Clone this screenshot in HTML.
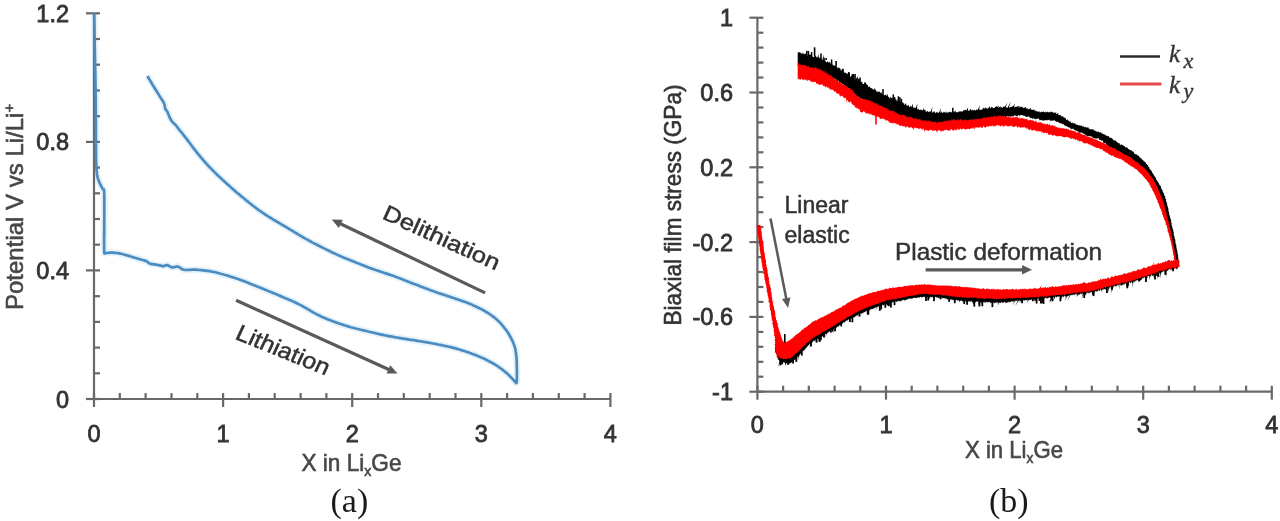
<!DOCTYPE html>
<html><head><meta charset="utf-8"><title>Chart</title>
<style>html,body{margin:0;padding:0;background:#fff;width:1280px;height:521px;overflow:hidden}svg{display:block;filter:blur(0.35px)}</style>
</head><body>
<svg width="1280" height="521" viewBox="0 0 1280 521"><path d="M94.2,13.3 L94.2,14.9 L94.3,16.9 L94.3,19.2 L94.3,21.9 L94.4,24.8 L94.4,27.8 L94.5,30.9 L94.5,34.0 L94.6,37.1 L94.6,40.0 L94.7,42.9 L94.7,45.8 L94.8,48.8 L94.8,51.8 L94.9,54.8 L95.0,57.8 L95.0,60.9 L95.1,63.9 L95.1,67.0 L95.2,70.0 L95.3,72.9 L95.3,75.7 L95.4,78.4 L95.4,81.0 L95.5,83.8 L95.5,86.6 L95.6,89.5 L95.6,92.7 L95.7,96.2 L95.7,100.0 L95.7,104.3 L95.8,109.2 L95.8,114.5 L95.8,120.0 L95.9,125.7 L95.9,131.3 L95.9,136.6 L95.9,141.7 L96.0,146.2 L96.0,150.0 L96.0,153.2 L96.1,155.9 L96.1,158.3 L96.1,160.3 L96.2,162.0 L96.2,163.6 L96.3,165.0 L96.3,166.3 L96.4,167.6 L96.5,169.0 L96.6,170.4 L96.7,171.6 L96.8,172.6 L96.9,173.6 L97.0,174.5 L97.2,175.3 L97.3,176.2 L97.5,177.0 L97.7,177.9 L98.0,178.8 L98.3,179.8 L98.7,180.8 L99.2,181.8 L99.6,182.9 L100.1,183.9 L100.6,184.9 L101.1,185.9 L101.5,186.8 L102.0,187.6 L102.3,188.4 L102.6,188.9 L102.9,189.1 L103.1,189.2 L103.3,189.1 L103.5,189.0 L103.7,189.1 L103.8,189.5 L104.0,190.2 L104.1,191.3 L104.2,193.1 L104.3,195.6 L104.3,198.7 L104.3,202.3 L104.3,206.3 L104.3,210.5 L104.3,214.8 L104.3,219.0 L104.2,223.1 L104.2,226.8 L104.2,230.0 L104.2,232.9 L104.2,235.6 L104.1,238.2 L104.1,240.7 L104.1,243.0 L104.1,245.1 L104.1,247.0 L104.1,248.7 L104.1,250.2 L104.2,251.5 L104.3,252.5 L104.4,253.1 L104.4,253.5 L104.5,253.6 L104.6,253.6 L104.8,253.5 L105.0,253.3 L105.2,253.1 L105.5,253.0 L105.8,253.0 L106.2,253.0 L106.6,253.0 L107.1,253.0 L107.7,252.9 L108.3,252.8 L108.9,252.8 L109.5,252.7 L110.2,252.6 L110.8,252.6 L111.5,252.6 L112.2,252.6 L112.9,252.7 L113.6,252.7 L114.3,252.8 L115.1,252.8 L115.9,252.9 L116.7,253.0 L117.5,253.1 L118.3,253.2 L119.2,253.4 L120.1,253.6 L121.0,253.8 L121.9,254.0 L122.9,254.3 L123.9,254.5 L124.9,254.8 L125.9,255.1 L126.8,255.3 L127.8,255.6 L128.8,255.9 L129.8,256.2 L130.8,256.5 L131.7,256.8 L132.7,257.1 L133.7,257.4 L134.7,257.7 L135.7,258.0 L136.6,258.3 L137.5,258.5 L138.4,258.8 L139.3,259.1 L140.1,259.3 L141.0,259.5 L141.8,259.8 L142.6,260.0 L143.4,260.2 L144.1,260.4 L144.8,260.6 L145.5,260.9 L146.1,261.1 L146.6,261.3 L147.0,261.6 L147.4,261.9 L147.7,262.1 L148.0,262.4 L148.3,262.7 L148.6,262.9 L149.0,263.2 L149.4,263.4 L149.9,263.6 L150.5,263.8 L151.2,263.9 L152.0,264.1 L152.8,264.2 L153.6,264.3 L154.5,264.4 L155.3,264.6 L156.1,264.7 L156.9,264.8 L157.6,264.9 L158.3,265.0 L158.9,265.2 L159.5,265.3 L160.1,265.5 L160.7,265.6 L161.2,265.8 L161.8,265.9 L162.3,266.0 L162.8,266.1 L163.3,266.1 L163.8,266.1 L164.2,266.0 L164.6,265.9 L164.9,265.7 L165.3,265.5 L165.7,265.4 L166.0,265.2 L166.4,265.1 L166.8,265.1 L167.2,265.1 L167.6,265.2 L168.1,265.4 L168.6,265.6 L169.1,265.9 L169.5,266.2 L170.0,266.6 L170.5,266.8 L171.0,267.1 L171.5,267.3 L172.0,267.4 L172.5,267.4 L173.0,267.4 L173.5,267.3 L174.1,267.2 L174.6,267.1 L175.1,266.9 L175.6,266.8 L176.0,266.6 L176.4,266.6 L176.8,266.5 L177.1,266.5 L177.3,266.5 L177.5,266.4 L177.6,266.5 L177.8,266.5 L177.9,266.5 L178.0,266.6 L178.2,266.6 L178.4,266.8 L178.7,266.9 L179.1,267.1 L179.5,267.3 L179.9,267.6 L180.4,268.0 L180.9,268.3 L181.4,268.7 L182.0,269.0 L182.5,269.3 L183.0,269.5 L183.5,269.7 L184.0,269.8 L184.4,269.9 L184.8,270.0 L185.3,270.0 L185.7,270.0 L186.2,270.0 L186.6,270.0 L187.2,269.9 L187.7,269.9 L188.3,269.9 L188.9,269.9 L189.6,269.9 L190.2,269.8 L190.9,269.8 L191.6,269.7 L192.4,269.7 L193.2,269.7 L194.1,269.6 L195.0,269.7 L196.0,269.7 L197.1,269.8 L198.3,269.9 L199.7,270.0 L201.1,270.1 L202.5,270.3 L203.9,270.4 L205.3,270.6 L206.7,270.8 L208.0,270.9 L214.1,272.0 L214.6,272.1 L215.1,272.2 L215.5,272.3 L216.0,272.4 L216.5,272.6 L217.0,272.7 L217.4,272.8 L217.9,272.9 L218.4,273.1 L218.9,273.2 L219.8,273.5 L220.8,273.7 L221.7,274.0 L222.7,274.2 L223.6,274.5 L224.6,274.7 L225.5,275.0 L226.5,275.3 L227.4,275.6 L228.4,275.9 L229.4,276.2 L230.3,276.5 L231.3,276.8 L232.2,277.1 L233.2,277.4 L234.2,277.7 L235.1,278.0 L236.1,278.3 L237.0,278.7 L238.0,279.0 L239.0,279.3 L239.9,279.7 L240.9,280.0 L241.8,280.4 L242.8,280.7 L243.8,281.1 L244.7,281.5 L245.7,281.8 L246.6,282.2 L247.6,282.6 L248.6,283.0 L249.5,283.4 L250.5,283.8 L251.4,284.2 L252.4,284.5 L253.3,284.9 L254.3,285.3 L255.3,285.7 L256.2,286.1 L257.2,286.5 L258.1,286.8 L259.1,287.2 L260.1,287.6 L261.1,288.0 L262.1,288.4 L263.1,288.8 L264.1,289.2 L265.1,289.7 L266.1,290.1 L267.1,290.5 L268.2,290.9 L269.2,291.4 L270.3,291.8 L271.4,292.2 L272.5,292.7 L273.6,293.2 L274.7,293.6 L275.8,294.1 L277.0,294.6 L278.1,295.1 L279.2,295.6 L280.4,296.0 L281.5,296.5 L282.6,297.0 L283.7,297.5 L284.8,297.9 L285.9,298.4 L287.0,298.8 L288.1,299.3 L289.1,299.7 L290.2,300.2 L291.2,300.6 L292.3,301.1 L293.3,301.6 L294.3,302.0 L295.3,302.5 L296.3,303.0 L297.3,303.5 L298.3,303.9 L299.2,304.4 L300.2,304.9 L301.2,305.4 L302.1,305.9 L303.1,306.5 L304.0,307.0 L305.0,307.5 L305.9,308.1 L306.9,308.6 L307.8,309.2 L308.8,309.8 L309.8,310.3 L310.7,310.9 L311.7,311.5 L312.6,312.0 L313.6,312.6 L314.6,313.1 L315.5,313.6 L316.5,314.1 L317.4,314.6 L318.4,315.1 L319.4,315.5 L320.3,316.0 L321.3,316.5 L322.2,316.9 L323.2,317.3 L324.2,317.8 L325.1,318.2 L326.1,318.6 L327.0,319.0 L328.0,319.4 L329.0,319.8 L329.9,320.1 L330.9,320.5 L331.8,320.9 L332.8,321.2 L333.8,321.6 L334.7,321.9 L335.7,322.3 L336.6,322.6 L337.6,323.0 L338.6,323.3 L339.5,323.6 L340.5,324.0 L341.4,324.3 L342.4,324.6 L343.4,324.9 L344.3,325.2 L345.3,325.5 L346.2,325.8 L347.2,326.1 L348.2,326.4 L349.1,326.7 L350.1,327.0 L351.0,327.3 L352.0,327.5 L353.0,327.8 L353.9,328.0 L354.9,328.3 L355.8,328.5 L356.8,328.8 L357.8,329.0 L358.7,329.2 L359.7,329.5 L360.6,329.7 L361.6,329.9 L362.5,330.2 L363.5,330.4 L364.4,330.6 L365.4,330.8 L366.3,331.0 L367.3,331.3 L368.3,331.5 L369.3,331.7 L370.3,332.0 L371.3,332.2 L372.3,332.4 L373.4,332.7 L374.5,333.0 L375.6,333.2 L376.7,333.5 L377.9,333.8 L379.1,334.1 L380.3,334.3 L381.6,334.6 L383.0,334.9 L384.4,335.2 L385.9,335.5 L387.5,335.8 L389.0,336.1 L390.6,336.4 L392.2,336.7 L393.9,337.0 L395.5,337.3 L397.1,337.5 L398.7,337.8 L400.3,338.1 L401.9,338.4 L403.5,338.6 L405.1,338.9 L406.6,339.1 L408.1,339.4 L409.6,339.6 L411.1,339.8 L412.5,340.0 L413.8,340.2 L415.1,340.4 L416.3,340.6 L417.5,340.8 L418.6,341.0 L419.7,341.2 L420.8,341.3 L421.8,341.5 L422.8,341.7 L423.8,341.8 L424.8,342.0 L425.8,342.2 L426.7,342.3 L427.7,342.5 L428.7,342.7 L429.6,342.8 L430.6,343.0 L431.6,343.2 L432.5,343.4 L433.5,343.5 L434.4,343.7 L435.4,343.9 L436.3,344.1 L437.3,344.3 L438.2,344.5 L439.2,344.7 L440.2,344.9 L441.1,345.1 L442.1,345.2 L443.0,345.5 L444.0,345.7 L445.0,345.9 L445.9,346.1 L446.9,346.3 L447.8,346.5 L448.8,346.7 L449.8,346.9 L450.7,347.1 L451.7,347.4 L452.6,347.6 L453.6,347.9 L454.6,348.1 L455.5,348.4 L456.5,348.6 L457.4,348.9 L458.4,349.2 L459.4,349.5 L460.3,349.8 L461.3,350.1 L462.2,350.4 L463.2,350.7 L464.2,351.0 L465.1,351.3 L466.1,351.6 L467.0,352.0 L468.0,352.3 L469.0,352.6 L469.9,353.0 L470.9,353.3 L471.8,353.7 L472.8,354.0 L473.8,354.4 L474.7,354.7 L475.7,355.1 L476.6,355.5 L477.6,355.9 L478.5,356.3 L479.5,356.7 L480.4,357.1 L481.4,357.5 L482.4,357.9 L483.3,358.3 L484.3,358.8 L485.2,359.2 L486.2,359.7 L487.1,360.2 L488.1,360.7 L489.0,361.2 L490.0,361.7 L490.9,362.2 L491.9,362.7 L492.8,363.3 L493.8,363.8 L494.7,364.4 L495.6,364.9 L496.5,365.5 L497.4,366.1 L498.3,366.7 L499.2,367.3 L500.0,367.9 L500.9,368.5 L501.7,369.1 L502.5,369.7 L503.2,370.3 L504.0,370.9 L504.7,371.5 L505.4,372.1 L506.1,372.7 L506.8,373.2 L507.4,373.8 L508.0,374.4 L508.6,374.9 L509.2,375.5 L509.7,376.0 L510.2,376.5 L511.0,377.3 L511.5,377.8 L511.9,378.3 L512.4,378.8 L512.8,379.2 L513.2,379.7 L513.6,380.1 L513.9,380.5 L514.3,380.9 L514.6,381.2 L514.9,381.5 L515.2,381.8 L515.4,382.1 L515.6,382.4 L515.8,382.6 L516.0,382.8 L516.1,383.0 L516.3,383.1 L516.4,383.1 L516.5,382.9 L516.6,382.6 L516.7,382.1 L516.8,381.5 L516.8,380.7 L516.8,379.8 L516.9,378.8 L516.9,377.8 L516.9,376.8 L516.9,375.8 L516.9,374.8 L516.9,374.0 L516.9,373.2 L516.9,372.5 L516.9,371.8 L516.9,371.1 L516.9,370.5 L516.9,369.8 L516.9,369.1 L516.8,368.4 L516.8,367.6 L516.8,366.8 L516.8,365.9 L516.8,365.0 L516.7,364.1 L516.7,363.1 L516.7,362.2 L516.7,361.2 L516.6,360.2 L516.6,359.2 L516.5,358.2 L516.4,357.2 L516.3,356.2 L516.2,355.3 L516.1,354.3 L516.0,353.4 L515.9,352.4 L515.7,351.4 L515.6,350.5 L515.4,349.5 L515.2,348.6 L514.9,347.6 L514.6,346.6 L514.3,345.7 L514.0,344.7 L513.6,343.8 L513.2,342.8 L512.8,341.8 L512.4,340.9 L511.9,339.9 L511.5,339.0 L508.3,333.2 L508.0,332.7 L507.7,332.2 L507.3,331.8 L507.0,331.3 L506.7,330.8 L506.3,330.4 L506.0,329.9 L505.6,329.5 L505.3,329.0 L504.9,328.6 L504.2,327.7 L503.5,326.8 L502.8,325.9 L502.1,325.1 L501.4,324.2 L500.7,323.4 L500.0,322.7 L499.2,321.9 L498.5,321.2 L497.7,320.4 L496.9,319.7 L496.1,319.0 L495.3,318.3 L494.5,317.6 L493.6,316.9 L492.8,316.3 L491.9,315.6 L491.0,315.0 L490.0,314.3 L489.1,313.7 L488.1,313.1 L487.1,312.5 L486.1,311.9 L485.0,311.3 L484.0,310.6 L482.9,310.0 L481.8,309.4 L480.6,308.8 L479.5,308.3 L478.3,307.7 L477.1,307.1 L475.9,306.5 L474.6,305.9 L473.4,305.4 L472.2,304.8 L470.9,304.3 L469.7,303.8 L468.4,303.3 L467.2,302.8 L465.9,302.3 L464.6,301.8 L463.3,301.4 L462.1,300.9 L460.8,300.5 L459.5,300.0 L458.2,299.6 L456.9,299.1 L455.6,298.7 L454.3,298.2 L453.0,297.8 L451.7,297.4 L450.4,296.9 L449.1,296.5 L447.8,296.1 L446.6,295.7 L445.3,295.3 L444.1,294.8 L442.8,294.4 L441.5,294.0 L440.3,293.6 L439.0,293.2 L437.7,292.7 L436.3,292.2 L435.0,291.8 L433.6,291.3 L432.1,290.8 L430.7,290.2 L429.2,289.7 L427.6,289.1 L426.1,288.5 L424.5,287.9 L422.8,287.3 L421.2,286.7 L419.5,286.0 L417.7,285.3 L415.9,284.6 L414.1,283.9 L412.2,283.2 L410.3,282.4 L408.4,281.7 L406.5,280.9 L404.6,280.2 L402.7,279.4 L400.9,278.7 L399.0,278.0 L397.3,277.4 L395.5,276.7 L393.8,276.1 L392.1,275.5 L390.5,274.9 L388.9,274.4 L387.3,273.9 L385.8,273.4 L384.4,272.9 L383.0,272.4 L381.6,271.9 L380.3,271.5 L379.1,271.1 L377.8,270.7 L376.7,270.3 L375.6,270.0 L374.5,269.6 L373.4,269.2 L372.3,268.9 L371.3,268.5 L370.3,268.1 L369.3,267.8 L368.3,267.4 L367.3,267.0 L366.3,266.6 L365.4,266.2 L364.4,265.9 L363.5,265.5 L362.5,265.1 L361.6,264.7 L360.6,264.3 L359.7,263.9 L358.7,263.5 L357.8,263.2 L356.8,262.8 L355.8,262.4 L354.9,262.0 L353.9,261.6 L353.0,261.2 L352.0,260.9 L351.0,260.5 L350.1,260.1 L349.1,259.7 L348.2,259.3 L347.2,258.9 L346.2,258.6 L345.3,258.2 L344.3,257.8 L343.4,257.4 L342.4,257.0 L341.4,256.6 L340.5,256.1 L339.5,255.7 L338.6,255.3 L337.6,254.9 L336.6,254.4 L335.7,254.0 L334.7,253.6 L333.8,253.1 L332.8,252.7 L331.8,252.2 L330.9,251.7 L329.9,251.3 L329.0,250.8 L328.0,250.3 L327.0,249.8 L326.1,249.4 L325.1,248.9 L324.2,248.4 L323.2,247.9 L322.2,247.4 L321.3,247.0 L320.3,246.5 L319.4,246.0 L318.4,245.5 L317.4,245.0 L316.5,244.5 L315.5,244.1 L314.6,243.6 L313.6,243.1 L312.6,242.6 L311.7,242.1 L310.7,241.5 L309.8,241.0 L308.8,240.5 L307.8,240.0 L306.9,239.4 L305.9,238.9 L305.0,238.4 L304.0,237.8 L303.0,237.3 L302.1,236.7 L301.1,236.1 L300.2,235.6 L299.2,235.0 L298.2,234.4 L297.3,233.8 L296.3,233.3 L295.4,232.7 L294.4,232.1 L293.5,231.5 L292.5,231.0 L291.6,230.4 L290.6,229.8 L289.7,229.2 L288.7,228.7 L287.7,228.1 L286.7,227.5 L285.7,226.8 L284.6,226.2 L283.6,225.6 L282.5,225.0 L281.4,224.3 L280.3,223.6 L279.1,223.0 L278.0,222.3 L276.8,221.6 L275.7,221.0 L274.6,220.3 L273.4,219.6 L272.2,218.9 L271.1,218.2 L270.0,217.5 L268.8,216.8 L267.7,216.1 L266.5,215.3 L265.4,214.6 L264.3,213.9 L263.2,213.2 L262.2,212.5 L261.1,211.7 L260.1,211.0 L259.1,210.3 L258.1,209.6 L257.1,208.9 L256.2,208.1 L255.2,207.4 L254.3,206.7 L253.3,206.0 L252.4,205.2 L251.4,204.5 L250.5,203.7 L249.5,203.0 L248.6,202.2 L247.6,201.4 L246.6,200.7 L245.7,199.9 L244.7,199.1 L243.8,198.3 L242.8,197.5 L241.8,196.7 L240.9,195.9 L239.9,195.1 L239.0,194.3 L238.0,193.5 L237.0,192.7 L236.1,191.9 L235.1,191.0 L234.2,190.2 L233.2,189.4 L232.2,188.5 L231.3,187.7 L230.3,186.8 L229.4,186.0 L228.4,185.1 L227.4,184.3 L226.5,183.4 L225.5,182.5 L224.6,181.7 L223.6,180.8 L222.6,179.9 L221.7,179.0 L220.7,178.1 L219.8,177.2 L218.8,176.3 L217.8,175.4 L216.9,174.5 L215.9,173.5 L215.0,172.6 L214.0,171.6 L213.0,170.7 L212.1,169.7 L211.1,168.7 L210.2,167.7 L209.2,166.7 L208.2,165.7 L207.3,164.7 L206.3,163.6 L205.3,162.5 L204.3,161.4 L203.4,160.3 L202.4,159.1 L201.4,158.0 L200.4,156.8 L199.5,155.7 L198.5,154.5 L197.6,153.4 L196.7,152.3 L195.9,151.2 L195.1,150.2 L194.3,149.2 L193.6,148.2 L192.9,147.3 L192.2,146.4 L191.5,145.5 L190.9,144.6 L190.3,143.8 L189.7,143.0 L189.1,142.2 L188.6,141.5 L188.0,140.8 L187.5,140.1 L187.0,139.4 L186.5,138.7 L186.0,138.1 L185.5,137.5 L185.0,136.9 L184.5,136.2 L184.0,135.6 L183.5,135.0 L183.0,134.3 L182.5,133.6 L181.9,132.9 L181.4,132.2 L180.3,131.1 L179.7,130.4 L179.2,129.7 L178.7,129.0 L178.2,128.4 L177.7,127.8 L177.3,127.1 L176.9,126.6 L176.4,126.0 L176.0,125.5 L175.6,125.0 L175.2,124.6 L174.8,124.2 L174.5,123.8 L174.1,123.5 L173.8,123.3 L173.4,123.0 L173.1,122.7 L172.8,122.4 L172.5,122.1 L172.2,121.7 L171.9,121.3 L171.6,120.9 L171.3,120.4 L171.0,119.9 L170.8,119.5 L170.5,119.0 L170.2,118.5 L170.0,118.0 L169.7,117.5 L169.5,117.0 L169.3,116.5 L169.1,116.0 L168.9,115.5 L168.7,114.9 L168.5,114.4 L168.3,113.9 L168.1,113.4 L167.9,112.9 L167.7,112.4 L167.5,112.0 L167.3,111.6 L167.0,111.2 L166.8,110.9 L166.5,110.6 L166.3,110.2 L166.0,109.9 L165.8,109.6 L165.6,109.3 L165.4,108.9 L165.2,108.5 L165.1,108.1 L165.0,107.6 L164.9,107.2 L164.9,106.7 L164.8,106.3 L164.8,105.8 L164.7,105.3 L164.6,104.7 L164.4,104.2 L164.2,103.6 L163.9,103.0 L163.6,102.4 L163.3,101.8 L162.9,101.2 L162.5,100.6 L162.1,99.9 L161.6,99.2 L161.1,98.4 L160.6,97.6 L160.1,96.8 L159.5,95.9 L158.9,94.9 L158.3,93.9 L157.6,92.8 L156.9,91.7 L156.2,90.5 L155.4,89.4 L154.7,88.3 L154.1,87.2 L153.4,86.1 L152.7,85.0 L152.1,83.9 L151.4,82.7 L150.7,81.5 L150.0,80.4 L149.3,79.3 L148.7,78.3 L148.2,77.4 L147.8,76.6 L147.4,76.0" fill="none" stroke="#e6f2fa" stroke-width="6.5" stroke-linejoin="round"/>
<g stroke="#686868" stroke-width="2.2" fill="none"><line x1="94.0" y1="13.3" x2="94.0" y2="399.0" /><line x1="94.0" y1="399.0" x2="610.4" y2="399.0" /><line x1="86.0" y1="399" x2="100.0" y2="399" /><line x1="94.0" y1="373.3" x2="100.0" y2="373.3" /><line x1="94.0" y1="347.6" x2="100.0" y2="347.6" /><line x1="94.0" y1="321.9" x2="100.0" y2="321.9" /><line x1="94.0" y1="296.2" x2="100.0" y2="296.2" /><line x1="86.0" y1="270.4" x2="100.0" y2="270.4" /><line x1="94.0" y1="244.7" x2="100.0" y2="244.7" /><line x1="94.0" y1="219" x2="100.0" y2="219" /><line x1="94.0" y1="193.3" x2="100.0" y2="193.3" /><line x1="94.0" y1="167.6" x2="100.0" y2="167.6" /><line x1="86.0" y1="141.9" x2="100.0" y2="141.9" /><line x1="94.0" y1="116.2" x2="100.0" y2="116.2" /><line x1="94.0" y1="90.5" x2="100.0" y2="90.5" /><line x1="94.0" y1="64.7" x2="100.0" y2="64.7" /><line x1="94.0" y1="39" x2="100.0" y2="39" /><line x1="86.0" y1="13.3" x2="100.0" y2="13.3" /><line x1="94" y1="393.0" x2="94" y2="407.0" /><line x1="119.8" y1="393.0" x2="119.8" y2="399.0" /><line x1="145.6" y1="393.0" x2="145.6" y2="399.0" /><line x1="171.5" y1="393.0" x2="171.5" y2="399.0" /><line x1="197.3" y1="393.0" x2="197.3" y2="399.0" /><line x1="223.1" y1="393.0" x2="223.1" y2="407.0" /><line x1="248.9" y1="393.0" x2="248.9" y2="399.0" /><line x1="274.7" y1="393.0" x2="274.7" y2="399.0" /><line x1="300.6" y1="393.0" x2="300.6" y2="399.0" /><line x1="326.4" y1="393.0" x2="326.4" y2="399.0" /><line x1="352.2" y1="393.0" x2="352.2" y2="407.0" /><line x1="378" y1="393.0" x2="378" y2="399.0" /><line x1="403.8" y1="393.0" x2="403.8" y2="399.0" /><line x1="429.7" y1="393.0" x2="429.7" y2="399.0" /><line x1="455.5" y1="393.0" x2="455.5" y2="399.0" /><line x1="481.3" y1="393.0" x2="481.3" y2="407.0" /><line x1="507.1" y1="393.0" x2="507.1" y2="399.0" /><line x1="532.9" y1="393.0" x2="532.9" y2="399.0" /><line x1="558.8" y1="393.0" x2="558.8" y2="399.0" /><line x1="584.6" y1="393.0" x2="584.6" y2="399.0" /><line x1="610.4" y1="393.0" x2="610.4" y2="407.0" /></g>
<g font-family="Liberation Sans, sans-serif" font-size="23.5" fill="#333" stroke="#333" stroke-width="0.8"><text x="69" y="21.8" text-anchor="end">1.2</text><text x="69" y="150.4" text-anchor="end">0.8</text><text x="69" y="278.9" text-anchor="end">0.4</text><text x="69" y="407.5" text-anchor="end">0</text><text x="94" y="442" text-anchor="middle">0</text><text x="223.1" y="442" text-anchor="middle">1</text><text x="352.2" y="442" text-anchor="middle">2</text><text x="481.3" y="442" text-anchor="middle">3</text><text x="610.4" y="442" text-anchor="middle">4</text></g>
<text font-family="Liberation Sans, sans-serif" font-size="24" fill="#474747" stroke="#474747" stroke-width="0.6" x="301.5" y="471" textLength="100" lengthAdjust="spacingAndGlyphs">X in Li<tspan font-size="15" dy="5">x</tspan><tspan dy="-5">Ge</tspan></text>
<text font-family="Liberation Sans, sans-serif" font-size="24" fill="#474747" stroke="#474747" stroke-width="0.6" transform="translate(22.5,310) rotate(-90)" x="0" y="0">Potential V vs Li/Li<tspan font-size="15" dy="-9">+</tspan></text>
<path d="M94.2,13.3 L94.2,14.9 L94.3,16.9 L94.3,19.2 L94.3,21.9 L94.4,24.8 L94.4,27.8 L94.5,30.9 L94.5,34.0 L94.6,37.1 L94.6,40.0 L94.7,42.9 L94.7,45.8 L94.8,48.8 L94.8,51.8 L94.9,54.8 L95.0,57.8 L95.0,60.9 L95.1,63.9 L95.1,67.0 L95.2,70.0 L95.3,72.9 L95.3,75.7 L95.4,78.4 L95.4,81.0 L95.5,83.8 L95.5,86.6 L95.6,89.5 L95.6,92.7 L95.7,96.2 L95.7,100.0 L95.7,104.3 L95.8,109.2 L95.8,114.5 L95.8,120.0 L95.9,125.7 L95.9,131.3 L95.9,136.6 L95.9,141.7 L96.0,146.2 L96.0,150.0 L96.0,153.2 L96.1,155.9 L96.1,158.3 L96.1,160.3 L96.2,162.0 L96.2,163.6 L96.3,165.0 L96.3,166.3 L96.4,167.6 L96.5,169.0 L96.6,170.4 L96.7,171.6 L96.8,172.6 L96.9,173.6 L97.0,174.5 L97.2,175.3 L97.3,176.2 L97.5,177.0 L97.7,177.9 L98.0,178.8 L98.3,179.8 L98.7,180.8 L99.2,181.8 L99.6,182.9 L100.1,183.9 L100.6,184.9 L101.1,185.9 L101.5,186.8 L102.0,187.6 L102.3,188.4 L102.6,188.9 L102.9,189.1 L103.1,189.2 L103.3,189.1 L103.5,189.0 L103.7,189.1 L103.8,189.5 L104.0,190.2 L104.1,191.3 L104.2,193.1 L104.3,195.6 L104.3,198.7 L104.3,202.3 L104.3,206.3 L104.3,210.5 L104.3,214.8 L104.3,219.0 L104.2,223.1 L104.2,226.8 L104.2,230.0 L104.2,232.9 L104.2,235.6 L104.1,238.2 L104.1,240.7 L104.1,243.0 L104.1,245.1 L104.1,247.0 L104.1,248.7 L104.1,250.2 L104.2,251.5 L104.3,252.5 L104.4,253.1 L104.4,253.5 L104.5,253.6 L104.6,253.6 L104.8,253.5 L105.0,253.3 L105.2,253.1 L105.5,253.0 L105.8,253.0 L106.2,253.0 L106.6,253.0 L107.1,253.0 L107.7,252.9 L108.3,252.8 L108.9,252.8 L109.5,252.7 L110.2,252.6 L110.8,252.6 L111.5,252.6 L112.2,252.6 L112.9,252.7 L113.6,252.7 L114.3,252.8 L115.1,252.8 L115.9,252.9 L116.7,253.0 L117.5,253.1 L118.3,253.2 L119.2,253.4 L120.1,253.6 L121.0,253.8 L121.9,254.0 L122.9,254.3 L123.9,254.5 L124.9,254.8 L125.9,255.1 L126.8,255.3 L127.8,255.6 L128.8,255.9 L129.8,256.2 L130.8,256.5 L131.7,256.8 L132.7,257.1 L133.7,257.4 L134.7,257.7 L135.7,258.0 L136.6,258.3 L137.5,258.5 L138.4,258.8 L139.3,259.1 L140.1,259.3 L141.0,259.5 L141.8,259.8 L142.6,260.0 L143.4,260.2 L144.1,260.4 L144.8,260.6 L145.5,260.9 L146.1,261.1 L146.6,261.3 L147.0,261.6 L147.4,261.9 L147.7,262.1 L148.0,262.4 L148.3,262.7 L148.6,262.9 L149.0,263.2 L149.4,263.4 L149.9,263.6 L150.5,263.8 L151.2,263.9 L152.0,264.1 L152.8,264.2 L153.6,264.3 L154.5,264.4 L155.3,264.6 L156.1,264.7 L156.9,264.8 L157.6,264.9 L158.3,265.0 L158.9,265.2 L159.5,265.3 L160.1,265.5 L160.7,265.6 L161.2,265.8 L161.8,265.9 L162.3,266.0 L162.8,266.1 L163.3,266.1 L163.8,266.1 L164.2,266.0 L164.6,265.9 L164.9,265.7 L165.3,265.5 L165.7,265.4 L166.0,265.2 L166.4,265.1 L166.8,265.1 L167.2,265.1 L167.6,265.2 L168.1,265.4 L168.6,265.6 L169.1,265.9 L169.5,266.2 L170.0,266.6 L170.5,266.8 L171.0,267.1 L171.5,267.3 L172.0,267.4 L172.5,267.4 L173.0,267.4 L173.5,267.3 L174.1,267.2 L174.6,267.1 L175.1,266.9 L175.6,266.8 L176.0,266.6 L176.4,266.6 L176.8,266.5 L177.1,266.5 L177.3,266.5 L177.5,266.4 L177.6,266.5 L177.8,266.5 L177.9,266.5 L178.0,266.6 L178.2,266.6 L178.4,266.8 L178.7,266.9 L179.1,267.1 L179.5,267.3 L179.9,267.6 L180.4,268.0 L180.9,268.3 L181.4,268.7 L182.0,269.0 L182.5,269.3 L183.0,269.5 L183.5,269.7 L184.0,269.8 L184.4,269.9 L184.8,270.0 L185.3,270.0 L185.7,270.0 L186.2,270.0 L186.6,270.0 L187.2,269.9 L187.7,269.9 L188.3,269.9 L188.9,269.9 L189.6,269.9 L190.2,269.8 L190.9,269.8 L191.6,269.7 L192.4,269.7 L193.2,269.7 L194.1,269.6 L195.0,269.7 L196.0,269.7 L197.1,269.8 L198.3,269.9 L199.7,270.0 L201.1,270.1 L202.5,270.3 L203.9,270.4 L205.3,270.6 L206.7,270.8 L208.0,270.9 L214.1,272.0 L214.6,272.1 L215.1,272.2 L215.5,272.3 L216.0,272.4 L216.5,272.6 L217.0,272.7 L217.4,272.8 L217.9,272.9 L218.4,273.1 L218.9,273.2 L219.8,273.5 L220.8,273.7 L221.7,274.0 L222.7,274.2 L223.6,274.5 L224.6,274.7 L225.5,275.0 L226.5,275.3 L227.4,275.6 L228.4,275.9 L229.4,276.2 L230.3,276.5 L231.3,276.8 L232.2,277.1 L233.2,277.4 L234.2,277.7 L235.1,278.0 L236.1,278.3 L237.0,278.7 L238.0,279.0 L239.0,279.3 L239.9,279.7 L240.9,280.0 L241.8,280.4 L242.8,280.7 L243.8,281.1 L244.7,281.5 L245.7,281.8 L246.6,282.2 L247.6,282.6 L248.6,283.0 L249.5,283.4 L250.5,283.8 L251.4,284.2 L252.4,284.5 L253.3,284.9 L254.3,285.3 L255.3,285.7 L256.2,286.1 L257.2,286.5 L258.1,286.8 L259.1,287.2 L260.1,287.6 L261.1,288.0 L262.1,288.4 L263.1,288.8 L264.1,289.2 L265.1,289.7 L266.1,290.1 L267.1,290.5 L268.2,290.9 L269.2,291.4 L270.3,291.8 L271.4,292.2 L272.5,292.7 L273.6,293.2 L274.7,293.6 L275.8,294.1 L277.0,294.6 L278.1,295.1 L279.2,295.6 L280.4,296.0 L281.5,296.5 L282.6,297.0 L283.7,297.5 L284.8,297.9 L285.9,298.4 L287.0,298.8 L288.1,299.3 L289.1,299.7 L290.2,300.2 L291.2,300.6 L292.3,301.1 L293.3,301.6 L294.3,302.0 L295.3,302.5 L296.3,303.0 L297.3,303.5 L298.3,303.9 L299.2,304.4 L300.2,304.9 L301.2,305.4 L302.1,305.9 L303.1,306.5 L304.0,307.0 L305.0,307.5 L305.9,308.1 L306.9,308.6 L307.8,309.2 L308.8,309.8 L309.8,310.3 L310.7,310.9 L311.7,311.5 L312.6,312.0 L313.6,312.6 L314.6,313.1 L315.5,313.6 L316.5,314.1 L317.4,314.6 L318.4,315.1 L319.4,315.5 L320.3,316.0 L321.3,316.5 L322.2,316.9 L323.2,317.3 L324.2,317.8 L325.1,318.2 L326.1,318.6 L327.0,319.0 L328.0,319.4 L329.0,319.8 L329.9,320.1 L330.9,320.5 L331.8,320.9 L332.8,321.2 L333.8,321.6 L334.7,321.9 L335.7,322.3 L336.6,322.6 L337.6,323.0 L338.6,323.3 L339.5,323.6 L340.5,324.0 L341.4,324.3 L342.4,324.6 L343.4,324.9 L344.3,325.2 L345.3,325.5 L346.2,325.8 L347.2,326.1 L348.2,326.4 L349.1,326.7 L350.1,327.0 L351.0,327.3 L352.0,327.5 L353.0,327.8 L353.9,328.0 L354.9,328.3 L355.8,328.5 L356.8,328.8 L357.8,329.0 L358.7,329.2 L359.7,329.5 L360.6,329.7 L361.6,329.9 L362.5,330.2 L363.5,330.4 L364.4,330.6 L365.4,330.8 L366.3,331.0 L367.3,331.3 L368.3,331.5 L369.3,331.7 L370.3,332.0 L371.3,332.2 L372.3,332.4 L373.4,332.7 L374.5,333.0 L375.6,333.2 L376.7,333.5 L377.9,333.8 L379.1,334.1 L380.3,334.3 L381.6,334.6 L383.0,334.9 L384.4,335.2 L385.9,335.5 L387.5,335.8 L389.0,336.1 L390.6,336.4 L392.2,336.7 L393.9,337.0 L395.5,337.3 L397.1,337.5 L398.7,337.8 L400.3,338.1 L401.9,338.4 L403.5,338.6 L405.1,338.9 L406.6,339.1 L408.1,339.4 L409.6,339.6 L411.1,339.8 L412.5,340.0 L413.8,340.2 L415.1,340.4 L416.3,340.6 L417.5,340.8 L418.6,341.0 L419.7,341.2 L420.8,341.3 L421.8,341.5 L422.8,341.7 L423.8,341.8 L424.8,342.0 L425.8,342.2 L426.7,342.3 L427.7,342.5 L428.7,342.7 L429.6,342.8 L430.6,343.0 L431.6,343.2 L432.5,343.4 L433.5,343.5 L434.4,343.7 L435.4,343.9 L436.3,344.1 L437.3,344.3 L438.2,344.5 L439.2,344.7 L440.2,344.9 L441.1,345.1 L442.1,345.2 L443.0,345.5 L444.0,345.7 L445.0,345.9 L445.9,346.1 L446.9,346.3 L447.8,346.5 L448.8,346.7 L449.8,346.9 L450.7,347.1 L451.7,347.4 L452.6,347.6 L453.6,347.9 L454.6,348.1 L455.5,348.4 L456.5,348.6 L457.4,348.9 L458.4,349.2 L459.4,349.5 L460.3,349.8 L461.3,350.1 L462.2,350.4 L463.2,350.7 L464.2,351.0 L465.1,351.3 L466.1,351.6 L467.0,352.0 L468.0,352.3 L469.0,352.6 L469.9,353.0 L470.9,353.3 L471.8,353.7 L472.8,354.0 L473.8,354.4 L474.7,354.7 L475.7,355.1 L476.6,355.5 L477.6,355.9 L478.5,356.3 L479.5,356.7 L480.4,357.1 L481.4,357.5 L482.4,357.9 L483.3,358.3 L484.3,358.8 L485.2,359.2 L486.2,359.7 L487.1,360.2 L488.1,360.7 L489.0,361.2 L490.0,361.7 L490.9,362.2 L491.9,362.7 L492.8,363.3 L493.8,363.8 L494.7,364.4 L495.6,364.9 L496.5,365.5 L497.4,366.1 L498.3,366.7 L499.2,367.3 L500.0,367.9 L500.9,368.5 L501.7,369.1 L502.5,369.7 L503.2,370.3 L504.0,370.9 L504.7,371.5 L505.4,372.1 L506.1,372.7 L506.8,373.2 L507.4,373.8 L508.0,374.4 L508.6,374.9 L509.2,375.5 L509.7,376.0 L510.2,376.5 L511.0,377.3 L511.5,377.8 L511.9,378.3 L512.4,378.8 L512.8,379.2 L513.2,379.7 L513.6,380.1 L513.9,380.5 L514.3,380.9 L514.6,381.2 L514.9,381.5 L515.2,381.8 L515.4,382.1 L515.6,382.4 L515.8,382.6 L516.0,382.8 L516.1,383.0 L516.3,383.1 L516.4,383.1 L516.5,382.9 L516.6,382.6 L516.7,382.1 L516.8,381.5 L516.8,380.7 L516.8,379.8 L516.9,378.8 L516.9,377.8 L516.9,376.8 L516.9,375.8 L516.9,374.8 L516.9,374.0 L516.9,373.2 L516.9,372.5 L516.9,371.8 L516.9,371.1 L516.9,370.5 L516.9,369.8 L516.9,369.1 L516.8,368.4 L516.8,367.6 L516.8,366.8 L516.8,365.9 L516.8,365.0 L516.7,364.1 L516.7,363.1 L516.7,362.2 L516.7,361.2 L516.6,360.2 L516.6,359.2 L516.5,358.2 L516.4,357.2 L516.3,356.2 L516.2,355.3 L516.1,354.3 L516.0,353.4 L515.9,352.4 L515.7,351.4 L515.6,350.5 L515.4,349.5 L515.2,348.6 L514.9,347.6 L514.6,346.6 L514.3,345.7 L514.0,344.7 L513.6,343.8 L513.2,342.8 L512.8,341.8 L512.4,340.9 L511.9,339.9 L511.5,339.0 L508.3,333.2 L508.0,332.7 L507.7,332.2 L507.3,331.8 L507.0,331.3 L506.7,330.8 L506.3,330.4 L506.0,329.9 L505.6,329.5 L505.3,329.0 L504.9,328.6 L504.2,327.7 L503.5,326.8 L502.8,325.9 L502.1,325.1 L501.4,324.2 L500.7,323.4 L500.0,322.7 L499.2,321.9 L498.5,321.2 L497.7,320.4 L496.9,319.7 L496.1,319.0 L495.3,318.3 L494.5,317.6 L493.6,316.9 L492.8,316.3 L491.9,315.6 L491.0,315.0 L490.0,314.3 L489.1,313.7 L488.1,313.1 L487.1,312.5 L486.1,311.9 L485.0,311.3 L484.0,310.6 L482.9,310.0 L481.8,309.4 L480.6,308.8 L479.5,308.3 L478.3,307.7 L477.1,307.1 L475.9,306.5 L474.6,305.9 L473.4,305.4 L472.2,304.8 L470.9,304.3 L469.7,303.8 L468.4,303.3 L467.2,302.8 L465.9,302.3 L464.6,301.8 L463.3,301.4 L462.1,300.9 L460.8,300.5 L459.5,300.0 L458.2,299.6 L456.9,299.1 L455.6,298.7 L454.3,298.2 L453.0,297.8 L451.7,297.4 L450.4,296.9 L449.1,296.5 L447.8,296.1 L446.6,295.7 L445.3,295.3 L444.1,294.8 L442.8,294.4 L441.5,294.0 L440.3,293.6 L439.0,293.2 L437.7,292.7 L436.3,292.2 L435.0,291.8 L433.6,291.3 L432.1,290.8 L430.7,290.2 L429.2,289.7 L427.6,289.1 L426.1,288.5 L424.5,287.9 L422.8,287.3 L421.2,286.7 L419.5,286.0 L417.7,285.3 L415.9,284.6 L414.1,283.9 L412.2,283.2 L410.3,282.4 L408.4,281.7 L406.5,280.9 L404.6,280.2 L402.7,279.4 L400.9,278.7 L399.0,278.0 L397.3,277.4 L395.5,276.7 L393.8,276.1 L392.1,275.5 L390.5,274.9 L388.9,274.4 L387.3,273.9 L385.8,273.4 L384.4,272.9 L383.0,272.4 L381.6,271.9 L380.3,271.5 L379.1,271.1 L377.8,270.7 L376.7,270.3 L375.6,270.0 L374.5,269.6 L373.4,269.2 L372.3,268.9 L371.3,268.5 L370.3,268.1 L369.3,267.8 L368.3,267.4 L367.3,267.0 L366.3,266.6 L365.4,266.2 L364.4,265.9 L363.5,265.5 L362.5,265.1 L361.6,264.7 L360.6,264.3 L359.7,263.9 L358.7,263.5 L357.8,263.2 L356.8,262.8 L355.8,262.4 L354.9,262.0 L353.9,261.6 L353.0,261.2 L352.0,260.9 L351.0,260.5 L350.1,260.1 L349.1,259.7 L348.2,259.3 L347.2,258.9 L346.2,258.6 L345.3,258.2 L344.3,257.8 L343.4,257.4 L342.4,257.0 L341.4,256.6 L340.5,256.1 L339.5,255.7 L338.6,255.3 L337.6,254.9 L336.6,254.4 L335.7,254.0 L334.7,253.6 L333.8,253.1 L332.8,252.7 L331.8,252.2 L330.9,251.7 L329.9,251.3 L329.0,250.8 L328.0,250.3 L327.0,249.8 L326.1,249.4 L325.1,248.9 L324.2,248.4 L323.2,247.9 L322.2,247.4 L321.3,247.0 L320.3,246.5 L319.4,246.0 L318.4,245.5 L317.4,245.0 L316.5,244.5 L315.5,244.1 L314.6,243.6 L313.6,243.1 L312.6,242.6 L311.7,242.1 L310.7,241.5 L309.8,241.0 L308.8,240.5 L307.8,240.0 L306.9,239.4 L305.9,238.9 L305.0,238.4 L304.0,237.8 L303.0,237.3 L302.1,236.7 L301.1,236.1 L300.2,235.6 L299.2,235.0 L298.2,234.4 L297.3,233.8 L296.3,233.3 L295.4,232.7 L294.4,232.1 L293.5,231.5 L292.5,231.0 L291.6,230.4 L290.6,229.8 L289.7,229.2 L288.7,228.7 L287.7,228.1 L286.7,227.5 L285.7,226.8 L284.6,226.2 L283.6,225.6 L282.5,225.0 L281.4,224.3 L280.3,223.6 L279.1,223.0 L278.0,222.3 L276.8,221.6 L275.7,221.0 L274.6,220.3 L273.4,219.6 L272.2,218.9 L271.1,218.2 L270.0,217.5 L268.8,216.8 L267.7,216.1 L266.5,215.3 L265.4,214.6 L264.3,213.9 L263.2,213.2 L262.2,212.5 L261.1,211.7 L260.1,211.0 L259.1,210.3 L258.1,209.6 L257.1,208.9 L256.2,208.1 L255.2,207.4 L254.3,206.7 L253.3,206.0 L252.4,205.2 L251.4,204.5 L250.5,203.7 L249.5,203.0 L248.6,202.2 L247.6,201.4 L246.6,200.7 L245.7,199.9 L244.7,199.1 L243.8,198.3 L242.8,197.5 L241.8,196.7 L240.9,195.9 L239.9,195.1 L239.0,194.3 L238.0,193.5 L237.0,192.7 L236.1,191.9 L235.1,191.0 L234.2,190.2 L233.2,189.4 L232.2,188.5 L231.3,187.7 L230.3,186.8 L229.4,186.0 L228.4,185.1 L227.4,184.3 L226.5,183.4 L225.5,182.5 L224.6,181.7 L223.6,180.8 L222.6,179.9 L221.7,179.0 L220.7,178.1 L219.8,177.2 L218.8,176.3 L217.8,175.4 L216.9,174.5 L215.9,173.5 L215.0,172.6 L214.0,171.6 L213.0,170.7 L212.1,169.7 L211.1,168.7 L210.2,167.7 L209.2,166.7 L208.2,165.7 L207.3,164.7 L206.3,163.6 L205.3,162.5 L204.3,161.4 L203.4,160.3 L202.4,159.1 L201.4,158.0 L200.4,156.8 L199.5,155.7 L198.5,154.5 L197.6,153.4 L196.7,152.3 L195.9,151.2 L195.1,150.2 L194.3,149.2 L193.6,148.2 L192.9,147.3 L192.2,146.4 L191.5,145.5 L190.9,144.6 L190.3,143.8 L189.7,143.0 L189.1,142.2 L188.6,141.5 L188.0,140.8 L187.5,140.1 L187.0,139.4 L186.5,138.7 L186.0,138.1 L185.5,137.5 L185.0,136.9 L184.5,136.2 L184.0,135.6 L183.5,135.0 L183.0,134.3 L182.5,133.6 L181.9,132.9 L181.4,132.2 L180.3,131.1 L179.7,130.4 L179.2,129.7 L178.7,129.0 L178.2,128.4 L177.7,127.8 L177.3,127.1 L176.9,126.6 L176.4,126.0 L176.0,125.5 L175.6,125.0 L175.2,124.6 L174.8,124.2 L174.5,123.8 L174.1,123.5 L173.8,123.3 L173.4,123.0 L173.1,122.7 L172.8,122.4 L172.5,122.1 L172.2,121.7 L171.9,121.3 L171.6,120.9 L171.3,120.4 L171.0,119.9 L170.8,119.5 L170.5,119.0 L170.2,118.5 L170.0,118.0 L169.7,117.5 L169.5,117.0 L169.3,116.5 L169.1,116.0 L168.9,115.5 L168.7,114.9 L168.5,114.4 L168.3,113.9 L168.1,113.4 L167.9,112.9 L167.7,112.4 L167.5,112.0 L167.3,111.6 L167.0,111.2 L166.8,110.9 L166.5,110.6 L166.3,110.2 L166.0,109.9 L165.8,109.6 L165.6,109.3 L165.4,108.9 L165.2,108.5 L165.1,108.1 L165.0,107.6 L164.9,107.2 L164.9,106.7 L164.8,106.3 L164.8,105.8 L164.7,105.3 L164.6,104.7 L164.4,104.2 L164.2,103.6 L163.9,103.0 L163.6,102.4 L163.3,101.8 L162.9,101.2 L162.5,100.6 L162.1,99.9 L161.6,99.2 L161.1,98.4 L160.6,97.6 L160.1,96.8 L159.5,95.9 L158.9,94.9 L158.3,93.9 L157.6,92.8 L156.9,91.7 L156.2,90.5 L155.4,89.4 L154.7,88.3 L154.1,87.2 L153.4,86.1 L152.7,85.0 L152.1,83.9 L151.4,82.7 L150.7,81.5 L150.0,80.4 L149.3,79.3 L148.7,78.3 L148.2,77.4 L147.8,76.6 L147.4,76.0" fill="none" stroke="#4a8cc2" stroke-width="2.7" stroke-linejoin="round"/>
<line x1="485.1" y1="292.9" x2="339.9" y2="223.5" stroke="#5a5a5a" stroke-width="3.2"/><polygon points="331.8,219.6 342.8,219.8 338.8,228.1" fill="#5a5a5a"/>
<line x1="236.1" y1="300.3" x2="389.3" y2="369.8" stroke="#5a5a5a" stroke-width="3.2"/><polygon points="397.5,373.5 386.5,373.6 390.3,365.2" fill="#5a5a5a"/>
<text font-family="Liberation Sans, sans-serif" font-size="22" fill="#333" stroke="#333" stroke-width="0.5" transform="translate(381.2,218.3) rotate(24.5)" textLength="126" lengthAdjust="spacingAndGlyphs">Delithiation</text>
<text font-family="Liberation Sans, sans-serif" font-size="23" fill="#333" stroke="#333" stroke-width="0.5" transform="translate(234,338.5) rotate(22) skewX(-3)" textLength="99" lengthAdjust="spacingAndGlyphs">Lithiation</text>
<g stroke="#686868" stroke-width="2.2" fill="none"><line x1="757.4" y1="17.7" x2="757.4" y2="391.7" /><line x1="757.4" y1="391.7" x2="1271.8" y2="391.7" /><line x1="749.4" y1="17.7" x2="763.4" y2="17.7" /><line x1="757.4" y1="32.7" x2="763.4" y2="32.7" /><line x1="757.4" y1="47.6" x2="763.4" y2="47.6" /><line x1="757.4" y1="62.6" x2="763.4" y2="62.6" /><line x1="757.4" y1="77.5" x2="763.4" y2="77.5" /><line x1="749.4" y1="92.5" x2="763.4" y2="92.5" /><line x1="757.4" y1="107.5" x2="763.4" y2="107.5" /><line x1="757.4" y1="122.4" x2="763.4" y2="122.4" /><line x1="757.4" y1="137.4" x2="763.4" y2="137.4" /><line x1="757.4" y1="152.3" x2="763.4" y2="152.3" /><line x1="749.4" y1="167.3" x2="763.4" y2="167.3" /><line x1="757.4" y1="182.3" x2="763.4" y2="182.3" /><line x1="757.4" y1="197.2" x2="763.4" y2="197.2" /><line x1="757.4" y1="212.2" x2="763.4" y2="212.2" /><line x1="757.4" y1="227.1" x2="763.4" y2="227.1" /><line x1="749.4" y1="242.1" x2="763.4" y2="242.1" /><line x1="757.4" y1="257.1" x2="763.4" y2="257.1" /><line x1="757.4" y1="272" x2="763.4" y2="272" /><line x1="757.4" y1="287" x2="763.4" y2="287" /><line x1="757.4" y1="301.9" x2="763.4" y2="301.9" /><line x1="749.4" y1="316.9" x2="763.4" y2="316.9" /><line x1="757.4" y1="331.9" x2="763.4" y2="331.9" /><line x1="757.4" y1="346.8" x2="763.4" y2="346.8" /><line x1="757.4" y1="361.8" x2="763.4" y2="361.8" /><line x1="757.4" y1="376.7" x2="763.4" y2="376.7" /><line x1="749.4" y1="391.7" x2="763.4" y2="391.7" /><line x1="757.4" y1="385.7" x2="757.4" y2="399.7" /><line x1="783.1" y1="385.7" x2="783.1" y2="391.7" /><line x1="808.8" y1="385.7" x2="808.8" y2="391.7" /><line x1="834.6" y1="385.7" x2="834.6" y2="391.7" /><line x1="860.3" y1="385.7" x2="860.3" y2="391.7" /><line x1="886" y1="385.7" x2="886" y2="399.7" /><line x1="911.7" y1="385.7" x2="911.7" y2="391.7" /><line x1="937.4" y1="385.7" x2="937.4" y2="391.7" /><line x1="963.2" y1="385.7" x2="963.2" y2="391.7" /><line x1="988.9" y1="385.7" x2="988.9" y2="391.7" /><line x1="1014.6" y1="385.7" x2="1014.6" y2="399.7" /><line x1="1040.3" y1="385.7" x2="1040.3" y2="391.7" /><line x1="1066" y1="385.7" x2="1066" y2="391.7" /><line x1="1091.8" y1="385.7" x2="1091.8" y2="391.7" /><line x1="1117.5" y1="385.7" x2="1117.5" y2="391.7" /><line x1="1143.2" y1="385.7" x2="1143.2" y2="399.7" /><line x1="1168.9" y1="385.7" x2="1168.9" y2="391.7" /><line x1="1194.6" y1="385.7" x2="1194.6" y2="391.7" /><line x1="1220.4" y1="385.7" x2="1220.4" y2="391.7" /><line x1="1246.1" y1="385.7" x2="1246.1" y2="391.7" /><line x1="1271.8" y1="385.7" x2="1271.8" y2="399.7" /></g>
<g font-family="Liberation Sans, sans-serif" font-size="23.5" fill="#333" stroke="#333" stroke-width="0.8"><text x="733" y="26.2" text-anchor="end">1</text><text x="733" y="101" text-anchor="end">0.6</text><text x="733" y="175.8" text-anchor="end">0.2</text><text x="733" y="250.6" text-anchor="end">-0.2</text><text x="733" y="325.4" text-anchor="end">-0.6</text><text x="733" y="400.2" text-anchor="end">-1</text><text x="757.4" y="433" text-anchor="middle">0</text><text x="886" y="433" text-anchor="middle">1</text><text x="1014.6" y="433" text-anchor="middle">2</text><text x="1143.2" y="433" text-anchor="middle">3</text><text x="1271.8" y="433" text-anchor="middle">4</text></g>
<text font-family="Liberation Sans, sans-serif" font-size="24" fill="#474747" stroke="#474747" stroke-width="0.6" x="965" y="458" textLength="98" lengthAdjust="spacingAndGlyphs">X in Li<tspan font-size="15" dy="5">x</tspan><tspan dy="-5">Ge</tspan></text>
<text font-family="Liberation Sans, sans-serif" font-size="24" fill="#333" stroke="#333" stroke-width="0.6" transform="translate(680.5,325.5) rotate(-90)" textLength="241" lengthAdjust="spacingAndGlyphs">Biaxial film stress (GPa)</text>
<path d="M797.7,51.6 L798.3,52.5 L798.8,52.7 L799.4,52.0 L799.9,52.3 L800.5,53.1 L801.0,52.4 L801.6,54.0 L802.2,54.0 L802.7,52.5 L803.3,53.1 L803.9,54.8 L804.5,53.4 L805.0,53.9 L805.6,53.5 L806.2,54.2 L806.8,54.0 L807.4,55.7 L808.0,55.7 L808.6,54.5 L809.2,54.1 L809.8,54.9 L810.4,54.4 L811.0,55.0 L811.6,55.2 L812.2,56.2 L812.8,57.0 L813.4,56.9 L814.0,57.0 L814.6,55.2 L815.2,56.2 L815.8,55.5 L816.4,57.0 L816.9,57.6 L817.5,57.6 L818.2,54.0 L818.7,57.1 L819.3,57.4 L819.8,58.8 L820.4,56.9 L821.0,58.4 L821.5,59.5 L822.1,59.5 L822.6,60.2 L823.3,54.0 L823.7,60.4 L824.3,60.1 L824.8,58.7 L825.3,61.4 L825.9,61.2 L826.4,62.2 L826.9,62.2 L827.4,61.5 L828.0,61.4 L828.5,63.1 L829.0,61.8 L829.5,62.0 L830.0,62.4 L830.5,64.2 L831.1,61.9 L831.6,63.7 L832.1,63.3 L832.6,65.2 L833.1,65.9 L833.6,64.4 L834.1,65.4 L834.7,65.7 L835.2,65.8 L835.7,66.0 L836.2,65.8 L836.8,66.2 L837.3,68.7 L837.8,67.2 L838.3,67.1 L838.8,68.5 L839.4,67.8 L839.9,68.2 L840.4,68.8 L840.9,70.5 L841.4,70.9 L842.0,69.5 L842.5,70.7 L843.0,70.2 L843.6,67.8 L844.0,73.2 L844.5,72.3 L845.0,73.0 L845.6,72.1 L846.0,73.8 L846.6,73.5 L847.2,72.8 L847.6,74.1 L848.1,74.6 L848.7,73.7 L849.2,74.0 L849.8,74.3 L850.1,76.8 L850.7,76.8 L851.3,75.7 L851.8,76.2 L852.4,76.1 L852.9,76.2 L853.5,76.4 L853.9,78.2 L854.3,79.1 L854.8,79.8 L855.3,80.2 L856.0,79.2 L856.6,78.8 L857.6,75.4 L857.4,81.1 L858.2,79.6 L858.8,79.7 L859.0,82.1 L859.7,81.5 L860.3,81.3 L860.9,81.0 L861.3,82.3 L862.0,81.5 L862.4,82.8 L862.7,84.0 L863.3,83.9 L863.8,84.2 L865.0,81.5 L865.1,83.7 L865.5,84.7 L866.2,84.1 L866.8,84.4 L867.2,85.0 L867.8,85.0 L868.2,86.3 L868.6,87.3 L869.2,87.3 L870.0,86.1 L870.2,87.8 L870.9,87.7 L871.3,88.5 L872.0,88.0 L872.4,88.9 L873.0,89.0 L873.4,89.8 L874.0,89.9 L875.0,87.6 L875.2,89.7 L875.8,89.8 L876.2,90.7 L876.6,91.6 L877.1,92.2 L877.9,91.0 L878.3,92.5 L879.1,91.0 L879.6,91.9 L880.1,91.9 L880.4,93.6 L881.3,92.1 L881.8,92.9 L882.0,94.7 L882.8,93.8 L883.1,95.1 L883.7,95.4 L884.3,95.3 L885.0,94.9 L885.6,94.6 L886.1,95.0 L886.5,96.3 L887.7,93.5 L887.8,95.7 L888.2,97.0 L888.8,96.8 L889.2,97.7 L889.7,98.4 L890.7,96.3 L890.9,98.5 L891.6,97.8 L892.4,97.2 L892.7,98.5 L893.1,99.5 L894.4,96.4 L894.2,99.8 L894.8,100.0 L895.6,99.2 L896.2,99.1 L896.4,100.9 L897.4,99.4 L897.6,101.1 L898.0,102.1 L899.0,100.3 L899.3,101.6 L900.1,100.8 L900.5,101.8 L901.0,102.3 L901.7,102.1 L902.2,102.5 L902.9,102.1 L903.1,103.8 L904.0,102.5 L904.2,104.4 L904.7,104.9 L905.7,103.3 L906.2,103.6 L906.4,105.7 L907.1,105.4 L907.6,105.8 L908.4,104.9 L908.9,105.6 L909.2,107.0 L909.8,107.1 L910.8,105.5 L911.0,107.2 L912.0,105.7 L913.1,103.5 L912.8,107.3 L913.4,107.7 L914.2,106.8 L914.3,108.8 L915.2,107.6 L915.8,107.9 L917.5,103.3 L917.1,107.6 L917.2,109.7 L918.2,108.5 L918.6,109.1 L919.1,110.0 L919.7,110.0 L920.5,109.3 L920.8,110.4 L921.7,109.4 L922.2,110.1 L922.6,110.8 L924.0,107.8 L924.1,110.0 L924.7,110.0 L925.4,109.6 L925.6,111.5 L926.2,111.4 L926.8,111.8 L927.7,110.8 L928.1,111.5 L928.5,112.2 L929.3,111.7 L930.1,110.9 L930.5,112.0 L932.5,106.6 L931.7,112.0 L932.1,113.0 L933.3,110.8 L933.4,112.6 L934.4,111.2 L934.8,112.1 L935.2,112.8 L935.7,113.3 L936.8,111.5 L937.0,113.3 L938.0,111.7 L938.3,112.8 L938.9,112.9 L940.9,108.1 L940.4,112.0 L940.7,113.0 L941.8,111.3 L942.1,112.6 L942.5,113.2 L943.6,111.6 L943.8,112.8 L944.8,111.7 L945.4,111.8 L945.5,113.5 L946.7,111.2 L946.8,112.9 L947.6,112.3 L948.0,112.9 L949.0,111.8 L949.6,111.8 L949.9,112.6 L950.8,111.5 L951.1,112.7 L951.9,111.8 L952.9,110.8 L953.3,111.2 L953.4,112.8 L954.6,111.0 L954.8,112.3 L955.9,110.6 L956.0,112.0 L956.6,112.2 L957.1,112.5 L957.7,112.2 L958.3,112.1 L959.3,111.0 L959.6,111.7 L960.2,111.7 L961.0,111.0 L961.5,111.3 L961.9,112.0 L962.7,111.2 L963.8,109.8 L963.9,111.1 L965.0,109.6 L965.4,110.1 L966.1,109.7 L966.4,110.7 L968.1,107.2 L968.0,109.4 L968.2,110.6 L968.7,110.8 L969.2,111.1 L970.4,109.0 L971.0,109.0 L971.0,111.0 L972.2,109.0 L972.3,110.7 L973.0,110.0 L973.5,110.5 L974.3,109.6 L974.7,110.2 L975.2,110.6 L975.8,110.5 L976.8,109.2 L977.2,109.8 L977.9,109.4 L980.0,105.1 L979.0,109.7 L979.8,109.2 L980.1,109.9 L980.7,109.9 L981.2,109.9 L982.4,108.2 L982.5,109.8 L983.8,107.6 L984.4,107.4 L984.4,109.2 L985.6,107.4 L986.1,107.7 L986.3,108.7 L987.4,107.4 L987.4,109.0 L988.0,108.8 L989.7,105.9 L989.9,107.0 L989.8,108.7 L990.7,107.8 L991.6,107.0 L992.3,106.9 L992.7,107.5 L992.9,108.2 L993.6,108.0 L994.1,108.3 L995.3,106.9 L996.0,106.5 L996.8,105.9 L996.9,107.2 L997.8,106.5 L998.9,105.2 L998.3,108.2 L999.3,107.1 L1000.0,107.0 L1000.9,106.3 L1000.7,108.1 L1001.9,106.6 L1001.8,108.2 L1002.7,107.5 L1003.9,106.2 L1004.5,106.2 L1004.6,107.3 L1007.4,102.6 L1005.6,107.8 L1006.6,107.0 L1006.8,107.7 L1007.3,107.9 L1011.0,101.6 L1009.0,107.0 L1009.3,107.5 L1009.7,107.8 L1011.0,106.5 L1011.2,107.3 L1012.3,106.3 L1012.8,106.5 L1015.1,103.4 L1014.1,106.3 L1014.3,107.2 L1014.8,107.3 L1015.9,106.4 L1016.3,106.9 L1017.3,106.1 L1017.6,106.7 L1018.3,106.6 L1019.6,105.5 L1019.2,107.2 L1019.4,107.8 L1020.8,106.6 L1021.3,106.9 L1022.2,106.5 L1021.9,108.0 L1023.5,106.5 L1023.1,108.1 L1023.7,108.2 L1025.2,107.0 L1025.6,107.5 L1026.1,107.7 L1026.1,108.8 L1027.5,107.8 L1027.5,108.7 L1027.7,109.4 L1028.6,109.1 L1029.3,109.1 L1030.7,108.3 L1031.1,108.6 L1030.7,110.1 L1031.8,109.6 L1032.3,109.9 L1033.1,109.7 L1034.1,109.4 L1034.6,109.6 L1034.2,111.1 L1035.7,110.0 L1035.4,111.4 L1036.6,110.8 L1036.8,111.5 L1037.6,111.4 L1038.0,111.6 L1038.7,111.8 L1039.8,111.2 L1039.6,112.3 L1040.2,112.5 L1041.6,111.6 L1042.1,111.8 L1042.4,112.2 L1043.6,111.5 L1044.2,111.5 L1044.0,112.6 L1045.5,111.5 L1045.4,112.3 L1045.9,112.5 L1046.8,112.0 L1047.7,111.6 L1047.8,112.3 L1048.2,112.6 L1049.4,111.7 L1049.4,112.5 L1050.8,111.4 L1050.6,112.6 L1052.2,111.3 L1051.9,112.6 L1053.1,111.8 L1053.1,112.8 L1053.8,112.8 L1054.7,112.5 L1055.1,112.9 L1056.4,112.1 L1055.9,113.7 L1056.5,114.0 L1058.1,112.9 L1058.3,113.6 L1058.2,114.7 L1058.6,115.1 L1059.5,115.0 L1060.0,115.3 L1060.9,115.2 L1061.3,115.6 L1061.2,116.6 L1062.1,116.6 L1063.2,116.3 L1063.3,117.1 L1063.6,117.6 L1064.5,117.6 L1065.0,117.9 L1065.6,118.2 L1065.9,118.8 L1066.0,119.5 L1066.2,120.0 L1067.6,119.6 L1067.9,120.1 L1068.2,120.7 L1068.9,120.7 L1069.5,121.0 L1069.5,121.8 L1070.8,121.5 L1070.9,122.0 L1070.9,122.7 L1071.6,122.9 L1073.2,122.3 L1072.7,123.4 L1073.8,123.2 L1074.3,123.4 L1075.3,123.3 L1075.4,123.9 L1075.7,124.4 L1076.5,124.4 L1076.7,124.8 L1077.6,124.8 L1078.1,125.1 L1078.3,125.5 L1079.4,125.3 L1079.9,125.5 L1080.3,125.8 L1081.8,125.2 L1081.5,126.2 L1082.3,126.2 L1082.5,126.7 L1084.0,126.1 L1084.1,126.7 L1084.4,127.2 L1085.1,127.2 L1086.3,126.9 L1086.4,127.5 L1087.1,127.6 L1088.1,127.4 L1088.7,127.6 L1088.6,128.4 L1089.3,128.6 L1089.3,129.3 L1090.2,129.2 L1090.8,129.3 L1091.6,129.4 L1092.4,129.3 L1093.4,129.2 L1092.8,130.5 L1094.5,129.6 L1094.1,130.8 L1095.3,130.4 L1095.0,131.3 L1096.4,130.8 L1096.3,131.7 L1097.0,131.7 L1097.8,131.8 L1099.0,131.4 L1098.7,132.4 L1099.8,132.2 L1100.4,132.3 L1101.2,132.4 L1101.0,133.3 L1102.0,133.2 L1102.4,133.5 L1103.1,133.7 L1103.2,134.2 L1104.1,134.2 L1104.6,134.5 L1105.2,134.8 L1105.8,135.0 L1105.7,135.8 L1106.8,135.7 L1107.6,135.8 L1107.7,136.4 L1109.0,136.1 L1109.1,136.8 L1108.9,137.6 L1110.2,137.3 L1110.3,138.0 L1111.1,138.1 L1112.1,138.1 L1112.4,138.6 L1112.4,139.2 L1112.9,139.6 L1113.7,139.7 L1113.8,140.4 L1114.6,140.5 L1115.6,140.4 L1116.1,140.7 L1116.2,141.4 L1116.7,141.7 L1117.4,141.9 L1117.5,142.6 L1118.0,142.9 L1118.9,142.9 L1118.7,143.8 L1120.3,143.3 L1119.7,144.5 L1120.2,144.9 L1121.9,144.3 L1122.0,144.9 L1122.9,144.9 L1123.0,145.5 L1123.7,145.8 L1124.2,146.1 L1124.7,146.4 L1125.3,146.6 L1125.2,147.4 L1126.4,147.2 L1126.8,147.6 L1127.5,147.8 L1127.8,148.3 L1128.0,148.8 L1128.5,149.1 L1129.4,149.1 L1129.2,149.9 L1129.7,150.3 L1131.2,150.0 L1131.8,150.2 L1131.2,151.3 L1132.4,151.2 L1133.4,151.2 L1133.2,152.0 L1134.0,152.2 L1133.9,152.9 L1134.2,153.4 L1134.8,153.7 L1135.3,154.1 L1135.8,154.4 L1137.0,154.4 L1137.5,154.8 L1137.1,155.6 L1138.4,155.6 L1138.9,155.9 L1139.2,156.4 L1139.5,156.9 L1139.7,157.4 L1140.7,157.6 L1140.4,158.4 L1141.7,158.3 L1141.6,159.0 L1141.9,159.5 L1142.7,159.8 L1143.0,160.2 L1143.5,160.6 L1143.6,161.2 L1144.3,161.5 L1145.0,161.8 L1145.2,162.4 L1146.1,162.6 L1146.1,163.2 L1146.0,163.9 L1147.0,164.1 L1147.0,164.8 L1148.0,165.0 L1148.0,165.7 L1148.2,166.3 L1148.4,166.8 L1149.0,167.2 L1149.5,167.7 L1149.1,168.4 L1149.8,168.8 L1150.5,169.2 L1150.1,170.0 L1151.1,170.3 L1151.3,170.8 L1151.8,171.3 L1152.0,171.8 L1152.1,172.4 L1152.6,172.9 L1152.6,173.5 L1153.5,173.9 L1153.6,174.4 L1153.8,175.0 L1153.9,175.5 L1154.7,176.0 L1154.4,176.6 L1155.3,177.0 L1155.5,177.6 L1156.0,178.1 L1156.0,178.6 L1156.0,179.2 L1156.3,179.7 L1156.8,180.2 L1157.2,180.8 L1157.2,181.3 L1158.3,181.7 L1157.8,182.4 L1158.7,182.8 L1158.9,183.4 L1159.1,183.9 L1159.0,184.5 L1160.0,184.9 L1160.0,185.5 L1160.5,186.0 L1161.0,186.5 L1161.1,187.1 L1160.9,187.7 L1161.1,188.2 L1161.3,188.8 L1162.0,189.3 L1162.1,189.9 L1162.8,190.4 L1162.7,191.0 L1162.5,191.6 L1162.9,192.1 L1163.5,192.7 L1163.7,193.2 L1163.8,193.8 L1164.4,194.3 L1164.0,195.0 L1164.2,195.5 L1165.0,196.1 L1165.2,196.6 L1165.3,197.2 L1165.4,197.8 L1165.1,198.4 L1165.9,199.0 L1166.0,199.5 L1166.1,200.1 L1165.9,200.7 L1166.2,201.3 L1166.5,201.9 L1166.5,202.5 L1167.0,203.1 L1167.2,203.6 L1166.8,204.3 L1167.1,204.9 L1167.8,205.4 L1167.3,206.0 L1167.4,206.6 L1168.2,207.2 L1168.0,207.8 L1168.4,208.4 L1168.4,209.0 L1168.2,209.6 L1168.7,210.2 L1168.4,210.8 L1168.6,211.4 L1168.6,212.0 L1169.4,212.6 L1168.9,213.2 L1169.2,213.8 L1169.1,214.4 L1169.2,214.9 L1169.9,215.6 L1169.9,216.1 L1169.8,216.7 L1170.0,217.3 L1170.7,218.0 L1170.0,218.5 L1170.9,219.2 L1170.9,219.7 L1171.2,220.3 L1171.2,220.9 L1170.7,221.5 L1171.5,222.1 L1171.0,222.7 L1171.8,223.3 L1171.6,223.9 L1171.4,224.5 L1172.0,225.1 L1171.6,225.6 L1172.2,226.3 L1172.0,226.9 L1172.5,227.5 L1172.8,228.1 L1172.4,228.6 L1173.0,229.3 L1173.1,229.9 L1173.3,230.5 L1173.5,231.1 L1173.3,231.6 L1173.8,232.3 L1173.9,232.9 L1173.4,233.4 L1173.7,234.0 L1173.9,234.6 L1173.7,235.1 L1174.2,235.8 L1174.0,236.3 L1174.8,237.1 L1174.5,237.6 L1174.6,238.2 L1174.5,238.7 L1175.4,239.5 L1175.1,240.0 L1175.3,240.6 L1175.8,241.3 L1175.2,241.7 L1175.4,242.3 L1175.3,242.9 L1176.0,243.6 L1175.5,244.1 L1176.1,244.8 L1176.4,245.4 L1176.6,246.0 L1176.0,246.5 L1176.5,247.2 L1176.4,247.7 L1176.6,248.4 L1176.9,249.0 L1176.6,249.5 L1177.3,250.2 L1177.4,250.9 L1177.1,251.4 L1177.6,252.1 L1177.3,252.6 L1177.8,253.3 L1177.4,253.7 L1177.7,254.4 L1178.1,255.1 L1178.2,255.7 L1177.6,256.1 L1178.5,256.9 L1178.0,257.3 L1178.4,258.0 L1178.4,258.6 L1178.4,259.2 L1178.1,259.7 L1179.0,260.6 L1179.1,261.2 L1179.1,261.7 L1179.2,262.4 L1179.1,262.9 L1179.2,263.5 L1179.1,264.1 L1179.2,264.7 L1179.1,265.3 L1179.6,266.1 L1179.0,266.4 L1175.9,264.9 L1176.1,264.5 L1175.8,263.9 L1175.8,263.3 L1175.1,262.5 L1175.6,262.2 L1175.4,261.6 L1175.5,261.1 L1174.7,260.2 L1174.8,259.7 L1174.6,259.1 L1175.0,258.7 L1174.6,258.0 L1174.9,257.5 L1174.5,256.8 L1174.4,256.2 L1173.8,255.5 L1174.1,255.0 L1173.7,254.3 L1173.6,253.7 L1173.4,253.1 L1173.9,252.7 L1173.8,252.1 L1173.1,251.4 L1173.4,250.9 L1173.4,250.3 L1172.8,249.6 L1173.4,249.2 L1173.0,248.5 L1172.6,247.9 L1173.1,247.5 L1173.0,246.9 L1172.6,246.2 L1172.8,245.7 L1172.2,245.0 L1172.6,244.5 L1172.1,243.9 L1171.9,243.3 L1172.1,242.8 L1172.1,242.2 L1171.3,241.5 L1171.8,241.0 L1171.6,240.4 L1171.7,239.9 L1171.1,239.2 L1171.0,238.6 L1170.5,238.0 L1170.5,237.4 L1170.4,236.8 L1170.1,236.2 L1170.1,235.7 L1170.1,235.1 L1170.0,234.5 L1169.8,234.0 L1170.0,233.4 L1169.3,232.8 L1169.7,232.3 L1169.3,231.6 L1169.6,231.1 L1168.7,230.4 L1169.1,229.9 L1169.2,229.4 L1168.7,228.8 L1168.9,228.2 L1168.3,227.6 L1168.0,227.0 L1168.3,226.5 L1167.9,225.8 L1168.1,225.3 L1167.9,224.7 L1167.2,224.1 L1167.7,223.6 L1167.4,223.0 L1167.1,222.4 L1166.9,221.8 L1167.2,221.2 L1166.8,220.6 L1166.9,220.1 L1166.5,219.5 L1166.6,218.9 L1166.2,218.3 L1165.5,217.7 L1165.3,217.1 L1165.9,216.6 L1165.6,216.0 L1165.6,215.4 L1164.8,214.8 L1164.6,214.3 L1164.5,213.7 L1164.7,213.1 L1164.7,212.5 L1164.6,212.0 L1164.4,211.4 L1163.8,210.8 L1163.9,210.2 L1164.2,209.6 L1164.0,209.1 L1163.6,208.5 L1163.5,207.9 L1163.1,207.3 L1162.7,206.8 L1163.0,206.2 L1162.4,205.6 L1162.2,205.0 L1162.1,204.5 L1162.6,203.9 L1162.6,203.3 L1162.3,202.7 L1162.1,202.1 L1162.0,201.5 L1161.7,201.0 L1161.1,200.4 L1161.3,199.8 L1160.6,199.3 L1161.1,198.7 L1160.1,198.2 L1160.1,197.6 L1160.4,197.1 L1159.3,196.6 L1159.6,196.0 L1159.6,195.5 L1158.5,195.0 L1159.1,194.3 L1158.7,193.8 L1158.0,193.3 L1158.2,192.7 L1157.7,192.1 L1158.1,191.5 L1158.2,190.9 L1157.3,190.4 L1157.2,189.8 L1157.7,189.2 L1157.4,188.6 L1157.4,188.0 L1156.3,187.6 L1156.3,187.0 L1156.4,186.4 L1156.3,185.9 L1155.8,185.3 L1155.0,184.9 L1155.6,184.3 L1155.0,183.8 L1154.9,183.2 L1154.2,182.8 L1154.1,182.2 L1154.0,181.7 L1153.3,181.3 L1152.9,180.8 L1152.4,180.3 L1152.6,179.7 L1151.9,179.3 L1151.6,178.8 L1150.9,178.4 L1151.1,177.8 L1150.3,177.4 L1150.2,176.9 L1149.6,176.4 L1149.8,175.8 L1149.0,175.4 L1149.1,174.9 L1148.2,174.5 L1147.8,174.0 L1148.1,173.4 L1147.0,173.1 L1146.7,172.6 L1146.8,172.1 L1145.9,171.8 L1145.5,171.3 L1145.0,170.9 L1144.9,170.4 L1144.7,169.9 L1144.2,169.5 L1143.3,169.3 L1143.0,168.9 L1142.4,168.6 L1142.4,168.0 L1141.5,167.8 L1141.2,167.3 L1140.5,167.0 L1139.9,166.7 L1140.1,166.1 L1139.2,165.9 L1138.7,165.6 L1138.6,165.0 L1137.9,164.8 L1137.3,164.5 L1136.9,164.1 L1136.5,163.6 L1136.6,163.0 L1135.3,163.1 L1134.9,162.7 L1135.2,161.9 L1134.0,161.9 L1134.3,161.2 L1132.7,161.5 L1132.3,161.1 L1132.0,160.6 L1132.2,159.9 L1130.8,160.1 L1130.4,159.7 L1130.6,158.9 L1130.0,158.7 L1129.8,158.2 L1128.3,158.5 L1127.7,158.3 L1127.5,157.7 L1127.8,156.9 L1127.0,156.8 L1126.7,156.4 L1125.7,156.4 L1124.6,156.4 L1124.8,155.7 L1124.2,155.4 L1123.5,155.2 L1123.5,154.6 L1122.5,154.7 L1121.5,154.7 L1121.6,153.9 L1121.1,153.7 L1120.8,153.2 L1119.6,153.4 L1119.6,152.8 L1118.4,153.0 L1118.9,151.9 L1118.3,151.7 L1117.3,151.8 L1117.1,151.3 L1116.1,151.4 L1115.5,151.2 L1115.0,150.9 L1114.2,150.8 L1113.9,150.4 L1113.9,149.7 L1113.2,149.6 L1112.4,149.5 L1111.6,149.4 L1111.0,149.2 L1110.8,148.7 L1110.6,148.1 L1109.5,148.2 L1108.8,148.0 L1109.2,147.0 L1108.6,146.7 L1108.3,146.2 L1107.6,146.0 L1107.3,145.5 L1106.5,145.4 L1106.5,144.6 L1105.6,144.6 L1105.5,143.9 L1105.8,142.9 L1104.8,142.9 L1103.8,142.9 L1103.4,142.5 L1103.3,141.8 L1102.8,141.5 L1103.0,140.6 L1102.1,140.6 L1101.1,140.7 L1100.9,140.1 L1100.0,140.1 L1099.4,139.9 L1099.3,139.3 L1099.2,138.8 L1098.8,138.5 L1098.1,138.3 L1097.4,138.3 L1096.0,138.7 L1095.7,138.4 L1095.1,138.2 L1094.4,138.2 L1093.7,138.1 L1093.3,137.8 L1092.6,137.7 L1092.2,137.5 L1092.4,136.6 L1091.0,137.1 L1091.3,136.2 L1090.6,136.1 L1089.1,136.8 L1089.7,135.5 L1088.1,136.3 L1087.6,136.0 L1087.0,135.9 L1086.4,135.7 L1086.5,134.9 L1085.6,135.0 L1085.2,134.6 L1085.0,134.1 L1083.8,134.4 L1083.9,133.5 L1083.3,133.4 L1082.8,133.2 L1082.1,133.0 L1081.8,132.5 L1081.1,132.5 L1079.9,132.8 L1079.6,132.4 L1078.6,132.5 L1078.6,131.8 L1077.9,131.6 L1077.2,131.5 L1077.4,130.6 L1076.1,131.0 L1075.9,130.5 L1075.1,130.5 L1075.2,129.7 L1074.1,129.9 L1073.9,129.3 L1073.4,129.1 L1073.3,128.4 L1071.5,129.2 L1071.3,128.7 L1070.8,128.4 L1070.0,128.4 L1070.0,127.7 L1069.3,127.6 L1068.6,127.4 L1068.3,127.0 L1067.8,126.7 L1067.0,126.7 L1066.7,126.1 L1065.6,126.3 L1065.8,125.5 L1065.0,125.5 L1064.1,125.5 L1064.2,124.7 L1063.6,124.4 L1063.4,124.0 L1062.2,124.2 L1062.1,123.6 L1061.3,123.6 L1060.9,123.2 L1060.1,123.2 L1059.5,123.0 L1058.8,122.9 L1059.0,121.9 L1057.8,122.3 L1057.7,121.7 L1056.7,121.9 L1056.3,121.6 L1055.9,121.2 L1055.3,121.1 L1054.4,121.3 L1054.8,120.1 L1053.9,120.3 L1052.8,120.8 L1052.5,120.4 L1051.4,120.9 L1051.3,120.2 L1050.0,121.1 L1049.7,120.7 L1049.8,119.8 L1049.2,119.8 L1048.4,120.0 L1048.0,119.7 L1046.6,120.9 L1046.7,120.0 L1046.1,119.9 L1045.3,120.3 L1044.5,120.4 L1044.1,120.2 L1043.1,120.7 L1042.4,120.8 L1042.5,119.8 L1041.5,120.3 L1040.8,120.4 L1040.5,119.8 L1039.4,120.4 L1039.3,119.6 L1039.0,119.1 L1038.7,118.6 L1038.1,118.6 L1037.1,119.0 L1036.6,118.8 L1035.4,119.3 L1034.9,119.2 L1034.5,118.8 L1034.1,118.4 L1033.9,117.8 L1032.3,118.9 L1031.9,118.5 L1031.8,117.9 L1030.8,118.2 L1030.6,117.6 L1029.4,118.3 L1029.8,116.9 L1029.2,116.7 L1028.8,116.4 L1028.0,116.4 L1026.9,117.1 L1026.2,117.0 L1026.1,116.2 L1025.2,116.4 L1024.8,116.1 L1024.5,115.6 L1023.4,116.2 L1023.4,115.3 L1022.6,115.5 L1022.2,115.1 L1021.8,114.9 L1020.9,115.1 L1019.7,116.1 L1019.1,116.1 L1019.5,114.7 L1018.6,115.0 L1017.2,116.4 L1016.7,116.3 L1016.1,116.3 L1015.5,116.2 L1015.8,114.9 L1014.6,116.0 L1014.7,114.9 L1013.0,116.7 L1012.5,116.7 L1012.7,115.4 L1011.5,116.5 L1010.9,116.5 L1010.0,117.1 L1009.8,116.5 L1009.6,115.9 L1008.5,116.9 L1008.5,115.9 L1007.9,115.9 L1007.3,116.1 L1006.5,116.5 L1005.6,117.2 L1005.0,117.3 L1004.9,116.3 L1004.1,116.8 L1003.2,117.5 L1002.6,117.7 L1002.5,116.8 L1001.4,117.9 L1001.0,117.6 L1000.1,118.4 L1000.3,116.5 L999.3,117.6 L999.0,117.1 L998.2,117.6 L997.5,117.9 L997.2,117.4 L996.0,118.8 L996.1,117.3 L995.5,117.3 L994.9,117.6 L994.2,117.7 L993.5,118.1 L993.1,117.9 L992.2,118.6 L991.9,117.9 L990.9,119.1 L990.3,119.1 L990.3,117.9 L989.3,118.9 L988.6,119.3 L987.8,119.9 L987.1,120.4 L986.8,119.6 L986.4,119.2 L986.1,118.7 L984.8,120.6 L984.8,119.0 L984.0,119.9 L983.0,120.9 L982.5,120.8 L982.5,119.4 L982.0,119.3 L981.3,119.6 L980.4,120.4 L979.6,121.3 L979.0,121.5 L978.8,120.5 L978.1,120.8 L977.8,119.9 L976.9,121.0 L976.4,120.9 L975.7,121.1 L974.9,121.9 L974.5,121.3 L974.0,121.3 L973.3,121.7 L972.6,121.8 L972.4,120.7 L971.4,122.3 L970.7,122.6 L970.7,120.9 L969.9,121.6 L968.9,122.7 L968.8,121.3 L967.7,122.8 L967.5,121.8 L966.8,122.0 L966.5,121.2 L965.4,122.9 L964.7,123.2 L964.7,121.4 L963.7,122.6 L963.1,122.7 L962.7,122.3 L961.8,123.2 L961.8,121.3 L961.1,121.8 L960.0,123.4 L959.6,122.7 L959.2,122.1 L958.3,123.1 L957.8,123.0 L957.6,121.8 L956.4,123.4 L956.3,122.0 L955.9,121.6 L954.8,123.1 L954.6,122.0 L953.6,123.2 L952.8,124.0 L952.5,122.9 L951.6,124.0 L951.5,122.3 L951.1,122.0 L949.9,123.9 L949.2,124.4 L949.1,122.6 L948.4,123.1 L947.5,124.3 L947.3,122.8 L946.6,123.2 L945.7,124.4 L945.1,124.4 L944.7,123.9 L944.2,123.6 L943.9,122.8 L942.6,125.0 L942.5,123.4 L942.1,122.9 L941.4,123.2 L940.7,123.6 L939.9,124.2 L939.2,124.6 L938.5,125.0 L938.4,123.4 L937.3,125.1 L937.3,122.9 L936.1,125.0 L936.0,123.5 L935.2,124.2 L934.7,123.5 L934.2,123.3 L933.8,122.7 L932.6,124.5 L932.0,124.6 L931.4,124.6 L931.4,122.5 L930.3,124.3 L929.6,124.5 L929.4,123.0 L928.9,122.5 L928.2,122.9 L927.2,124.1 L926.7,124.0 L926.1,123.8 L926.0,121.7 L924.9,123.9 L924.8,121.7 L924.0,122.3 L923.4,122.4 L922.7,122.9 L922.0,122.9 L921.8,121.3 L920.9,122.7 L920.5,121.6 L919.6,122.7 L919.4,121.4 L919.0,120.3 L917.9,122.4 L917.6,121.1 L916.7,122.1 L916.7,119.7 L915.9,120.5 L915.5,119.5 L914.6,120.8 L914.2,119.8 L913.7,119.5 L913.0,119.9 L912.2,120.4 L911.8,119.7 L911.4,118.9 L910.5,120.1 L910.4,117.9 L909.3,120.0 L908.7,119.7 L908.4,118.5 L907.9,117.9 L907.1,118.6 L906.4,119.3 L906.1,117.6 L905.5,117.6 L904.7,118.6 L904.5,116.8 L904.0,116.3 L903.2,117.0 L902.8,116.3 L902.2,116.1 L901.5,116.4 L900.8,116.9 L900.2,116.9 L899.8,116.1 L899.4,114.9 L898.5,116.4 L898.3,114.5 L897.2,116.5 L896.7,116.0 L896.4,114.8 L895.9,114.3 L895.3,114.2 L894.9,113.4 L894.1,114.0 L893.6,113.8 L892.7,114.9 L892.6,112.7 L892.1,112.2 L891.4,112.9 L890.8,112.9 L890.2,112.7 L889.5,113.0 L888.9,113.1 L888.5,112.1 L888.2,111.0 L887.6,110.9 L886.8,112.0 L886.2,112.0 L885.7,111.6 L885.4,110.3 L884.8,110.5 L884.5,109.2 L883.9,109.0 L883.5,108.3 L882.7,109.2 L882.3,108.6 L881.5,109.5 L881.1,108.6 L880.8,107.1 L880.1,107.8 L879.5,107.8 L879.1,106.8 L878.5,106.9 L878.3,105.3 L877.8,104.9 L876.9,106.2 L876.3,106.3 L875.9,105.3 L875.3,105.8 L874.7,105.7 L874.2,104.9 L873.5,105.5 L873.0,105.0 L872.5,104.5 L872.2,103.0 L871.6,103.2 L871.2,102.0 L870.4,103.1 L870.1,101.6 L869.0,103.8 L868.5,103.7 L868.2,102.1 L867.7,101.6 L866.9,102.3 L866.6,100.7 L865.8,102.1 L865.5,100.2 L864.7,101.5 L864.3,100.5 L863.6,100.7 L863.1,100.5 L862.7,99.3 L862.1,99.2 L861.7,98.5 L861.1,98.7 L860.2,99.9 L860.0,98.2 L859.5,97.6 L859.0,97.3 L858.3,98.0 L857.7,98.4 L857.6,96.1 L856.8,97.8 L856.5,96.8 L856.1,96.4 L855.9,94.5 L855.2,96.0 L855.1,93.9 L854.7,93.1 L854.1,94.9 L853.8,93.5 L853.4,92.6 L852.9,92.9 L852.6,91.5 L852.2,90.7 L851.6,91.1 L851.2,90.1 L850.8,89.5 L850.3,89.2 L849.7,90.1 L849.3,88.2 L848.9,88.0 L848.3,88.8 L847.8,89.2 L847.4,87.8 L846.9,88.0 L846.4,87.5 L845.9,87.5 L845.4,87.2 L845.0,86.2 L844.5,85.9 L844.0,85.5 L843.6,84.2 L843.1,83.9 L842.6,84.4 L842.1,83.8 L841.6,83.5 L841.1,82.4 L840.6,83.2 L840.1,82.0 L839.6,83.3 L839.1,82.0 L838.7,80.4 L838.1,80.9 L837.6,81.8 L837.1,81.7 L836.6,79.5 L836.1,79.8 L835.6,80.5 L835.1,78.6 L834.6,79.8 L834.1,77.7 L833.6,78.4 L833.1,78.5 L832.5,77.2 L832.0,78.7 L831.5,77.1 L831.0,76.3 L830.5,76.3 L829.9,77.0 L829.4,77.0 L828.9,75.1 L828.4,75.6 L827.8,74.9 L827.3,75.9 L826.8,73.5 L826.2,74.5 L825.7,73.3 L825.2,73.5 L824.6,73.6 L824.1,74.3 L823.5,72.8 L823.0,73.2 L822.5,71.7 L821.9,71.3 L821.4,71.5 L820.8,72.4 L820.2,71.5 L819.7,72.3 L819.1,71.9 L818.5,71.7 L818.0,70.7 L817.4,71.1 L816.8,70.0 L816.2,71.7 L815.7,70.2 L815.1,71.1 L814.5,70.0 L813.9,69.7 L813.4,70.5 L812.8,68.8 L812.2,70.0 L811.6,70.2 L811.0,69.8 L810.4,69.1 L809.9,68.9 L809.3,69.4 L808.7,69.0 L808.1,67.4 L807.5,69.2 L807.0,69.6 L806.4,69.2 L805.8,67.4 L805.2,67.4 L804.6,67.3 L804.0,66.9 L803.5,67.6 L802.9,67.6 L802.3,66.7 L801.7,66.5 L801.2,68.1 L800.6,67.9 L800.0,65.6 L799.4,65.4 L798.9,65.1 L798.3,65.8 L797.7,66.4Z" fill="#000"/>
<path d="M777.7,345.8 L778.5,345.0 L779.0,345.1 L779.0,346.0 L779.6,345.7 L780.3,345.4 L780.8,345.4 L781.4,345.2 L781.8,345.4 L781.9,345.9 L782.3,346.0 L782.9,345.7 L783.0,346.2 L784.4,344.7 L784.5,345.0 L784.6,345.3 L785.1,345.1 L785.3,345.2 L786.1,344.5 L786.5,344.2 L786.7,344.4 L787.0,344.3 L787.9,343.1 L788.4,342.6 L788.8,342.5 L789.2,342.1 L789.0,343.1 L789.8,342.0 L790.1,341.7 L790.8,340.9 L790.8,341.5 L791.1,341.5 L791.5,341.1 L792.3,339.8 L792.1,340.9 L792.8,339.8 L793.4,338.8 L793.8,338.7 L793.8,339.3 L794.3,338.8 L794.8,338.0 L795.0,338.3 L795.3,338.3 L795.7,338.1 L796.2,337.5 L796.5,337.5 L797.1,336.1 L797.3,336.9 L797.6,336.8 L797.8,336.9 L798.6,335.2 L799.0,334.7 L799.4,334.2 L799.3,335.8 L799.9,334.8 L800.3,334.2 L800.9,333.1 L801.2,333.3 L801.1,334.7 L801.8,333.1 L802.1,333.1 L802.6,332.4 L802.9,332.3 L803.0,333.0 L803.3,332.8 L804.1,330.9 L804.1,332.3 L804.6,331.4 L804.9,331.5 L805.7,329.6 L805.8,330.3 L806.2,329.7 L806.6,329.3 L807.1,328.5 L807.5,328.3 L807.9,327.7 L807.8,329.0 L808.2,328.8 L808.7,327.9 L808.9,328.3 L809.8,326.3 L809.6,327.9 L810.2,327.0 L810.9,325.8 L810.8,326.9 L811.1,327.0 L811.6,326.5 L812.0,326.0 L812.5,325.3 L812.7,325.7 L813.3,325.0 L814.1,323.5 L814.1,324.3 L814.4,324.5 L814.8,324.0 L815.1,324.1 L815.7,323.2 L816.3,322.4 L816.6,322.6 L816.6,323.4 L817.2,322.6 L817.8,321.9 L818.0,322.2 L818.3,322.1 L818.8,321.8 L819.6,320.6 L819.5,321.7 L820.3,320.3 L820.7,320.1 L821.3,319.5 L821.2,320.7 L822.1,319.4 L822.0,320.3 L822.6,319.7 L823.3,319.0 L823.6,318.9 L823.9,319.0 L824.0,319.7 L824.7,319.0 L825.4,318.1 L825.4,318.9 L826.5,317.1 L826.7,317.4 L827.3,316.9 L827.8,316.5 L828.0,316.8 L828.4,316.7 L828.6,316.9 L828.8,317.3 L829.8,315.7 L830.3,315.2 L830.1,316.4 L830.7,315.9 L830.8,316.2 L831.3,315.8 L831.9,315.1 L832.2,315.2 L832.8,314.4 L833.2,314.2 L833.7,313.7 L834.2,313.3 L834.2,314.0 L834.4,314.2 L835.4,312.7 L835.4,313.2 L835.7,313.3 L836.6,311.9 L837.2,311.2 L837.2,312.0 L837.6,311.6 L838.1,311.2 L838.5,310.9 L838.5,311.7 L839.5,310.1 L839.7,310.3 L839.7,311.0 L840.6,309.6 L841.1,309.2 L841.3,309.5 L841.4,309.9 L842.2,308.9 L842.8,308.1 L842.9,308.7 L843.3,308.3 L843.4,308.9 L843.7,308.8 L844.2,308.4 L845.2,306.8 L845.1,307.7 L845.6,307.2 L846.2,306.5 L846.2,307.3 L847.0,306.2 L846.9,307.0 L848.1,304.9 L848.5,304.7 L848.8,304.8 L849.0,305.0 L849.7,304.0 L849.5,305.1 L849.7,305.4 L850.5,304.3 L850.8,304.2 L851.3,303.6 L851.3,304.2 L852.1,303.1 L852.3,303.4 L852.6,303.2 L853.0,303.0 L853.7,302.2 L854.0,302.1 L854.8,301.0 L855.1,301.0 L855.5,300.8 L855.6,301.3 L856.2,300.7 L856.8,300.1 L856.8,300.7 L857.1,300.8 L857.8,300.2 L858.6,299.2 L859.0,299.0 L859.0,299.9 L859.9,298.7 L860.2,298.8 L860.0,300.0 L860.9,298.8 L861.7,297.9 L861.5,299.2 L862.3,298.3 L862.9,297.7 L862.9,298.6 L863.2,298.7 L864.2,297.5 L864.0,298.7 L864.9,297.6 L864.9,298.4 L865.9,297.0 L865.9,297.9 L867.0,296.4 L866.9,297.3 L867.6,296.6 L867.9,296.9 L868.3,296.8 L868.7,296.7 L869.8,295.4 L870.0,295.8 L870.2,296.0 L870.7,295.8 L870.7,296.6 L872.0,294.9 L872.2,295.3 L872.8,294.8 L873.1,294.9 L873.6,294.7 L873.7,295.3 L873.8,295.7 L875.2,293.8 L874.9,295.1 L875.3,295.2 L876.0,294.4 L876.3,294.6 L876.8,294.5 L877.5,293.9 L878.3,293.1 L878.0,294.3 L878.6,293.8 L879.6,292.8 L880.1,292.6 L879.6,294.1 L880.8,292.7 L880.7,293.5 L881.6,292.6 L882.4,291.9 L882.7,292.1 L882.5,293.2 L883.7,291.7 L883.4,292.8 L884.3,291.9 L884.5,292.4 L884.6,292.8 L885.5,291.9 L886.0,291.8 L886.5,291.5 L887.2,291.2 L887.0,292.1 L887.4,292.1 L888.3,291.2 L888.9,290.9 L889.5,290.7 L889.9,290.6 L889.9,291.3 L891.1,290.0 L890.8,291.1 L892.0,289.9 L891.4,291.4 L892.6,290.3 L892.7,290.7 L893.0,290.9 L893.4,291.0 L893.9,290.9 L894.7,290.2 L894.8,290.7 L895.5,290.3 L895.8,290.5 L897.1,289.3 L896.5,290.7 L897.2,290.2 L898.0,289.8 L898.3,290.0 L898.9,289.7 L899.8,288.9 L900.1,289.1 L900.4,289.2 L901.2,288.8 L901.3,289.2 L902.1,288.6 L902.3,289.0 L902.3,289.5 L903.0,289.2 L903.2,289.5 L904.1,288.7 L905.0,288.1 L905.0,288.7 L905.8,288.2 L905.6,289.1 L906.7,288.1 L906.6,288.8 L907.7,287.9 L907.9,288.1 L908.1,288.5 L909.0,287.7 L909.5,287.6 L909.9,287.7 L909.6,288.6 L911.0,287.3 L910.4,288.8 L911.9,287.2 L912.3,287.2 L912.6,287.5 L912.4,288.3 L912.8,288.4 L914.2,287.0 L914.6,287.0 L914.1,288.3 L915.4,287.1 L915.0,288.2 L915.7,287.8 L916.0,288.0 L917.5,286.6 L917.9,286.7 L917.9,287.3 L918.3,287.3 L919.0,286.9 L919.6,286.8 L919.3,287.7 L920.2,287.1 L920.5,287.3 L921.7,286.3 L921.9,286.7 L921.7,287.5 L922.0,287.6 L923.0,287.0 L923.5,286.9 L923.4,287.7 L924.6,286.7 L924.9,286.9 L925.9,286.3 L926.1,286.7 L926.1,287.3 L927.3,286.3 L927.1,287.2 L927.3,287.5 L927.6,287.8 L929.1,286.5 L929.2,287.0 L929.2,287.5 L929.5,287.7 L930.8,286.8 L930.4,287.8 L931.2,287.5 L931.9,287.2 L932.9,286.7 L933.1,287.0 L933.3,287.4 L934.3,286.8 L934.3,287.3 L934.5,287.7 L935.0,287.7 L935.7,287.5 L935.8,287.9 L936.6,287.6 L937.1,287.6 L937.9,287.2 L938.2,287.5 L938.4,287.9 L938.4,288.3 L939.3,287.9 L939.8,287.9 L939.9,288.3 L941.1,287.6 L941.3,287.8 L942.1,287.5 L941.6,288.7 L943.0,287.6 L942.6,288.6 L943.2,288.5 L943.8,288.3 L944.5,288.1 L944.4,288.8 L946.0,287.5 L945.8,288.3 L946.7,287.8 L946.4,288.8 L947.1,288.5 L947.4,288.7 L948.0,288.6 L948.1,289.1 L949.2,288.3 L949.2,288.9 L949.8,288.8 L950.2,288.8 L950.5,289.1 L951.9,288.0 L951.8,288.6 L952.5,288.4 L952.3,289.3 L953.1,288.8 L953.5,288.9 L954.4,288.4 L954.5,288.9 L955.3,288.6 L955.3,289.2 L956.3,288.4 L956.7,288.5 L956.5,289.5 L957.4,289.1 L958.0,288.9 L958.7,288.5 L959.0,288.8 L959.3,289.1 L959.7,289.2 L960.7,288.5 L960.7,289.1 L961.6,288.6 L961.9,288.8 L961.6,290.0 L962.7,289.2 L963.4,288.9 L963.2,289.9 L964.4,288.9 L964.0,290.2 L965.0,289.5 L965.6,289.3 L965.8,289.7 L966.5,289.4 L966.9,289.6 L967.6,289.3 L967.3,290.5 L968.2,289.9 L969.2,289.2 L968.8,290.4 L969.3,290.5 L970.1,290.1 L970.4,290.3 L970.7,290.6 L971.7,289.8 L971.6,290.8 L971.9,291.2 L972.7,290.7 L973.3,290.5 L973.6,290.8 L973.9,291.1 L974.7,290.6 L974.9,291.0 L975.5,290.9 L975.9,291.1 L976.8,290.3 L977.2,290.5 L977.6,290.8 L978.4,290.2 L978.8,290.4 L978.8,291.1 L978.8,291.8 L979.3,291.8 L979.9,291.7 L980.8,291.1 L981.2,291.2 L981.8,290.9 L981.8,291.8 L982.2,291.9 L982.7,291.8 L983.1,292.1 L984.5,290.6 L984.6,291.2 L985.3,290.8 L985.0,292.1 L986.0,291.2 L986.7,291.0 L986.5,292.0 L987.0,291.9 L987.3,292.2 L988.0,291.9 L988.3,292.3 L989.6,290.8 L989.1,292.5 L989.7,292.2 L990.5,291.8 L991.2,291.5 L991.0,292.4 L992.4,291.0 L992.2,292.1 L993.3,291.1 L993.7,291.2 L993.3,292.6 L994.6,291.2 L995.1,291.2 L995.7,291.1 L995.8,291.7 L996.0,292.0 L996.2,292.5 L996.6,292.8 L997.5,291.9 L997.9,292.1 L998.0,292.7 L999.0,291.9 L999.5,291.7 L1000.3,291.2 L1000.7,291.4 L1000.3,292.8 L1001.2,292.1 L1001.7,292.1 L1002.2,292.1 L1002.5,292.3 L1002.8,292.6 L1004.0,291.4 L1004.0,292.1 L1004.7,291.8 L1004.6,292.8 L1005.4,292.1 L1005.5,292.9 L1006.5,291.9 L1006.4,292.9 L1007.8,291.2 L1008.0,291.8 L1008.5,291.6 L1008.2,293.0 L1009.1,292.3 L1009.9,291.7 L1009.9,292.4 L1010.3,292.6 L1011.5,291.2 L1011.5,292.1 L1012.2,291.6 L1012.6,291.9 L1012.5,292.8 L1013.0,292.7 L1014.1,291.6 L1014.7,291.3 L1015.1,291.4 L1015.2,292.2 L1016.1,291.4 L1016.2,292.0 L1017.1,291.2 L1017.4,291.4 L1017.5,292.1 L1018.5,291.2 L1018.4,292.1 L1019.2,291.6 L1019.3,292.1 L1020.2,291.3 L1020.7,291.3 L1020.3,292.7 L1021.2,292.0 L1021.6,292.1 L1022.6,291.2 L1022.3,292.5 L1023.1,291.9 L1023.2,292.4 L1023.8,292.3 L1024.4,292.0 L1025.1,291.5 L1025.5,291.7 L1026.5,290.8 L1026.1,292.2 L1027.4,290.8 L1027.1,292.0 L1027.9,291.5 L1028.2,291.7 L1028.9,291.2 L1029.2,291.6 L1029.9,291.2 L1030.2,291.4 L1030.6,291.4 L1030.6,292.1 L1031.6,291.2 L1032.4,290.6 L1032.0,292.1 L1033.4,290.4 L1033.5,291.0 L1034.1,290.7 L1034.6,290.7 L1034.7,291.2 L1035.6,290.5 L1036.2,290.2 L1036.0,291.4 L1037.0,290.4 L1036.8,291.6 L1037.3,291.5 L1037.9,291.2 L1038.4,291.0 L1038.7,291.3 L1039.1,291.2 L1039.5,291.4 L1040.3,290.8 L1040.6,291.1 L1041.7,289.9 L1041.6,290.8 L1042.2,290.4 L1043.0,289.9 L1043.6,289.5 L1043.8,290.0 L1043.6,291.0 L1044.4,290.4 L1044.8,290.5 L1045.7,289.5 L1046.3,289.4 L1046.6,289.6 L1047.1,289.5 L1047.8,289.0 L1047.7,289.9 L1048.0,290.3 L1048.8,289.6 L1048.8,290.3 L1049.6,289.7 L1050.3,289.1 L1050.7,289.3 L1051.3,288.8 L1051.7,289.0 L1052.4,288.5 L1052.8,288.6 L1052.6,289.8 L1053.5,288.9 L1053.9,288.8 L1054.0,289.5 L1054.9,288.6 L1055.1,289.2 L1056.0,288.2 L1055.8,289.5 L1056.7,288.6 L1056.7,289.5 L1057.4,289.0 L1057.8,289.2 L1058.8,287.9 L1058.5,289.4 L1059.3,288.6 L1060.1,288.0 L1060.3,288.4 L1061.1,287.6 L1061.7,287.4 L1061.3,289.1 L1062.2,288.3 L1062.6,288.3 L1063.0,288.3 L1063.8,287.6 L1063.8,288.6 L1064.3,288.5 L1065.4,287.0 L1065.8,287.1 L1065.5,288.7 L1066.6,287.4 L1066.7,288.0 L1067.7,286.7 L1067.6,287.9 L1068.2,287.7 L1068.4,288.3 L1069.6,286.5 L1069.6,287.5 L1069.7,288.2 L1070.3,287.9 L1071.2,286.9 L1071.4,287.4 L1072.2,286.5 L1072.0,288.1 L1072.8,287.3 L1073.6,286.4 L1073.8,286.9 L1074.4,286.6 L1074.8,286.5 L1075.5,285.9 L1075.7,286.5 L1076.1,286.7 L1076.7,286.2 L1077.2,286.1 L1077.4,286.7 L1077.8,286.9 L1078.4,286.4 L1079.0,286.1 L1079.7,285.2 L1080.0,285.5 L1080.5,285.6 L1081.1,285.0 L1081.0,286.5 L1081.8,285.5 L1082.5,284.9 L1082.2,286.8 L1083.4,284.7 L1083.7,285.0 L1083.7,286.4 L1084.8,284.6 L1084.9,285.3 L1085.4,285.1 L1085.5,286.1 L1086.1,285.6 L1086.4,286.1 L1087.2,285.1 L1087.4,285.6 L1088.5,283.8 L1088.3,285.6 L1089.3,283.9 L1089.3,285.0 L1090.0,284.3 L1090.1,285.5 L1091.0,283.9 L1091.3,284.4 L1091.9,283.8 L1092.4,283.4 L1092.9,283.5 L1093.4,283.1 L1093.4,284.5 L1094.2,283.2 L1094.4,283.9 L1094.9,283.6 L1095.7,282.4 L1096.2,282.2 L1096.2,283.7 L1097.0,282.2 L1097.4,282.3 L1097.9,282.2 L1098.4,282.0 L1098.5,282.9 L1098.8,283.2 L1099.5,282.3 L1100.2,281.3 L1100.2,283.0 L1101.1,281.1 L1101.4,281.4 L1101.7,281.9 L1102.4,281.1 L1102.5,282.0 L1102.9,282.0 L1103.6,280.9 L1104.1,280.9 L1104.2,282.0 L1104.7,281.7 L1105.6,279.7 L1106.0,280.0 L1106.2,280.9 L1106.7,280.5 L1107.4,279.3 L1107.4,281.2 L1108.3,279.2 L1108.4,280.4 L1109.2,278.8 L1109.5,279.4 L1109.7,280.3 L1110.3,279.7 L1110.6,279.9 L1111.0,280.0 L1111.8,278.5 L1112.0,279.5 L1112.4,279.7 L1112.9,279.2 L1113.3,279.2 L1113.9,278.7 L1114.4,278.4 L1115.0,277.5 L1115.1,279.0 L1115.5,278.9 L1116.0,278.6 L1116.5,278.7 L1117.1,277.7 L1117.4,278.6 L1118.0,277.3 L1118.6,276.5 L1118.9,277.2 L1119.5,276.3 L1119.7,277.6 L1120.4,276.4 L1120.6,277.2 L1121.1,277.0 L1121.6,276.6 L1122.1,276.4 L1122.6,275.8 L1123.0,276.2 L1123.3,276.9 L1124.0,275.4 L1124.5,274.9 L1124.8,275.5 L1125.1,276.3 L1125.6,276.3 L1126.2,275.2 L1126.7,274.8 L1127.0,275.8 L1127.7,274.0 L1128.0,274.6 L1128.3,275.5 L1128.8,275.3 L1129.3,274.7 L1129.6,275.5 L1130.3,273.5 L1130.6,274.7 L1131.2,273.5 L1131.4,274.7 L1131.9,274.6 L1132.5,272.7 L1132.8,274.2 L1133.3,273.5 L1133.9,272.3 L1134.3,272.0 L1134.5,273.8 L1135.0,273.2 L1135.5,272.8 L1136.1,271.7 L1136.3,273.2 L1136.9,272.0 L1137.5,270.9 L1137.9,271.0 L1138.3,271.3 L1138.6,271.9 L1139.0,272.5 L1139.5,271.4 L1139.9,272.4 L1140.5,270.5 L1141.0,269.8 L1141.3,270.9 L1141.8,270.8 L1142.2,271.1 L1142.7,269.9 L1143.0,270.8 L1143.5,271.1 L1144.0,270.1 L1144.5,268.7 L1144.9,269.1 L1145.3,269.5 L1145.7,270.1 L1146.3,268.5 L1146.7,268.7 L1147.0,269.6 L1147.5,269.3 L1148.0,267.8 L1148.4,269.2 L1148.9,267.8 L1149.2,269.3 L1149.7,269.2 L1150.2,267.4 L1150.7,266.7 L1151.1,268.0 L1151.5,267.6 L1151.9,268.4 L1152.4,268.1 L1152.8,267.6 L1153.3,267.3 L1153.8,265.7 L1154.2,266.1 L1154.6,267.1 L1155.1,267.3 L1155.6,265.7 L1156.0,266.7 L1156.4,265.7 L1156.9,265.5 L1157.3,266.2 L1157.8,265.4 L1158.2,266.0 L1158.7,264.7 L1159.1,265.8 L1159.5,265.5 L1160.0,264.1 L1160.5,263.6 L1160.9,265.0 L1161.3,265.4 L1161.8,265.1 L1162.2,264.2 L1162.7,264.0 L1163.1,263.4 L1163.6,264.7 L1164.0,263.7 L1164.5,264.2 L1165.0,262.9 L1165.4,263.4 L1165.9,262.9 L1166.3,262.8 L1166.8,262.0 L1167.2,262.6 L1167.7,262.2 L1168.1,263.7 L1168.6,261.5 L1169.1,261.9 L1169.5,263.5 L1170.0,261.7 L1170.5,261.8 L1170.9,263.3 L1171.4,263.2 L1171.8,261.3 L1172.3,261.1 L1172.8,262.3 L1173.3,263.0 L1173.7,263.0 L1174.2,262.6 L1174.6,260.8 L1175.1,262.3 L1175.6,262.1 L1176.0,260.9 L1176.5,262.8 L1176.9,260.5 L1177.4,260.6 L1177.8,261.6 L1178.3,261.5 L1178.7,260.1 L1179.2,260.1 L1179.2,267.6 L1178.8,267.0 L1178.3,266.5 L1177.9,267.3 L1177.5,268.6 L1177.0,269.1 L1176.6,268.8 L1176.1,269.3 L1175.6,267.8 L1175.2,267.9 L1174.7,268.0 L1174.3,268.4 L1173.8,269.9 L1173.3,268.5 L1172.9,269.9 L1172.4,269.7 L1171.9,270.6 L1171.5,269.1 L1171.0,269.2 L1170.5,269.7 L1170.0,269.2 L1169.6,269.3 L1169.1,269.3 L1168.6,269.3 L1168.2,270.2 L1167.7,271.2 L1167.2,270.2 L1166.8,269.9 L1166.3,277.3 L1165.8,270.1 L1165.3,272.2 L1164.9,272.0 L1164.4,271.0 L1164.0,271.0 L1163.5,270.7 L1163.0,272.0 L1162.6,272.1 L1162.1,271.5 L1161.6,273.4 L1161.2,271.4 L1160.6,278.2 L1160.2,273.5 L1159.8,273.7 L1159.4,272.3 L1158.9,272.8 L1158.4,273.6 L1158.0,273.0 L1157.3,279.8 L1157.1,273.3 L1156.6,273.0 L1156.2,273.3 L1155.7,273.3 L1155.2,275.2 L1154.7,274.8 L1154.3,275.5 L1153.8,274.6 L1153.2,278.0 L1152.9,275.2 L1152.4,276.1 L1152.0,275.8 L1151.6,274.7 L1151.1,275.8 L1150.6,276.0 L1150.1,277.3 L1149.5,280.0 L1149.3,275.8 L1148.8,275.8 L1148.4,276.2 L1147.9,275.7 L1147.3,278.0 L1146.9,278.0 L1146.4,278.0 L1146.0,278.0 L1145.5,278.5 L1145.1,277.5 L1144.7,276.8 L1144.2,278.0 L1143.7,278.5 L1143.4,277.4 L1142.9,277.7 L1142.4,278.1 L1141.8,279.5 L1141.4,279.6 L1140.9,280.3 L1140.4,280.4 L1140.0,280.2 L1139.6,280.0 L1139.1,279.8 L1138.6,280.4 L1138.2,280.7 L1137.8,280.3 L1137.4,279.8 L1136.8,280.7 L1136.5,280.0 L1135.8,281.6 L1135.5,280.4 L1135.0,281.5 L1134.5,281.4 L1133.9,282.6 L1133.7,280.5 L1132.4,288.0 L1132.6,283.0 L1132.1,282.9 L1131.7,282.4 L1131.4,281.3 L1130.8,282.5 L1130.2,283.7 L1130.0,281.9 L1129.5,282.7 L1129.1,281.8 L1128.6,282.8 L1128.1,282.9 L1127.4,284.5 L1126.9,284.7 L1126.7,283.0 L1126.2,283.7 L1125.7,283.8 L1125.4,282.9 L1124.6,285.2 L1124.4,283.5 L1124.0,283.3 L1123.2,285.4 L1123.0,283.9 L1122.3,285.6 L1121.8,285.5 L1121.4,285.2 L1121.0,285.1 L1120.7,284.1 L1119.3,289.7 L1119.8,284.5 L1119.3,284.8 L1118.8,284.6 L1118.0,286.7 L1117.8,285.1 L1117.4,285.3 L1116.9,285.1 L1116.1,287.0 L1116.0,285.6 L1115.1,287.4 L1115.1,285.5 L1114.5,285.9 L1114.1,285.8 L1113.5,286.7 L1112.3,290.4 L1111.2,293.1 L1112.1,286.8 L1111.7,286.6 L1111.2,287.1 L1110.8,286.9 L1110.2,287.3 L1109.9,286.9 L1109.0,288.9 L1107.6,293.1 L1108.2,288.4 L1108.1,287.3 L1107.3,288.7 L1107.1,287.7 L1106.7,287.5 L1105.8,289.4 L1105.3,289.6 L1105.1,288.6 L1104.4,289.6 L1104.1,289.0 L1103.8,288.6 L1103.1,289.9 L1102.9,288.7 L1101.5,292.4 L1101.6,290.3 L1101.2,290.2 L1101.0,289.5 L1100.6,289.1 L1099.7,290.9 L1099.3,290.8 L1098.6,291.6 L1098.8,289.6 L1098.2,290.1 L1097.4,291.3 L1096.8,292.0 L1096.6,291.2 L1096.1,291.3 L1095.8,290.9 L1095.2,291.5 L1094.5,292.2 L1094.0,292.6 L1092.9,294.6 L1093.1,292.4 L1092.6,292.5 L1092.0,293.1 L1092.0,291.8 L1091.6,291.7 L1090.6,293.3 L1090.5,292.3 L1090.3,291.5 L1089.2,293.5 L1088.7,293.6 L1088.6,292.6 L1088.0,293.1 L1087.9,292.0 L1086.8,294.1 L1086.4,293.7 L1086.4,292.3 L1085.5,293.8 L1085.2,293.4 L1084.8,293.3 L1084.5,292.7 L1083.5,294.3 L1081.4,298.8 L1083.1,292.8 L1082.2,294.0 L1081.6,294.5 L1081.7,292.9 L1080.7,294.6 L1080.7,293.3 L1079.8,294.6 L1079.2,294.7 L1079.2,293.8 L1078.1,295.2 L1077.7,295.3 L1076.5,297.2 L1077.4,293.6 L1076.3,295.3 L1076.3,294.1 L1076.0,293.8 L1075.4,294.0 L1074.5,295.1 L1074.0,295.3 L1074.1,294.0 L1073.3,294.9 L1072.7,295.3 L1072.6,294.4 L1071.9,295.0 L1071.5,294.7 L1070.5,296.1 L1070.7,294.5 L1067.4,301.3 L1069.8,294.5 L1069.1,295.0 L1068.1,296.3 L1067.7,296.1 L1067.1,296.6 L1064.6,301.3 L1066.4,295.9 L1065.7,296.5 L1065.2,296.7 L1064.8,296.5 L1064.9,295.2 L1063.7,296.8 L1062.6,298.3 L1063.4,295.5 L1062.5,296.4 L1059.8,301.4 L1061.5,296.7 L1061.0,296.8 L1060.6,296.5 L1060.0,296.8 L1059.7,296.5 L1059.5,296.1 L1058.9,296.2 L1058.1,296.9 L1057.8,296.6 L1057.5,296.3 L1056.4,297.7 L1056.3,297.0 L1055.8,297.0 L1055.8,296.0 L1052.7,301.5 L1054.1,297.6 L1053.7,297.6 L1053.6,296.7 L1053.3,296.6 L1049.5,303.3 L1050.4,300.6 L1049.4,301.6 L1050.9,297.7 L1050.1,298.3 L1050.4,296.9 L1049.3,298.1 L1049.4,297.1 L1048.5,298.0 L1048.0,297.9 L1047.3,298.5 L1047.0,298.3 L1046.4,298.5 L1046.5,297.4 L1045.7,298.1 L1045.3,298.0 L1045.0,297.7 L1044.2,298.4 L1043.5,298.8 L1043.1,298.8 L1042.7,298.7 L1042.1,298.8 L1041.5,299.2 L1041.8,297.7 L1040.8,298.8 L1040.9,297.7 L1039.6,299.4 L1039.2,299.2 L1039.3,298.2 L1038.5,298.8 L1038.3,298.4 L1037.5,298.9 L1037.5,298.2 L1036.5,299.2 L1035.7,299.7 L1035.2,299.9 L1035.4,298.6 L1034.9,298.8 L1034.4,298.8 L1033.3,300.1 L1033.7,298.5 L1032.5,299.8 L1032.3,299.4 L1031.5,300.0 L1031.7,298.9 L1030.6,299.9 L1030.2,299.9 L1029.4,300.5 L1029.6,299.3 L1028.8,300.0 L1026.4,303.3 L1027.6,300.5 L1027.7,299.5 L1026.8,300.3 L1026.6,299.9 L1025.7,300.6 L1025.7,299.8 L1024.9,300.4 L1024.5,300.4 L1023.6,301.0 L1024.1,299.5 L1022.7,301.0 L1022.3,301.0 L1022.3,300.1 L1021.8,300.3 L1019.7,303.0 L1021.1,300.0 L1019.8,301.4 L1019.4,301.3 L1019.6,300.2 L1019.1,300.3 L1015.0,306.3 L1017.7,301.1 L1017.6,300.4 L1016.8,301.1 L1016.7,300.4 L1015.8,301.2 L1015.9,300.3 L1012.4,305.5 L1014.6,300.9 L1014.4,300.5 L1013.1,302.1 L1012.7,301.8 L1012.4,301.7 L1012.4,301.0 L1011.9,301.0 L1010.8,302.1 L1010.2,302.4 L1010.4,301.3 L1009.3,302.3 L1008.9,302.3 L1008.3,302.6 L1008.6,301.2 L1007.3,302.8 L1007.1,302.4 L1006.4,302.7 L1006.2,302.4 L1005.5,302.7 L1005.1,302.8 L1005.0,302.0 L1004.8,301.7 L1003.7,302.7 L1003.8,301.7 L1002.5,303.3 L1002.5,302.5 L1001.7,303.1 L1002.0,301.8 L1001.3,302.2 L1000.2,303.2 L1000.0,302.8 L999.8,302.3 L997.4,305.8 L998.9,302.3 L997.8,303.3 L998.1,301.9 L996.8,303.5 L997.0,302.3 L996.3,302.6 L996.0,302.2 L995.2,302.9 L994.3,303.5 L994.3,302.8 L993.9,302.5 L993.6,302.2 L992.9,302.5 L992.2,303.0 L992.3,301.9 L991.0,303.2 L990.8,302.8 L990.1,303.1 L990.2,302.1 L989.9,301.8 L989.1,302.3 L988.9,301.7 L987.6,303.1 L987.9,301.8 L986.9,302.6 L986.9,301.6 L985.8,302.8 L985.5,302.3 L984.6,303.0 L985.0,301.5 L983.9,302.6 L983.6,302.2 L983.3,301.9 L982.8,301.9 L981.8,302.6 L981.3,302.6 L980.8,302.7 L980.7,302.0 L980.1,302.0 L980.0,301.5 L979.8,301.1 L979.3,301.1 L978.1,302.1 L978.1,301.4 L977.4,301.6 L976.5,302.2 L976.8,301.0 L975.4,302.4 L975.0,302.3 L975.1,301.3 L974.2,301.9 L973.6,302.1 L973.0,302.3 L972.9,301.8 L972.1,302.2 L971.9,301.8 L972.0,300.8 L971.1,301.5 L970.6,301.5 L969.7,302.0 L969.8,301.2 L969.4,301.1 L968.6,301.6 L968.1,301.5 L968.2,300.7 L966.7,302.1 L966.4,301.9 L966.1,301.5 L965.8,301.3 L965.2,301.4 L965.1,300.8 L963.9,301.9 L963.4,301.9 L963.8,300.5 L962.8,301.2 L961.9,301.8 L962.1,300.8 L961.6,300.7 L961.4,300.2 L960.6,300.7 L959.5,301.6 L958.9,301.8 L959.1,300.7 L959.0,300.1 L957.8,301.1 L958.0,300.0 L956.8,301.0 L957.0,299.9 L956.6,299.8 L956.0,299.8 L954.8,300.8 L954.5,300.5 L954.3,300.0 L953.5,300.3 L953.2,300.0 L952.8,299.8 L952.3,299.7 L951.4,300.2 L951.4,299.5 L951.4,298.7 L949.9,300.0 L949.9,299.3 L949.1,299.6 L949.2,298.8 L948.6,298.8 L947.5,299.6 L947.0,299.5 L947.2,298.6 L946.2,299.1 L946.2,298.4 L945.4,298.8 L945.2,298.3 L944.8,298.1 L943.9,298.7 L944.1,297.7 L943.1,298.3 L942.4,298.5 L942.5,297.7 L941.6,298.2 L941.8,297.2 L941.2,297.4 L940.5,297.6 L940.0,297.5 L939.4,297.7 L938.7,297.8 L938.1,297.9 L938.0,297.5 L937.2,297.7 L937.1,297.3 L936.6,297.3 L935.7,297.7 L936.0,296.7 L935.5,296.8 L934.2,297.6 L934.2,297.0 L933.2,297.6 L932.7,297.5 L932.7,297.0 L932.6,296.6 L931.3,297.4 L931.2,297.0 L930.2,297.5 L930.6,296.6 L929.7,296.9 L929.3,296.9 L929.1,296.6 L928.6,296.5 L927.7,297.0 L927.1,297.1 L926.8,296.9 L926.1,297.1 L925.6,297.2 L925.7,296.5 L924.8,297.0 L924.0,297.4 L924.5,296.2 L923.7,296.7 L922.8,297.1 L922.3,297.2 L921.5,297.5 L921.1,297.5 L921.4,296.6 L920.7,296.9 L920.4,296.8 L919.5,297.4 L918.5,298.0 L918.7,297.2 L918.3,297.2 L917.8,297.4 L917.3,297.4 L916.3,298.2 L916.0,298.0 L915.7,297.8 L915.1,298.1 L915.0,297.7 L914.5,297.9 L914.4,297.4 L913.7,297.9 L913.2,298.0 L912.0,299.0 L912.3,298.1 L911.0,299.3 L911.2,298.5 L910.5,298.8 L910.5,298.4 L910.0,298.5 L909.5,298.6 L909.1,298.6 L908.4,299.0 L908.3,298.7 L907.3,299.4 L906.8,299.6 L906.1,300.0 L906.1,299.4 L904.8,300.7 L904.6,300.4 L904.6,299.9 L903.7,300.5 L903.9,299.7 L903.4,299.9 L903.1,299.7 L902.5,300.0 L901.8,300.4 L900.7,301.4 L900.2,301.4 L900.3,300.7 L900.0,300.6 L899.1,301.2 L898.6,301.4 L898.6,300.7 L897.8,301.3 L897.5,301.1 L896.5,301.9 L895.9,302.2 L896.2,301.1 L895.7,301.3 L895.1,301.5 L894.1,302.3 L894.2,301.6 L893.7,301.7 L893.3,301.8 L892.0,303.0 L892.1,302.2 L892.0,301.8 L891.2,302.4 L891.1,302.0 L890.6,302.1 L889.8,302.6 L888.8,303.5 L888.6,303.3 L887.7,304.0 L887.5,303.8 L887.7,302.9 L886.6,304.0 L886.8,303.2 L885.4,304.6 L885.4,304.1 L885.5,303.4 L885.0,303.5 L883.8,304.9 L883.1,305.5 L882.9,305.3 L882.7,304.9 L882.6,304.5 L881.8,305.3 L881.4,305.4 L880.6,306.1 L880.1,306.3 L880.2,305.6 L879.4,306.4 L879.0,306.5 L878.3,307.1 L878.6,306.1 L877.9,306.6 L874.2,312.3 L877.4,306.4 L876.3,307.6 L875.8,307.9 L876.0,307.0 L875.2,307.8 L874.8,307.9 L874.0,308.6 L874.0,308.0 L872.9,309.4 L872.7,309.1 L872.7,308.5 L871.8,309.4 L871.7,308.9 L871.3,309.0 L870.8,309.4 L870.5,309.2 L869.4,310.6 L869.1,310.5 L868.7,310.7 L867.9,311.5 L868.1,310.5 L867.7,310.4 L867.0,311.1 L867.0,310.5 L866.3,311.1 L865.6,311.7 L865.3,311.6 L864.7,312.2 L864.3,312.3 L864.0,312.1 L863.0,313.4 L863.1,312.6 L862.2,313.6 L862.0,313.4 L861.1,314.3 L861.4,313.2 L860.9,313.4 L860.7,313.1 L860.3,313.3 L857.3,318.5 L859.0,314.5 L858.9,313.9 L858.3,314.4 L857.5,315.4 L856.8,316.0 L856.8,315.4 L856.6,315.2 L855.5,316.7 L855.6,315.9 L854.7,317.0 L854.2,317.4 L853.9,317.2 L854.0,316.5 L852.5,318.9 L852.9,317.4 L852.2,318.1 L851.7,318.6 L851.4,318.4 L850.7,319.3 L851.0,317.9 L850.0,319.5 L850.2,318.5 L849.4,319.5 L848.7,320.4 L848.8,319.5 L848.6,319.2 L848.2,319.5 L847.1,321.2 L847.2,320.2 L846.9,320.3 L846.4,320.6 L845.6,321.7 L845.7,321.0 L844.8,322.3 L844.4,322.5 L844.1,322.6 L844.0,322.1 L843.6,322.4 L843.1,322.8 L842.4,323.8 L841.9,324.1 L842.0,323.4 L841.5,323.9 L840.9,324.4 L840.4,325.0 L840.2,324.9 L840.0,324.6 L838.7,326.7 L838.4,326.9 L838.5,325.9 L838.1,326.2 L837.7,326.4 L836.8,327.7 L836.8,327.0 L836.1,327.9 L835.6,328.4 L832.7,334.2 L835.5,327.4 L834.7,328.5 L834.6,328.0 L834.1,328.4 L833.0,330.3 L832.7,330.3 L833.0,329.0 L832.3,329.9 L831.9,330.0 L831.5,330.3 L830.7,331.5 L830.2,331.9 L830.3,331.0 L830.1,330.7 L829.5,331.4 L828.8,332.4 L828.9,331.5 L828.1,332.6 L827.6,333.1 L827.6,332.4 L824.4,339.0 L826.5,333.7 L826.1,333.9 L825.8,333.8 L825.3,334.2 L824.5,335.4 L824.3,335.2 L823.7,335.8 L823.7,335.2 L822.8,336.6 L822.4,336.9 L822.6,335.8 L821.7,337.0 L821.8,336.2 L821.5,336.2 L820.6,337.6 L820.5,337.1 L817.4,343.4 L819.4,338.1 L816.9,343.3 L818.4,339.1 L818.3,338.7 L818.0,338.6 L817.4,339.0 L816.7,340.0 L816.2,340.3 L816.4,339.0 L816.0,339.2 L814.9,341.0 L814.6,341.0 L814.1,341.3 L814.2,340.4 L813.9,340.4 L813.4,341.0 L811.7,344.3 L812.6,341.4 L812.0,342.1 L811.4,343.1 L811.3,342.7 L809.0,347.9 L810.1,344.4 L810.1,343.8 L810.0,343.5 L809.7,343.7 L809.1,344.7 L808.5,345.6 L808.5,344.9 L808.1,345.6 L807.7,346.1 L807.2,346.7 L806.6,347.8 L806.8,346.8 L806.0,348.6 L806.2,347.3 L805.6,348.4 L804.9,349.7 L805.0,348.8 L804.4,350.2 L804.0,350.5 L803.8,350.6 L803.5,350.9 L803.4,350.4 L803.1,350.9 L802.9,350.6 L802.3,352.0 L802.1,351.8 L801.7,352.4 L801.1,353.7 L801.1,353.0 L800.7,353.5 L800.3,354.1 L800.1,354.0 L799.8,354.4 L797.7,361.0 L798.7,356.5 L797.0,361.8 L798.3,356.4 L798.2,356.0 L797.5,357.4 L797.6,356.2 L796.9,357.9 L796.9,357.2 L796.2,358.9 L796.0,358.4 L795.6,359.1 L795.3,359.4 L794.8,360.0 L794.7,359.5 L794.3,359.9 L792.8,364.8 L793.4,361.2 L793.3,360.5 L792.8,361.0 L792.1,362.7 L791.8,362.5 L791.5,362.4 L791.2,362.2 L790.7,362.9 L790.2,363.3 L789.5,364.2 L789.3,363.4 L789.1,362.4 L788.1,364.3 L788.0,363.0 L787.4,363.3 L786.9,363.2 L786.4,363.1 L785.0,366.0 L785.1,363.9 L785.1,362.4 L784.5,362.9 L784.2,362.2 L783.6,362.4 L783.3,361.9 L782.8,361.9 L782.3,361.9 L781.7,362.0 L781.4,361.4 L780.9,361.3 L777.7,367.1 L779.9,361.2 L779.4,361.1 L779.3,360.3 L778.8,360.2 L778.7,359.3 L777.8,360.1 L777.7,359.3 L778.1,357.7 L777.9,357.3 L777.0,358.1 L776.6,358.0 L777.0,356.7 L777.2,355.8 L776.9,355.5 L776.6,355.4 L776.6,354.8 L776.8,353.9 L776.5,353.8 L776.4,353.3 L776.2,353.1 L775.9,353.0 L776.5,351.4 L776.4,351.0 L776.5,350.3 L776.3,350.0 L775.9,350.2Z" fill="#000"/>
<g stroke="#000" stroke-width="1.6"><line x1="814.6" y1="47.3" x2="814.6" y2="56"/><line x1="826.1" y1="58" x2="826.1" y2="60"/><line x1="836.1" y1="61.1" x2="836.1" y2="66"/><line x1="859" y1="78.8" x2="859" y2="82"/><line x1="865.3" y1="82.6" x2="865.3" y2="86"/></g>
<g stroke="#000" stroke-width="1.6"><line x1="784.8" y1="334.1" x2="784.8" y2="343"/><line x1="1043.6" y1="297" x2="1043.6" y2="303.9"/><line x1="1158.5" y1="270" x2="1158.5" y2="277"/><line x1="788" y1="358" x2="788" y2="365"/><line x1="781" y1="356" x2="781" y2="364.5"/></g>
<g stroke="#000" stroke-width="1.8"><line x1="1084.2" y1="291.5" x2="1084.2" y2="298.0"/><line x1="1093.5" y1="289.8" x2="1093.5" y2="294.9"/><line x1="890.2" y1="300.8" x2="890.2" y2="304.9"/><line x1="1127.3" y1="281.5" x2="1127.3" y2="286.6"/><line x1="887.4" y1="301.5" x2="887.4" y2="305.3"/><line x1="973.6" y1="299.6" x2="973.6" y2="303.6"/><line x1="1146.0" y1="275.5" x2="1146.0" y2="281.9"/><line x1="796.3" y1="356.3" x2="796.3" y2="361.9"/><line x1="1042.3" y1="296.3" x2="1042.3" y2="303.2"/><line x1="867.7" y1="308.9" x2="867.7" y2="314.6"/><line x1="1139.1" y1="277.8" x2="1139.1" y2="281.5"/><line x1="793.1" y1="359.2" x2="793.1" y2="363.4"/><line x1="928.2" y1="294.9" x2="928.2" y2="300.5"/><line x1="1092.8" y1="290.0" x2="1092.8" y2="294.6"/><line x1="894.5" y1="299.9" x2="894.5" y2="305.2"/><line x1="967.1" y1="299.4" x2="967.1" y2="304.7"/><line x1="820.9" y1="335.2" x2="820.9" y2="340.3"/><line x1="954.8" y1="298.3" x2="954.8" y2="303.2"/><line x1="1155.0" y1="272.5" x2="1155.0" y2="279.5"/><line x1="819.7" y1="335.9" x2="819.7" y2="341.9"/><line x1="982.3" y1="300.0" x2="982.3" y2="306.2"/><line x1="1128.0" y1="281.3" x2="1128.0" y2="285.8"/><line x1="811.0" y1="341.2" x2="811.0" y2="346.6"/><line x1="835.1" y1="326.3" x2="835.1" y2="331.2"/><line x1="964.2" y1="299.3" x2="964.2" y2="304.1"/><line x1="780.3" y1="359.0" x2="780.3" y2="365.4"/><line x1="776.0" y1="348.0" x2="776.0" y2="352.2"/><line x1="801.8" y1="350.5" x2="801.8" y2="355.6"/><line x1="1043.1" y1="296.2" x2="1043.1" y2="301.2"/><line x1="1165.3" y1="269.2" x2="1165.3" y2="274.9"/><line x1="949.1" y1="297.1" x2="949.1" y2="301.8"/><line x1="979.4" y1="299.9" x2="979.4" y2="304.5"/><line x1="1052.4" y1="295.2" x2="1052.4" y2="301.3"/><line x1="841.2" y1="322.5" x2="841.2" y2="326.4"/><line x1="830.8" y1="329.0" x2="830.8" y2="332.6"/><line x1="1093.5" y1="289.8" x2="1093.5" y2="296.1"/><line x1="881.2" y1="303.5" x2="881.2" y2="309.4"/><line x1="888.8" y1="301.1" x2="888.8" y2="306.2"/><line x1="890.9" y1="300.6" x2="890.9" y2="307.6"/><line x1="849.9" y1="317.1" x2="849.9" y2="322.1"/><line x1="1032.9" y1="297.3" x2="1032.9" y2="301.2"/><line x1="1060.4" y1="294.4" x2="1060.4" y2="301.3"/><line x1="776.0" y1="348.0" x2="776.0" y2="352.4"/><line x1="974.3" y1="299.6" x2="974.3" y2="306.6"/><line x1="782.2" y1="359.9" x2="782.2" y2="364.2"/><line x1="1040.9" y1="296.5" x2="1040.9" y2="303.5"/><line x1="1173.1" y1="267.3" x2="1173.1" y2="271.2"/><line x1="859.6" y1="312.3" x2="859.6" y2="316.5"/><line x1="940.5" y1="295.7" x2="940.5" y2="299.3"/><line x1="992.4" y1="300.7" x2="992.4" y2="307.1"/><line x1="1035.1" y1="297.1" x2="1035.1" y2="300.8"/><line x1="824.0" y1="333.3" x2="824.0" y2="337.5"/><line x1="928.9" y1="294.9" x2="928.9" y2="298.4"/><line x1="1022.1" y1="298.4" x2="1022.1" y2="303.2"/><line x1="1084.9" y1="291.4" x2="1084.9" y2="295.3"/><line x1="1106.9" y1="286.5" x2="1106.9" y2="292.9"/><line x1="852.4" y1="315.7" x2="852.4" y2="322.3"/><line x1="885.3" y1="302.1" x2="885.3" y2="307.8"/><line x1="979.4" y1="299.9" x2="979.4" y2="306.5"/><line x1="934.0" y1="295.2" x2="934.0" y2="301.2"/><line x1="868.4" y1="308.7" x2="868.4" y2="314.7"/><line x1="1157.0" y1="271.8" x2="1157.0" y2="276.0"/><line x1="1036.6" y1="296.9" x2="1036.6" y2="303.5"/><line x1="816.5" y1="337.7" x2="816.5" y2="342.6"/><line x1="832.6" y1="327.9" x2="832.6" y2="331.7"/><line x1="1127.3" y1="281.5" x2="1127.3" y2="288.3"/><line x1="926.0" y1="294.8" x2="926.0" y2="300.9"/><line x1="1039.4" y1="296.6" x2="1039.4" y2="301.0"/><line x1="1111.8" y1="285.2" x2="1111.8" y2="289.7"/><line x1="879.8" y1="304.1" x2="879.8" y2="310.8"/></g>
<g stroke="#000" stroke-width="1.5"><line x1="848.9" y1="76.9" x2="848.9" y2="72.6"/><line x1="852.3" y1="79.1" x2="852.3" y2="74.2"/><line x1="952.8" y1="114.0" x2="952.8" y2="107.7"/><line x1="848.9" y1="76.9" x2="848.9" y2="72.1"/><line x1="842.6" y1="73.0" x2="842.6" y2="68.9"/><line x1="894.7" y1="101.5" x2="894.7" y2="97.2"/><line x1="899.9" y1="103.9" x2="899.9" y2="97.3"/><line x1="901.4" y1="104.6" x2="901.4" y2="98.8"/><line x1="811.6" y1="57.5" x2="811.6" y2="52.1"/><line x1="823.9" y1="61.5" x2="823.9" y2="57.5"/><line x1="853.0" y1="79.5" x2="853.0" y2="74.0"/><line x1="898.4" y1="103.3" x2="898.4" y2="96.3"/><line x1="853.7" y1="79.9" x2="853.7" y2="74.5"/><line x1="831.6" y1="66.2" x2="831.6" y2="59.5"/><line x1="893.3" y1="100.8" x2="893.3" y2="94.4"/><line x1="860.1" y1="83.5" x2="860.1" y2="77.5"/><line x1="855.1" y1="80.7" x2="855.1" y2="74.1"/><line x1="821.0" y1="60.1" x2="821.0" y2="53.5"/><line x1="808.4" y1="56.9" x2="808.4" y2="51.0"/><line x1="806.8" y1="56.6" x2="806.8" y2="50.7"/><line x1="857.2" y1="81.9" x2="857.2" y2="77.7"/><line x1="883.0" y1="95.9" x2="883.0" y2="88.9"/></g>
<path d="M797.7,62.6 L798.3,63.1 L798.8,63.0 L799.4,65.0 L800.0,64.7 L800.5,64.0 L801.1,65.5 L801.7,65.3 L802.3,64.4 L802.8,65.3 L803.4,65.3 L804.0,64.4 L804.5,65.9 L805.1,64.9 L805.7,64.8 L806.3,66.0 L806.8,66.3 L807.4,66.6 L808.0,66.5 L808.6,65.7 L809.2,66.5 L809.7,67.8 L810.3,67.9 L810.9,67.8 L811.5,67.3 L812.1,66.6 L812.6,68.1 L813.2,68.6 L813.8,68.4 L814.4,67.4 L814.9,67.4 L815.5,67.3 L816.1,67.8 L816.7,68.2 L817.2,68.5 L817.8,67.9 L818.3,69.7 L818.9,69.0 L819.5,68.6 L820.0,69.6 L820.6,69.0 L821.1,71.1 L821.7,69.9 L822.2,70.0 L822.7,71.7 L823.2,72.0 L823.8,71.1 L824.3,70.9 L824.8,73.0 L825.3,72.9 L825.8,72.7 L826.3,73.5 L826.8,72.5 L827.3,72.6 L827.8,74.7 L828.3,74.1 L828.8,74.6 L829.3,74.8 L829.8,76.3 L830.3,74.6 L830.8,76.0 L831.3,75.6 L831.8,77.0 L832.3,76.0 L832.8,78.3 L833.3,77.2 L833.8,77.7 L834.3,79.1 L834.7,79.3 L835.3,79.2 L835.7,80.0 L836.3,79.3 L836.7,79.7 L837.3,79.7 L837.7,81.0 L838.2,81.5 L838.7,82.0 L839.2,82.1 L839.7,82.1 L840.2,82.4 L840.7,82.1 L841.2,83.7 L841.7,83.2 L842.2,84.5 L842.7,83.8 L843.2,85.0 L843.7,83.8 L844.1,85.8 L844.7,85.3 L845.2,85.6 L845.6,85.7 L846.2,85.5 L846.6,86.0 L847.1,87.6 L847.6,86.6 L848.1,87.3 L848.6,87.9 L849.0,88.8 L849.6,88.0 L850.0,88.1 L850.5,88.7 L851.0,89.2 L851.4,90.1 L851.9,90.1 L852.4,89.8 L852.8,90.8 L853.3,91.8 L853.7,91.5 L854.1,93.4 L854.5,93.4 L854.9,93.9 L855.3,94.2 L855.8,94.1 L856.2,93.5 L856.5,95.9 L857.0,96.4 L857.5,95.8 L857.9,95.9 L858.4,96.7 L858.9,97.1 L859.4,97.0 L859.9,97.9 L860.4,98.7 L861.0,98.2 L861.5,99.2 L862.0,99.4 L862.6,98.7 L863.2,98.8 L863.7,99.2 L864.3,99.1 L864.9,99.6 L865.4,99.6 L866.0,99.5 L866.6,99.8 L867.1,100.1 L867.8,99.9 L868.4,99.7 L868.8,101.0 L869.4,100.7 L870.0,100.5 L870.7,100.2 L871.0,102.4 L871.7,101.8 L872.3,101.7 L872.9,101.6 L873.3,102.5 L873.9,102.7 L874.4,103.6 L875.1,102.6 L875.6,103.2 L876.1,103.6 L876.6,103.9 L877.3,102.9 L877.6,105.0 L878.2,105.2 L878.8,104.2 L879.2,105.8 L879.8,106.1 L880.4,105.0 L880.9,106.0 L881.3,106.8 L882.1,105.4 L882.5,106.7 L883.0,107.2 L883.6,106.3 L884.0,107.7 L884.6,107.9 L885.2,107.3 L885.6,108.1 L886.3,107.7 L886.7,108.8 L887.3,108.0 L887.7,110.3 L888.2,110.5 L888.9,109.0 L889.3,110.9 L889.8,110.9 L890.5,110.5 L891.0,111.2 L891.5,111.1 L892.1,110.8 L892.7,110.8 L893.3,111.1 L893.9,110.9 L894.4,111.7 L894.8,112.5 L895.5,111.5 L895.9,113.4 L896.7,112.0 L897.0,114.0 L897.6,114.1 L898.2,113.4 L898.7,114.6 L899.3,114.5 L899.8,114.8 L900.4,115.0 L901.1,114.4 L901.5,115.2 L902.1,115.2 L902.7,115.1 L903.4,114.3 L903.9,115.4 L904.6,114.5 L904.9,116.8 L905.7,115.3 L906.1,116.9 L906.7,116.8 L907.3,116.2 L907.9,116.5 L908.3,117.9 L909.1,116.2 L909.7,116.6 L910.1,117.3 L910.8,116.6 L911.3,117.7 L912.0,117.0 L912.5,117.8 L913.0,118.4 L913.5,118.6 L914.1,118.6 L914.7,118.7 L915.5,117.9 L916.0,118.3 L916.5,118.9 L917.2,118.3 L917.6,119.6 L918.2,119.7 L918.9,119.0 L919.5,119.0 L920.0,119.5 L920.7,119.0 L921.0,120.7 L921.6,120.7 L922.4,119.9 L922.8,120.9 L923.3,121.2 L924.1,120.4 L924.8,119.9 L925.2,120.9 L925.9,120.4 L926.5,120.6 L926.9,121.4 L927.5,121.4 L928.3,120.6 L928.9,120.8 L929.3,121.8 L930.0,121.1 L930.6,121.2 L931.3,120.8 L931.5,122.7 L932.4,121.5 L932.8,122.3 L933.7,121.0 L934.1,122.0 L934.5,122.6 L935.4,121.5 L936.0,121.5 L936.3,122.7 L936.9,122.9 L937.4,123.2 L938.4,121.2 L938.9,121.8 L939.4,121.9 L940.0,122.1 L940.6,121.8 L941.1,122.3 L941.8,121.4 L942.2,122.4 L942.9,121.6 L943.6,121.0 L944.1,121.3 L944.8,120.4 L945.3,120.9 L945.9,120.9 L946.3,121.2 L947.2,119.9 L947.7,120.1 L948.0,121.4 L948.8,120.4 L949.4,119.9 L949.9,120.6 L950.3,121.1 L951.2,119.7 L951.9,119.4 L952.3,119.9 L953.0,119.3 L953.7,119.0 L954.0,120.3 L954.9,119.1 L955.2,120.2 L955.7,120.8 L956.5,119.9 L957.1,119.9 L957.9,119.0 L958.4,119.1 L958.7,120.5 L959.3,120.5 L960.2,119.1 L960.8,119.4 L961.4,119.1 L961.9,119.5 L962.2,120.8 L963.1,119.5 L963.5,120.4 L964.1,120.2 L964.9,119.7 L965.6,119.0 L966.1,119.6 L966.6,120.0 L966.9,120.8 L967.6,120.4 L968.2,120.3 L968.8,120.3 L969.8,119.0 L970.1,119.9 L971.0,118.9 L971.4,119.6 L972.0,119.4 L972.5,119.6 L973.1,119.5 L973.9,119.0 L974.1,120.0 L975.1,118.8 L975.5,119.3 L976.1,119.2 L976.8,118.7 L977.0,119.7 L977.8,119.1 L978.6,118.3 L979.1,118.6 L979.4,119.2 L979.9,119.4 L980.8,118.4 L981.1,119.1 L981.8,118.7 L982.7,117.4 L983.0,118.2 L984.0,116.9 L984.4,117.2 L984.8,117.7 L985.3,118.0 L986.0,117.6 L986.3,118.1 L987.4,116.7 L987.6,117.6 L988.3,117.1 L988.9,117.2 L989.3,117.7 L989.9,117.6 L991.0,115.9 L991.3,116.6 L991.8,116.7 L992.4,116.7 L992.9,117.0 L993.7,116.3 L994.6,115.2 L994.7,116.8 L995.6,115.8 L995.7,117.1 L996.6,116.3 L997.1,116.5 L998.1,115.2 L998.6,115.6 L998.9,116.4 L999.9,115.3 L1000.2,116.0 L1000.6,116.6 L1001.5,115.9 L1001.9,116.3 L1002.7,115.8 L1003.3,115.9 L1003.6,116.7 L1004.3,116.5 L1004.8,116.7 L1005.2,117.2 L1006.2,116.3 L1006.6,116.8 L1007.1,117.1 L1008.3,115.7 L1008.6,116.4 L1009.0,116.9 L1009.6,117.1 L1010.0,117.4 L1010.6,117.5 L1011.2,117.7 L1011.8,117.6 L1012.7,116.9 L1013.2,117.3 L1013.8,117.4 L1014.5,117.1 L1014.8,117.8 L1015.9,116.7 L1016.3,117.1 L1016.9,117.3 L1017.5,117.5 L1018.1,117.4 L1018.5,117.9 L1019.5,117.1 L1019.4,118.7 L1020.2,118.3 L1020.7,118.7 L1021.7,117.8 L1022.0,118.4 L1022.8,118.0 L1023.3,118.3 L1023.7,118.8 L1024.3,119.0 L1025.2,118.4 L1025.3,119.5 L1026.2,118.9 L1027.0,118.8 L1027.1,119.8 L1027.9,119.5 L1028.1,120.4 L1028.7,120.5 L1029.6,120.0 L1030.6,119.4 L1030.8,120.2 L1031.6,119.9 L1031.8,120.8 L1032.8,120.0 L1033.1,120.9 L1034.0,120.3 L1034.2,121.2 L1034.6,121.7 L1035.8,120.5 L1036.2,121.1 L1036.5,121.8 L1036.8,122.5 L1037.3,122.7 L1038.8,121.2 L1038.5,123.0 L1039.4,122.6 L1040.4,121.9 L1040.7,122.4 L1041.1,123.0 L1042.1,122.4 L1042.0,123.8 L1042.9,123.3 L1043.1,124.2 L1044.2,123.3 L1044.6,123.7 L1044.8,124.6 L1045.6,124.3 L1046.4,124.2 L1047.3,123.7 L1047.8,123.9 L1048.2,124.5 L1048.5,125.1 L1049.7,124.1 L1050.0,124.7 L1050.1,125.8 L1050.9,125.6 L1051.6,125.5 L1052.6,124.9 L1053.0,125.3 L1053.2,126.1 L1054.1,125.7 L1054.9,125.5 L1054.8,126.8 L1055.7,126.4 L1056.0,126.9 L1056.6,127.1 L1057.1,127.3 L1057.5,127.8 L1058.2,127.7 L1059.2,127.1 L1059.3,128.1 L1059.7,128.4 L1060.6,128.1 L1061.1,128.4 L1062.2,127.7 L1062.5,128.3 L1062.8,128.8 L1063.9,128.1 L1064.1,129.0 L1065.3,128.0 L1065.1,129.4 L1066.5,128.3 L1066.7,129.0 L1067.3,129.1 L1067.9,129.3 L1068.7,129.1 L1068.9,129.8 L1069.1,130.5 L1070.2,129.8 L1070.8,130.0 L1071.1,130.6 L1071.9,130.5 L1072.3,130.8 L1073.0,130.8 L1073.5,131.0 L1074.5,130.8 L1074.5,131.6 L1075.4,131.4 L1076.0,131.6 L1076.2,132.2 L1076.4,132.8 L1077.4,132.5 L1078.3,132.2 L1079.0,132.3 L1079.4,132.7 L1080.2,132.7 L1080.6,133.0 L1080.5,134.0 L1081.3,134.0 L1082.3,133.7 L1082.2,134.6 L1082.5,135.1 L1083.9,134.4 L1083.8,135.3 L1085.0,134.7 L1085.3,135.3 L1086.1,135.2 L1086.2,135.9 L1086.4,136.6 L1087.8,135.8 L1087.6,136.9 L1088.4,136.8 L1089.2,136.7 L1089.2,137.6 L1089.9,137.6 L1091.2,137.0 L1091.0,138.1 L1091.8,138.0 L1092.3,138.3 L1093.1,138.2 L1093.6,138.5 L1093.7,139.2 L1094.8,138.8 L1094.8,139.7 L1096.2,139.0 L1096.1,139.9 L1097.4,139.4 L1097.6,139.9 L1097.7,140.6 L1098.1,141.0 L1098.9,140.9 L1099.5,141.2 L1100.1,141.3 L1100.5,141.7 L1100.9,142.1 L1101.5,142.3 L1102.1,142.5 L1103.0,142.4 L1103.8,142.4 L1104.2,142.9 L1104.4,143.4 L1104.9,143.7 L1105.4,144.0 L1105.8,144.5 L1106.7,144.4 L1106.9,144.9 L1108.0,144.8 L1108.0,145.5 L1108.9,145.4 L1109.2,145.9 L1109.2,146.7 L1109.7,147.0 L1110.5,147.0 L1111.4,146.9 L1112.2,147.0 L1111.7,148.1 L1112.8,147.9 L1113.3,148.2 L1114.1,148.3 L1114.9,148.2 L1115.5,148.5 L1115.8,148.9 L1116.2,149.3 L1116.1,150.1 L1117.0,150.1 L1117.3,150.5 L1117.8,150.8 L1118.3,151.1 L1119.5,150.8 L1119.4,151.6 L1120.4,151.5 L1120.5,152.1 L1121.5,152.0 L1121.4,152.8 L1121.8,153.2 L1123.3,152.7 L1122.9,153.7 L1123.9,153.6 L1124.0,154.2 L1124.7,154.4 L1125.1,154.8 L1125.6,155.1 L1126.5,155.1 L1127.3,155.2 L1127.4,155.8 L1127.7,156.2 L1128.6,156.3 L1129.4,156.4 L1129.9,156.7 L1130.5,156.9 L1130.5,157.6 L1131.4,157.6 L1131.5,158.3 L1131.7,158.8 L1132.8,158.7 L1132.7,159.5 L1133.0,159.9 L1133.8,160.0 L1134.6,160.2 L1134.5,160.9 L1135.0,161.2 L1135.5,161.6 L1136.2,161.8 L1137.0,161.9 L1137.8,162.1 L1137.8,162.8 L1138.2,163.2 L1139.0,163.4 L1139.1,164.0 L1139.6,164.3 L1140.1,164.7 L1140.1,165.3 L1140.6,165.6 L1141.5,165.7 L1141.7,166.3 L1142.3,166.6 L1142.8,166.9 L1143.5,167.2 L1143.3,168.0 L1144.6,167.9 L1144.7,168.5 L1144.9,169.0 L1145.4,169.4 L1146.0,169.7 L1146.1,170.3 L1146.7,170.6 L1146.7,171.3 L1147.3,171.7 L1148.1,171.9 L1148.6,172.3 L1148.4,173.0 L1148.6,173.6 L1149.6,173.8 L1149.5,174.5 L1150.2,174.7 L1150.0,175.5 L1150.3,176.0 L1151.1,176.3 L1151.5,176.7 L1152.1,177.1 L1152.1,177.8 L1152.6,178.2 L1152.9,178.7 L1153.4,179.1 L1153.6,179.7 L1153.9,180.2 L1153.9,180.8 L1154.0,181.4 L1154.8,181.7 L1154.6,182.4 L1155.3,182.8 L1155.2,183.5 L1155.6,183.9 L1156.1,184.4 L1156.1,185.0 L1156.6,185.5 L1156.5,186.1 L1157.1,186.6 L1157.3,187.1 L1157.7,187.6 L1157.8,188.2 L1157.9,188.8 L1158.0,189.4 L1158.2,189.9 L1158.5,190.5 L1158.7,191.0 L1159.2,191.5 L1159.2,192.1 L1159.8,192.5 L1159.8,193.1 L1160.3,193.6 L1160.3,194.2 L1160.3,194.9 L1160.7,195.3 L1160.6,196.0 L1161.1,196.5 L1161.4,197.0 L1161.8,197.5 L1162.3,197.9 L1162.2,198.6 L1162.6,199.1 L1162.5,199.7 L1162.4,200.4 L1163.0,200.8 L1163.0,201.4 L1163.6,201.9 L1163.7,202.5 L1163.8,203.1 L1163.5,203.8 L1164.0,204.2 L1164.3,204.8 L1164.5,205.3 L1164.5,206.0 L1164.9,206.5 L1164.5,207.2 L1165.0,207.7 L1164.8,208.3 L1165.2,208.9 L1165.1,209.5 L1165.2,210.1 L1165.4,210.6 L1165.6,211.2 L1166.2,211.7 L1166.3,212.3 L1166.3,212.9 L1166.5,213.4 L1166.6,214.0 L1166.8,214.6 L1166.4,215.3 L1166.8,215.8 L1166.9,216.4 L1167.1,217.0 L1167.7,217.5 L1167.5,218.1 L1167.4,218.7 L1167.5,219.3 L1168.0,219.8 L1168.4,220.4 L1168.3,221.0 L1168.7,221.5 L1168.8,222.1 L1168.8,222.7 L1168.4,223.3 L1169.3,223.8 L1169.3,224.4 L1169.2,225.0 L1169.3,225.6 L1169.5,226.2 L1169.6,226.8 L1169.9,227.3 L1169.9,227.9 L1170.0,228.5 L1170.5,229.1 L1170.0,229.7 L1170.3,230.2 L1170.9,230.8 L1171.0,231.4 L1171.1,232.0 L1170.6,232.5 L1171.1,233.1 L1171.3,233.7 L1171.7,234.3 L1171.5,234.9 L1171.2,235.4 L1172.0,236.1 L1171.5,236.6 L1172.2,237.2 L1172.1,237.8 L1172.4,238.4 L1172.0,238.9 L1172.7,239.6 L1172.9,240.2 L1172.6,240.7 L1172.5,241.2 L1172.8,241.8 L1173.1,242.4 L1173.4,243.1 L1173.2,243.6 L1173.2,244.1 L1173.4,244.7 L1173.9,245.4 L1173.6,245.9 L1173.8,246.5 L1173.9,247.1 L1173.9,247.6 L1174.1,248.2 L1174.6,248.9 L1174.7,249.5 L1174.3,249.9 L1174.5,250.5 L1174.8,251.2 L1174.9,251.7 L1175.4,252.5 L1175.1,252.9 L1175.5,253.6 L1175.3,254.1 L1175.4,254.7 L1175.7,255.3 L1175.7,255.9 L1175.4,256.3 L1175.8,257.0 L1176.3,257.8 L1175.9,258.1 L1176.6,259.0 L1176.2,259.3 L1176.2,259.9 L1176.9,260.7 L1176.4,261.0 L1177.1,261.8 L1177.3,262.4 L1177.0,262.8 L1177.1,263.4 L1177.2,263.9 L1174.7,263.1 L1174.3,262.3 L1174.8,262.0 L1174.5,261.3 L1174.2,260.6 L1174.2,260.1 L1174.4,259.7 L1173.9,258.9 L1173.7,258.3 L1173.6,257.7 L1173.5,257.2 L1174.0,256.8 L1174.0,256.3 L1173.6,255.6 L1173.2,254.9 L1173.2,254.4 L1173.4,253.9 L1173.0,253.2 L1172.9,252.6 L1173.2,252.2 L1172.5,251.5 L1172.9,251.0 L1172.3,250.3 L1172.8,249.9 L1172.3,249.2 L1172.3,248.7 L1172.1,248.1 L1172.3,247.6 L1172.2,247.1 L1171.6,246.4 L1171.8,245.9 L1171.5,245.3 L1171.7,244.8 L1171.4,244.2 L1171.5,243.7 L1170.9,243.0 L1171.0,242.5 L1171.0,242.0 L1170.7,241.4 L1170.4,240.8 L1170.6,240.3 L1170.4,239.7 L1169.8,239.1 L1170.4,238.6 L1169.7,238.0 L1169.7,237.4 L1169.5,236.9 L1169.8,236.4 L1168.9,235.7 L1169.4,235.2 L1168.6,234.6 L1169.2,234.1 L1168.6,233.5 L1168.4,233.0 L1168.4,232.4 L1167.9,231.9 L1167.7,231.3 L1167.5,230.7 L1167.6,230.2 L1167.7,229.6 L1167.4,229.1 L1167.2,228.5 L1167.4,228.0 L1167.0,227.4 L1167.0,226.9 L1166.7,226.3 L1166.7,225.7 L1166.6,225.2 L1165.9,224.7 L1165.8,224.1 L1165.7,223.6 L1165.9,223.0 L1165.7,222.4 L1165.3,221.9 L1165.3,221.3 L1165.1,220.8 L1165.0,220.2 L1164.1,219.8 L1163.9,219.2 L1164.2,218.6 L1163.9,218.1 L1163.5,217.5 L1163.5,217.0 L1163.1,216.5 L1162.8,215.9 L1163.1,215.3 L1162.4,214.9 L1162.5,214.3 L1162.3,213.7 L1161.8,213.2 L1162.2,212.6 L1161.7,212.1 L1161.7,211.5 L1161.3,211.0 L1161.3,210.4 L1161.1,209.9 L1161.0,209.3 L1160.7,208.8 L1160.0,208.4 L1159.9,207.8 L1160.0,207.2 L1159.3,206.8 L1159.4,206.1 L1159.5,205.5 L1159.0,205.1 L1159.0,204.5 L1158.9,203.9 L1158.2,203.5 L1158.4,202.8 L1157.9,202.4 L1157.6,201.9 L1157.3,201.4 L1157.7,200.6 L1157.3,200.1 L1157.0,199.6 L1156.4,199.2 L1156.4,198.6 L1156.1,198.1 L1155.8,197.6 L1156.0,196.9 L1155.4,196.5 L1155.5,195.9 L1155.2,195.4 L1154.9,194.9 L1154.7,194.3 L1154.3,193.9 L1154.1,193.3 L1154.0,192.7 L1153.7,192.2 L1153.3,191.8 L1153.0,191.3 L1152.7,190.8 L1152.5,190.2 L1152.1,189.8 L1152.2,189.1 L1152.2,188.5 L1151.3,188.2 L1151.1,187.7 L1151.1,187.0 L1150.5,186.7 L1150.2,186.2 L1150.5,185.4 L1149.9,185.1 L1149.3,184.7 L1149.6,183.9 L1149.1,183.5 L1148.7,183.1 L1148.4,182.6 L1148.0,182.1 L1148.0,181.5 L1146.9,181.4 L1147.0,180.7 L1147.0,180.1 L1146.1,179.9 L1146.3,179.2 L1145.2,179.1 L1145.1,178.5 L1144.6,178.1 L1144.4,177.6 L1143.8,177.3 L1143.9,176.6 L1142.9,176.5 L1142.8,175.9 L1142.6,175.4 L1142.2,175.0 L1141.9,174.5 L1141.7,174.0 L1140.6,173.9 L1140.5,173.4 L1139.9,173.1 L1139.8,172.5 L1139.1,172.3 L1138.3,172.1 L1138.8,171.2 L1138.0,171.0 L1137.5,170.7 L1137.3,170.2 L1136.8,169.8 L1136.5,169.3 L1135.8,169.1 L1135.2,168.8 L1134.4,168.7 L1134.4,168.1 L1134.0,167.7 L1133.4,167.4 L1133.1,167.0 L1132.6,166.7 L1131.5,166.7 L1131.4,166.2 L1130.6,166.1 L1130.5,165.5 L1129.6,165.4 L1129.8,164.7 L1129.2,164.5 L1128.2,164.4 L1127.6,164.2 L1128.0,163.3 L1127.1,163.3 L1126.4,163.1 L1125.8,162.8 L1126.2,161.9 L1124.7,162.3 L1124.6,161.8 L1124.2,161.4 L1124.1,160.8 L1123.6,160.5 L1122.8,160.5 L1122.3,160.2 L1122.2,159.6 L1121.5,159.4 L1120.9,159.2 L1120.6,158.8 L1119.6,158.9 L1119.1,158.6 L1118.3,158.6 L1118.0,158.2 L1117.7,157.8 L1116.6,158.0 L1116.1,157.7 L1116.0,157.2 L1115.1,157.2 L1114.5,157.0 L1114.1,156.8 L1113.6,156.5 L1113.7,155.7 L1112.9,155.8 L1112.4,155.5 L1111.1,155.9 L1111.0,155.3 L1110.7,154.9 L1109.6,155.1 L1109.4,154.5 L1109.2,154.0 L1108.1,154.3 L1108.0,153.6 L1107.8,153.0 L1107.3,152.8 L1106.5,152.7 L1105.7,152.7 L1105.8,151.8 L1105.0,151.8 L1104.9,151.2 L1103.8,151.4 L1103.7,150.8 L1102.8,150.8 L1102.9,150.0 L1102.5,149.6 L1102.1,149.3 L1101.4,149.1 L1100.4,149.3 L1099.6,149.4 L1099.8,148.4 L1099.5,148.0 L1098.4,148.3 L1098.1,147.9 L1097.5,147.7 L1096.5,147.9 L1095.9,147.7 L1095.7,147.2 L1095.1,147.1 L1094.3,147.2 L1094.2,146.4 L1093.3,146.6 L1093.0,146.2 L1092.7,145.7 L1092.2,145.5 L1091.3,145.7 L1091.3,144.9 L1090.3,145.2 L1090.3,144.4 L1089.4,144.6 L1089.2,144.0 L1088.0,144.4 L1088.0,143.7 L1087.4,143.6 L1087.2,143.0 L1085.9,143.6 L1085.3,143.5 L1084.9,143.1 L1083.9,143.4 L1083.5,143.1 L1083.0,142.8 L1083.2,141.8 L1081.9,142.4 L1081.9,141.5 L1081.7,141.0 L1081.1,140.9 L1079.7,141.6 L1079.3,141.2 L1078.7,141.1 L1078.5,140.5 L1077.9,140.4 L1077.3,140.3 L1077.2,139.5 L1076.3,139.8 L1075.5,139.9 L1075.0,139.6 L1075.2,138.6 L1074.1,139.0 L1073.2,139.2 L1072.9,138.8 L1072.8,138.1 L1071.4,139.0 L1071.0,138.7 L1070.3,138.7 L1070.4,137.6 L1069.1,138.4 L1069.5,137.2 L1068.4,137.7 L1068.0,137.4 L1067.9,136.7 L1066.7,137.3 L1066.5,136.8 L1065.8,137.0 L1065.2,136.9 L1064.2,137.4 L1063.9,137.0 L1063.3,137.0 L1062.4,137.3 L1062.5,136.2 L1061.8,136.4 L1061.4,136.0 L1060.7,136.2 L1060.1,136.1 L1059.2,136.6 L1059.1,135.7 L1058.3,136.0 L1057.2,136.8 L1057.4,135.4 L1056.1,136.5 L1055.9,135.9 L1055.4,135.7 L1054.9,135.3 L1054.5,134.9 L1053.4,135.7 L1053.3,134.9 L1052.1,135.7 L1051.8,135.1 L1051.3,135.0 L1051.1,134.2 L1049.9,135.1 L1049.8,134.2 L1048.7,135.0 L1048.3,134.5 L1047.8,134.3 L1048.0,132.9 L1047.4,132.7 L1046.1,133.8 L1046.2,132.6 L1045.6,132.5 L1044.8,132.8 L1043.7,133.5 L1043.4,132.9 L1043.1,132.3 L1042.5,132.3 L1041.5,133.0 L1041.7,131.3 L1041.2,131.2 L1040.3,131.5 L1039.9,131.3 L1039.0,131.6 L1038.9,130.7 L1037.6,132.0 L1037.7,130.5 L1036.7,131.3 L1036.0,131.3 L1035.9,130.4 L1035.3,130.3 L1034.5,130.6 L1034.4,129.7 L1033.6,129.9 L1032.7,130.5 L1031.9,130.8 L1031.8,129.7 L1030.8,130.6 L1031.0,128.8 L1029.9,129.8 L1029.2,129.9 L1028.7,129.6 L1028.1,129.7 L1028.0,128.6 L1027.5,128.3 L1026.4,129.1 L1026.5,127.6 L1025.9,127.7 L1025.1,128.0 L1024.8,127.2 L1024.2,127.1 L1023.5,127.4 L1022.8,127.6 L1022.3,127.2 L1021.5,127.6 L1020.7,128.1 L1020.3,127.6 L1020.1,126.8 L1019.1,127.6 L1018.7,127.1 L1018.4,126.4 L1016.8,128.8 L1017.3,126.2 L1016.6,126.5 L1016.2,126.0 L1015.4,126.4 L1014.9,126.2 L1014.1,126.8 L1013.2,127.3 L1012.7,127.3 L1012.7,125.8 L1011.8,126.5 L1011.7,125.4 L1010.7,126.2 L1010.5,125.4 L1009.7,126.0 L1008.8,126.6 L1008.3,126.3 L1007.9,125.8 L1007.1,126.4 L1006.7,125.9 L1006.1,126.0 L1005.8,125.2 L1005.2,125.2 L1004.1,126.7 L1003.6,126.3 L1003.1,126.3 L1002.4,126.5 L1002.4,125.0 L1001.6,125.6 L1000.6,126.6 L1000.1,126.3 L1000.0,125.2 L999.3,125.4 L998.5,126.0 L998.3,125.0 L997.7,125.0 L997.1,125.0 L996.4,125.6 L995.7,125.7 L994.8,126.7 L994.6,125.7 L994.0,125.7 L993.1,126.9 L993.0,125.4 L992.3,125.8 L991.7,125.9 L990.9,126.5 L990.6,125.9 L990.1,125.7 L989.5,125.7 L988.6,127.0 L988.2,126.2 L987.5,126.7 L987.1,126.3 L986.5,126.4 L985.6,127.7 L985.0,127.6 L984.7,126.9 L984.0,127.4 L983.9,126.0 L983.1,126.6 L982.2,127.9 L981.7,127.7 L981.0,128.2 L981.0,126.4 L980.2,127.1 L979.4,128.0 L979.2,126.9 L978.2,128.3 L978.0,127.2 L977.4,127.4 L976.9,127.1 L976.1,128.0 L975.8,127.1 L975.0,127.9 L973.8,129.7 L973.7,128.3 L973.5,127.3 L972.8,127.7 L971.9,128.9 L971.5,128.2 L971.1,127.7 L970.0,129.3 L969.5,129.2 L969.0,129.1 L968.5,128.9 L968.0,128.6 L967.3,129.2 L966.6,129.7 L966.3,128.9 L965.6,129.4 L965.0,129.5 L964.5,129.1 L964.0,129.0 L963.6,128.2 L962.7,129.4 L962.4,128.6 L961.6,129.5 L961.0,129.6 L960.7,128.6 L960.1,128.7 L959.1,130.3 L958.7,129.9 L958.3,129.1 L957.9,128.6 L957.0,129.8 L956.3,130.4 L956.0,129.3 L955.1,130.5 L954.9,129.1 L954.0,130.7 L953.4,130.6 L953.0,130.0 L952.3,130.5 L951.9,129.6 L951.5,128.9 L950.9,129.2 L949.9,130.9 L949.7,129.5 L948.8,130.9 L948.2,131.1 L947.9,130.0 L947.2,130.3 L946.7,130.1 L946.3,129.6 L945.6,130.0 L944.8,130.9 L944.6,129.6 L943.8,130.4 L943.0,131.4 L942.7,130.4 L941.8,131.7 L941.3,131.2 L940.9,130.5 L940.1,131.7 L939.9,129.7 L939.1,130.9 L938.7,130.0 L938.2,130.0 L936.9,132.9 L936.7,131.2 L936.2,131.0 L935.8,130.0 L935.1,130.7 L934.5,130.8 L934.0,130.1 L933.3,130.7 L932.6,131.3 L932.2,130.5 L931.8,129.6 L931.1,130.2 L930.6,129.9 L930.0,129.6 L929.3,130.4 L928.6,130.8 L928.0,131.0 L927.6,129.9 L926.9,130.7 L926.4,130.0 L925.9,129.7 L925.3,129.9 L924.3,131.7 L924.0,130.5 L923.8,128.4 L923.1,129.1 L922.4,129.5 L921.7,130.1 L921.4,128.3 L920.9,128.1 L920.2,128.7 L919.5,129.3 L919.2,127.9 L918.3,129.2 L917.9,128.3 L917.4,128.1 L916.8,128.2 L916.2,128.2 L915.7,127.7 L915.1,127.3 L914.5,127.7 L913.4,130.6 L913.3,128.0 L912.6,128.4 L912.1,127.8 L911.6,127.4 L911.1,127.0 L910.5,127.0 L909.7,128.4 L909.3,127.0 L908.5,128.3 L908.2,126.4 L907.7,126.2 L906.9,127.7 L906.5,126.1 L905.7,127.8 L905.2,127.4 L904.8,125.7 L904.1,126.8 L903.6,126.1 L903.0,126.4 L902.5,125.9 L901.8,126.4 L901.4,125.0 L900.8,125.5 L900.1,126.1 L899.6,125.8 L899.1,125.5 L898.7,124.1 L898.0,125.1 L897.6,123.8 L896.8,125.2 L896.5,123.2 L895.8,124.2 L895.4,122.8 L894.7,123.4 L894.2,123.1 L893.7,122.4 L893.0,123.7 L892.5,123.1 L891.9,123.4 L891.4,122.8 L890.8,123.2 L890.3,122.2 L889.7,122.9 L889.2,122.3 L888.8,120.9 L888.1,121.8 L887.7,120.2 L887.2,119.9 L886.5,120.7 L886.0,120.8 L885.5,120.3 L885.0,119.5 L884.5,119.1 L883.9,119.6 L883.4,118.7 L882.8,118.8 L882.3,118.3 L881.8,118.4 L881.1,119.1 L880.6,119.2 L880.1,118.5 L879.5,118.3 L879.1,117.1 L878.6,116.9 L878.1,116.5 L877.5,116.5 L876.9,116.8 L876.3,117.3 L875.8,116.1 L875.3,116.2 L874.7,116.2 L874.3,115.1 L873.6,116.1 L873.2,114.5 L872.5,115.6 L872.0,114.9 L871.4,114.8 L871.0,113.6 L870.3,114.6 L869.9,113.2 L869.2,114.9 L868.8,113.2 L868.1,113.9 L867.7,113.0 L867.0,113.9 L866.6,112.6 L865.9,114.0 L865.4,112.6 L864.9,112.5 L864.4,111.6 L863.8,111.5 L863.3,111.1 L862.6,112.8 L862.1,112.5 L861.5,112.3 L861.0,111.9 L860.5,111.9 L860.0,111.4 L859.6,109.5 L859.1,108.9 L858.6,109.2 L858.1,108.8 L857.7,109.0 L857.3,107.6 L856.8,107.4 L856.3,108.7 L856.0,107.6 L855.6,107.2 L855.1,107.5 L854.7,107.0 L854.4,105.4 L854.0,105.0 L853.6,105.1 L853.1,105.0 L852.7,105.2 L852.3,103.8 L851.8,103.7 L851.4,103.2 L850.9,101.6 L850.5,101.3 L849.9,102.5 L849.5,102.4 L849.0,101.9 L848.5,101.8 L848.1,101.6 L847.6,100.0 L847.1,100.3 L846.6,103.3 L846.2,99.0 L845.8,98.2 L845.3,97.5 L844.8,98.3 L844.3,98.5 L843.9,96.6 L843.3,98.3 L842.9,96.2 L842.4,96.6 L842.0,95.4 L841.4,96.3 L841.0,95.6 L840.5,96.2 L840.0,97.0 L839.5,95.3 L839.1,93.5 L838.6,93.5 L838.0,94.8 L837.6,93.0 L837.1,93.8 L836.6,93.6 L836.1,92.6 L835.6,91.5 L835.1,91.7 L834.6,91.7 L834.1,91.3 L833.6,90.2 L833.1,90.3 L832.6,89.8 L832.1,89.3 L831.6,89.2 L831.1,90.5 L830.6,88.5 L830.1,90.0 L829.6,88.8 L829.1,88.5 L828.6,88.0 L828.1,86.9 L827.5,87.7 L827.0,87.5 L826.5,86.5 L826.0,86.6 L825.4,87.4 L824.9,86.9 L824.4,85.5 L823.9,85.9 L823.3,86.4 L822.8,84.6 L822.3,84.8 L821.8,84.0 L821.2,84.7 L820.7,84.4 L820.1,85.1 L819.6,84.7 L819.0,84.9 L818.5,84.2 L818.0,84.0 L817.4,83.2 L816.9,83.9 L816.3,83.8 L815.8,81.9 L815.3,81.7 L814.7,82.2 L814.1,82.3 L813.6,81.6 L813.0,81.9 L812.5,81.7 L811.9,82.6 L811.3,81.8 L810.8,80.3 L810.2,81.9 L809.7,80.2 L809.1,80.5 L808.5,79.7 L808.0,79.7 L807.4,81.2 L806.8,80.6 L806.3,79.7 L805.7,79.6 L805.2,80.7 L804.6,79.0 L804.0,79.4 L803.5,80.3 L802.9,79.9 L802.3,79.3 L801.7,78.6 L801.2,78.8 L800.6,80.1 L800.0,79.6 L799.4,79.4 L798.9,78.2 L798.3,79.2 L797.7,79.5Z" fill="#f00"/>
<path d="M760.4,225.0 L760.4,225.6 L760.4,226.2 L760.8,226.8 L761.0,227.3 L761.2,227.9 L760.8,228.5 L760.9,229.1 L761.5,229.7 L761.0,230.3 L761.4,230.9 L761.6,231.4 L761.5,232.0 L761.8,232.6 L761.4,233.2 L762.1,233.8 L762.0,234.4 L761.6,235.0 L761.8,235.6 L761.9,236.2 L761.9,236.8 L762.2,237.3 L762.3,237.9 L762.1,238.6 L762.2,239.1 L762.6,239.7 L762.6,240.3 L762.6,240.9 L763.1,241.4 L762.8,242.0 L762.9,242.6 L763.3,243.1 L763.4,243.7 L763.5,244.3 L763.3,245.0 L763.2,245.6 L763.6,246.1 L763.6,246.7 L764.0,247.2 L763.5,248.0 L763.7,248.5 L763.9,249.1 L764.0,249.7 L763.7,250.3 L764.0,250.9 L764.3,251.4 L764.1,252.1 L764.4,252.6 L764.8,253.1 L764.6,253.8 L764.9,254.3 L765.0,254.9 L764.7,255.6 L765.0,256.1 L765.1,256.7 L765.1,257.3 L765.1,257.9 L765.3,258.4 L765.2,259.1 L765.8,259.5 L766.0,260.1 L765.8,260.7 L766.0,261.3 L766.1,261.9 L766.2,262.4 L765.9,263.2 L765.8,263.9 L766.2,264.4 L766.5,264.8 L766.8,265.3 L766.2,266.2 L766.4,266.8 L767.1,267.1 L766.6,267.9 L767.2,268.3 L767.2,268.9 L767.4,269.5 L767.6,270.0 L767.6,270.6 L767.5,271.3 L767.7,271.8 L767.6,272.5 L767.4,273.3 L768.1,273.5 L768.1,274.1 L768.3,274.7 L768.0,275.5 L768.0,276.2 L768.6,276.5 L768.3,277.2 L769.0,277.5 L769.1,278.0 L769.2,278.6 L768.8,279.6 L769.0,280.1 L768.7,281.0 L769.3,281.2 L769.6,281.7 L769.1,282.6 L769.3,283.2 L769.2,283.9 L769.6,284.3 L770.3,284.4 L769.9,285.4 L769.8,286.1 L770.6,286.1 L770.2,287.1 L770.6,287.4 L770.6,288.1 L771.0,288.5 L770.7,289.4 L770.8,290.0 L771.2,290.3 L770.7,291.5 L770.9,291.9 L771.4,292.1 L771.6,292.7 L771.6,293.3 L771.5,294.1 L771.6,294.7 L772.1,294.9 L771.4,296.2 L772.1,296.2 L771.7,297.3 L772.2,297.5 L772.2,298.3 L772.5,298.6 L772.0,299.8 L772.2,300.3 L772.7,300.5 L772.4,301.5 L772.9,301.7 L773.4,301.8 L773.1,302.8 L773.0,303.6 L772.9,304.4 L773.1,304.9 L773.5,305.1 L773.5,305.9 L773.5,306.6 L774.1,306.7 L773.8,307.6 L774.0,308.1 L774.3,308.5 L774.1,309.5 L774.3,309.9 L774.9,310.0 L774.5,311.1 L775.2,311.0 L774.7,312.3 L775.2,312.4 L775.3,313.0 L775.3,313.7 L775.2,314.6 L775.1,315.4 L775.6,315.6 L775.5,316.4 L775.3,317.4 L776.2,317.1 L776.1,317.8 L776.0,318.7 L776.0,319.5 L776.0,320.2 L776.8,319.9 L776.6,321.0 L777.0,321.2 L777.2,321.7 L776.8,322.9 L777.3,323.1 L777.8,323.2 L777.8,324.0 L777.9,324.6 L777.6,325.7 L778.0,326.0 L777.8,327.0 L778.7,326.7 L778.2,328.0 L778.5,328.4 L778.9,328.8 L779.0,329.4 L779.2,329.9 L779.2,330.7 L779.1,331.6 L779.9,331.5 L780.2,331.9 L779.9,333.0 L780.3,333.3 L780.4,334.1 L780.3,334.8 L781.2,334.7 L780.8,335.9 L780.8,336.5 L781.6,336.5 L781.3,337.5 L781.8,337.7 L782.1,338.2 L781.7,339.3 L782.3,339.5 L782.7,339.9 L782.6,340.7 L782.8,341.3 L783.3,341.6 L784.2,341.7 L784.0,342.5 L784.5,342.7 L785.3,342.5 L785.9,342.2 L787.0,341.6 L786.8,342.0 L787.8,341.2 L788.5,340.7 L788.3,341.1 L788.8,340.8 L789.1,340.6 L789.6,340.3 L790.6,339.3 L790.6,339.6 L791.3,338.9 L792.0,338.2 L792.0,338.6 L792.4,338.3 L793.0,337.7 L794.0,336.5 L794.1,336.8 L794.6,336.3 L795.9,334.4 L795.5,335.7 L796.1,335.0 L796.9,334.0 L797.2,334.0 L797.5,334.1 L798.0,333.6 L798.7,332.7 L798.6,333.6 L799.6,331.9 L799.6,332.6 L800.4,331.4 L800.7,331.4 L801.5,330.3 L801.9,330.0 L802.4,329.4 L802.5,330.1 L803.4,328.6 L803.2,329.9 L804.0,328.4 L804.7,327.5 L804.9,327.7 L805.3,327.6 L805.6,327.6 L806.1,327.0 L806.4,327.2 L806.9,326.5 L807.5,325.9 L807.8,325.9 L808.7,324.3 L808.7,325.3 L809.2,324.8 L809.7,324.4 L810.3,323.8 L810.7,323.7 L811.7,322.1 L811.9,322.7 L812.6,321.8 L813.3,321.1 L813.8,320.9 L813.8,321.9 L814.8,320.5 L815.2,320.5 L815.7,320.1 L816.1,320.3 L816.3,320.7 L817.1,319.9 L817.8,319.3 L818.2,319.2 L818.8,318.8 L819.5,318.3 L819.4,319.1 L820.6,317.6 L821.1,317.4 L821.7,317.1 L821.5,318.1 L822.4,317.2 L823.3,316.2 L823.1,317.3 L823.8,316.8 L824.7,315.8 L825.1,315.7 L825.7,315.4 L826.2,315.3 L826.5,315.4 L827.6,314.1 L827.8,314.4 L828.2,314.3 L829.0,313.6 L829.2,314.0 L830.1,312.9 L830.1,313.5 L831.1,312.4 L831.6,312.1 L832.1,312.1 L832.6,311.8 L833.3,311.1 L833.2,311.9 L833.7,311.6 L834.7,310.6 L835.2,310.3 L835.9,309.7 L836.0,310.1 L836.9,309.1 L837.5,308.7 L837.5,309.3 L838.3,308.5 L838.5,308.9 L839.5,307.6 L839.6,308.1 L840.4,307.2 L840.4,307.8 L841.0,307.4 L841.4,307.4 L842.5,306.0 L843.2,305.3 L842.9,306.5 L843.9,305.2 L844.2,305.3 L844.4,305.6 L845.0,305.0 L845.5,304.8 L846.2,304.1 L847.0,303.3 L847.4,303.2 L848.3,302.3 L848.5,302.5 L848.9,302.4 L849.4,302.1 L849.6,302.4 L850.8,300.7 L850.9,301.2 L851.3,301.0 L851.8,300.7 L852.8,299.5 L852.6,300.6 L853.2,300.2 L854.2,298.9 L854.4,299.3 L854.6,299.6 L855.2,299.1 L856.3,297.9 L856.4,298.5 L856.8,298.5 L857.4,298.1 L857.9,298.0 L859.1,296.5 L859.0,297.6 L859.7,297.0 L860.6,296.2 L861.4,295.6 L861.8,295.7 L861.7,296.6 L862.7,295.6 L863.0,295.8 L863.5,295.8 L864.2,295.3 L865.1,294.6 L865.1,295.3 L866.1,294.6 L866.5,294.6 L867.3,294.0 L867.9,293.7 L868.4,293.7 L869.0,293.5 L869.9,292.8 L870.2,293.1 L870.5,293.3 L871.3,292.8 L871.6,293.0 L872.6,292.2 L873.2,292.0 L873.6,292.1 L873.8,292.4 L874.9,291.6 L875.0,292.1 L875.4,292.2 L876.4,291.3 L876.5,291.9 L877.7,290.8 L878.4,290.5 L878.6,290.9 L879.0,291.0 L879.5,290.8 L879.9,291.0 L881.2,289.8 L881.2,290.5 L881.6,290.5 L882.7,289.7 L883.1,289.8 L883.6,289.8 L884.3,289.5 L885.4,288.7 L885.9,288.6 L886.1,288.9 L886.9,288.5 L887.3,288.7 L887.4,289.2 L888.1,289.0 L889.0,288.3 L890.0,287.8 L890.3,288.0 L891.0,287.8 L891.0,288.4 L891.8,288.0 L892.7,287.6 L893.1,287.6 L894.0,287.2 L893.9,288.0 L894.5,287.9 L895.2,287.6 L896.0,287.4 L896.4,287.5 L897.0,287.4 L898.1,286.7 L898.4,287.0 L899.3,286.5 L899.3,287.1 L900.2,286.7 L900.6,286.8 L901.0,287.0 L901.6,286.8 L902.1,286.9 L902.8,286.8 L903.7,286.2 L904.7,285.7 L904.7,286.3 L905.7,285.7 L905.7,286.4 L906.9,285.6 L906.9,286.2 L907.4,286.2 L908.7,285.3 L908.9,285.7 L909.4,285.8 L910.3,285.3 L911.0,285.1 L911.2,285.4 L911.7,285.5 L912.6,285.0 L912.9,285.4 L913.3,285.5 L914.1,285.2 L914.4,285.5 L915.3,285.0 L916.3,284.5 L916.4,285.0 L917.0,285.0 L917.9,284.6 L918.2,284.8 L918.6,285.1 L919.8,284.3 L920.4,284.3 L920.3,285.0 L921.1,284.7 L922.2,284.2 L922.5,284.5 L923.1,284.5 L923.5,284.7 L924.7,284.0 L925.3,284.0 L925.1,284.8 L925.8,284.8 L926.3,284.9 L927.2,284.6 L928.0,284.4 L928.8,284.2 L929.0,284.6 L929.4,284.9 L930.1,284.8 L930.9,284.6 L931.0,285.2 L932.2,284.6 L932.3,285.1 L932.7,285.3 L933.8,284.9 L934.4,285.0 L934.5,285.5 L935.4,285.2 L936.0,285.3 L936.3,285.6 L937.1,285.4 L937.4,285.7 L938.0,285.8 L938.9,285.5 L939.7,285.4 L939.9,285.8 L940.9,285.4 L941.3,285.7 L942.0,285.6 L943.0,285.3 L943.4,285.4 L943.8,285.7 L944.5,285.6 L945.3,285.4 L945.1,286.1 L946.3,285.6 L947.2,285.4 L947.3,285.8 L948.4,285.4 L948.6,285.8 L949.4,285.7 L950.0,285.7 L950.7,285.6 L950.6,286.3 L951.9,285.6 L951.9,286.3 L952.9,285.9 L952.8,286.5 L953.9,286.1 L954.4,286.2 L954.7,286.6 L956.1,285.8 L956.2,286.3 L957.0,286.2 L957.3,286.5 L958.0,286.4 L958.7,286.4 L959.6,286.0 L960.1,286.2 L960.1,286.9 L961.1,286.5 L961.4,286.9 L962.0,287.0 L962.3,287.3 L963.6,286.6 L963.5,287.4 L964.3,287.3 L965.5,286.6 L965.3,287.6 L966.8,286.7 L966.8,287.3 L967.7,287.0 L967.8,287.6 L968.8,287.3 L969.4,287.4 L970.3,287.1 L970.1,287.9 L971.4,287.2 L971.9,287.4 L972.5,287.5 L972.3,288.4 L973.7,287.6 L973.5,288.5 L974.8,287.8 L975.5,287.7 L975.7,288.2 L976.5,288.0 L976.8,288.4 L977.1,288.8 L978.3,288.1 L978.6,288.5 L979.2,288.5 L979.9,288.4 L980.0,289.1 L980.8,288.9 L981.4,288.9 L982.4,288.4 L983.0,288.5 L983.8,288.3 L984.2,288.5 L984.4,289.0 L984.8,289.3 L985.3,289.4 L986.8,288.4 L987.1,288.8 L988.0,288.4 L988.6,288.4 L988.3,289.6 L989.5,288.9 L990.0,288.9 L990.0,289.7 L991.2,289.0 L991.8,289.0 L992.6,288.8 L992.8,289.2 L993.4,289.3 L993.9,289.4 L995.1,288.6 L995.0,289.5 L995.4,289.7 L996.3,289.4 L997.1,289.2 L997.9,288.9 L998.7,288.7 L998.8,289.3 L998.9,289.9 L1000.4,288.9 L1000.6,289.4 L1001.0,289.7 L1001.4,289.9 L1002.2,289.7 L1003.2,289.0 L1003.6,289.3 L1004.4,289.1 L1004.4,289.9 L1005.7,289.0 L1006.2,289.1 L1006.6,289.3 L1007.2,289.3 L1008.1,288.8 L1008.1,289.7 L1008.8,289.6 L1009.6,289.2 L1009.8,289.8 L1010.8,289.3 L1011.4,289.2 L1012.3,288.7 L1012.8,288.8 L1013.3,288.9 L1013.7,289.3 L1013.8,289.9 L1014.5,289.8 L1015.4,289.3 L1016.3,288.9 L1017.0,288.8 L1017.2,289.3 L1017.3,289.9 L1017.9,289.9 L1019.4,288.7 L1019.2,289.7 L1020.3,288.9 L1021.0,288.8 L1021.2,289.3 L1021.7,289.4 L1022.9,288.6 L1023.4,288.7 L1023.4,289.5 L1024.7,288.4 L1025.3,288.4 L1025.1,289.6 L1025.6,289.6 L1026.8,288.8 L1027.1,289.2 L1027.6,289.3 L1028.0,289.5 L1029.0,288.9 L1030.0,288.2 L1030.5,288.3 L1030.4,289.3 L1031.5,288.5 L1031.6,289.3 L1032.3,289.0 L1033.5,288.1 L1033.5,288.9 L1034.8,287.8 L1035.3,287.9 L1035.1,289.1 L1036.5,287.8 L1036.3,289.0 L1036.9,288.9 L1037.8,288.3 L1038.1,288.8 L1039.0,288.2 L1040.0,287.6 L1041.9,285.3 L1041.0,287.7 L1041.2,288.3 L1041.8,288.2 L1042.8,287.5 L1042.9,288.3 L1044.1,287.1 L1044.1,288.1 L1045.4,286.8 L1045.8,287.0 L1045.8,288.0 L1046.4,287.9 L1047.6,286.9 L1047.8,287.6 L1048.1,287.9 L1049.4,286.7 L1050.0,286.5 L1050.1,287.4 L1051.1,286.5 L1051.3,287.2 L1052.4,286.1 L1053.0,286.1 L1052.9,287.4 L1053.8,286.6 L1054.1,287.3 L1054.9,286.7 L1055.9,285.9 L1055.8,287.1 L1056.7,286.5 L1057.0,287.0 L1057.9,286.4 L1058.6,286.0 L1058.9,286.7 L1059.8,285.9 L1060.0,286.8 L1061.2,285.4 L1061.3,286.3 L1062.0,286.0 L1062.9,285.3 L1063.6,285.2 L1063.9,285.6 L1064.8,285.0 L1065.1,285.4 L1065.4,285.9 L1066.5,284.8 L1066.9,285.3 L1067.3,285.7 L1068.1,285.1 L1068.8,284.8 L1069.0,285.6 L1070.0,284.6 L1070.4,284.9 L1071.0,284.9 L1071.6,284.8 L1072.4,284.2 L1072.4,285.6 L1073.5,284.1 L1074.0,284.5 L1074.5,284.5 L1074.8,285.1 L1076.0,283.7 L1076.2,284.3 L1077.0,283.8 L1077.3,284.6 L1077.7,284.8 L1078.7,283.8 L1079.2,284.0 L1079.7,283.9 L1080.5,283.4 L1081.0,283.5 L1081.4,284.0 L1082.3,283.1 L1083.0,282.7 L1083.6,282.5 L1084.6,281.4 L1084.5,283.0 L1085.2,282.7 L1085.7,282.9 L1086.0,283.7 L1086.8,283.0 L1087.2,283.3 L1087.8,283.2 L1088.7,282.2 L1089.4,281.6 L1089.4,283.2 L1090.3,282.3 L1090.7,282.7 L1091.7,281.4 L1092.0,282.0 L1092.7,281.6 L1093.3,281.5 L1094.0,280.9 L1094.4,281.4 L1094.8,281.8 L1095.6,281.0 L1096.1,281.1 L1096.5,281.4 L1097.2,281.1 L1097.8,280.7 L1098.6,279.8 L1099.0,280.5 L1099.6,280.2 L1100.4,279.2 L1101.3,277.9 L1101.2,280.2 L1101.9,279.6 L1102.6,279.0 L1103.0,279.3 L1103.8,278.5 L1104.2,278.7 L1104.7,278.9 L1105.3,278.7 L1106.0,278.0 L1106.3,279.2 L1107.0,278.2 L1107.7,277.7 L1108.4,277.0 L1108.7,277.9 L1109.1,278.4 L1109.7,278.4 L1110.3,277.9 L1111.0,277.3 L1111.8,276.1 L1112.2,276.8 L1112.9,276.2 L1113.2,277.4 L1113.8,277.1 L1114.7,275.5 L1115.3,275.4 L1115.6,276.1 L1116.3,275.6 L1116.7,276.2 L1117.3,275.9 L1117.9,275.6 L1118.6,275.0 L1119.0,275.8 L1119.8,274.8 L1120.3,274.9 L1120.8,275.3 L1121.4,274.8 L1122.0,274.3 L1122.4,275.2 L1123.3,273.4 L1123.8,273.7 L1124.4,273.5 L1125.0,273.3 L1125.4,273.7 L1126.0,273.5 L1126.5,274.0 L1127.2,273.3 L1127.8,272.8 L1128.3,272.9 L1129.0,272.2 L1129.5,272.5 L1130.1,272.2 L1130.6,272.2 L1131.1,272.7 L1131.8,271.2 L1132.3,271.9 L1132.9,271.1 L1133.5,271.0 L1134.0,271.4 L1134.6,270.5 L1135.1,270.9 L1135.7,271.2 L1136.2,271.3 L1136.9,269.9 L1137.5,269.5 L1138.1,269.2 L1138.6,269.2 L1139.0,270.5 L1139.7,268.9 L1140.2,270.1 L1140.8,269.0 L1141.3,269.2 L1141.9,268.7 L1142.5,269.0 L1143.1,267.5 L1143.7,267.4 L1144.2,267.6 L1144.8,267.8 L1145.3,267.8 L1145.8,268.2 L1146.4,268.3 L1147.0,267.4 L1147.6,266.7 L1148.1,267.1 L1148.7,265.7 L1149.3,266.0 L1149.8,266.5 L1150.4,266.8 L1151.0,265.3 L1151.5,265.9 L1152.1,265.1 L1152.7,264.5 L1153.2,266.1 L1153.9,261.5 L1154.3,265.0 L1154.9,264.4 L1155.5,265.0 L1156.1,263.4 L1156.6,264.5 L1157.2,264.5 L1157.7,262.9 L1158.3,263.2 L1158.9,263.1 L1159.4,263.9 L1160.0,263.5 L1160.6,262.9 L1161.2,263.6 L1161.7,263.3 L1162.3,261.9 L1162.9,262.5 L1163.4,262.3 L1164.0,262.1 L1164.6,262.7 L1165.1,260.7 L1165.7,261.3 L1166.3,261.1 L1166.9,262.2 L1167.4,260.6 L1168.0,260.5 L1168.6,260.0 L1169.2,259.9 L1169.8,259.9 L1170.4,261.4 L1171.0,260.8 L1171.5,260.2 L1172.2,260.6 L1172.8,260.9 L1173.3,260.4 L1173.9,259.8 L1174.5,260.4 L1175.2,261.0 L1175.7,259.9 L1176.3,259.9 L1176.8,259.5 L1177.4,259.7 L1178.1,260.2 L1178.6,259.5 L1179.2,266.7 L1178.7,267.3 L1178.0,266.7 L1177.5,267.3 L1176.8,266.4 L1176.3,268.2 L1175.6,267.2 L1175.1,268.3 L1174.5,268.9 L1173.9,268.3 L1173.2,267.6 L1172.6,267.5 L1172.0,268.4 L1171.4,268.3 L1170.8,268.9 L1170.2,269.2 L1169.6,269.0 L1169.0,268.1 L1168.4,268.8 L1167.8,268.9 L1167.2,268.7 L1166.6,270.0 L1166.0,269.1 L1165.4,270.4 L1164.8,271.0 L1164.2,269.6 L1163.6,269.7 L1163.0,271.3 L1162.4,270.8 L1161.8,270.6 L1161.2,270.3 L1160.6,270.7 L1160.0,270.6 L1159.4,271.1 L1158.9,271.0 L1158.3,272.5 L1157.7,271.9 L1157.1,272.8 L1156.5,272.4 L1155.9,272.4 L1155.3,272.9 L1154.7,273.6 L1154.1,274.1 L1153.6,272.8 L1153.0,273.5 L1152.4,274.2 L1151.8,275.0 L1151.2,275.1 L1150.6,275.0 L1150.1,274.0 L1149.4,274.7 L1148.9,274.9 L1148.3,274.7 L1147.7,275.0 L1147.0,276.5 L1146.5,276.2 L1145.9,276.6 L1145.4,275.6 L1144.7,276.7 L1144.1,276.7 L1143.5,277.6 L1143.0,276.5 L1142.4,276.4 L1141.8,277.7 L1141.2,277.1 L1140.6,278.3 L1140.0,278.5 L1139.5,277.4 L1138.8,278.8 L1138.2,278.6 L1137.6,278.8 L1137.0,279.7 L1136.5,278.8 L1136.0,278.4 L1135.2,280.5 L1134.6,280.7 L1134.2,279.0 L1133.5,280.3 L1133.0,280.0 L1132.3,280.4 L1131.7,281.3 L1131.1,281.1 L1130.6,280.7 L1129.9,281.6 L1129.4,281.2 L1128.7,281.8 L1128.3,280.9 L1127.5,282.2 L1126.8,283.0 L1126.3,282.9 L1125.8,282.5 L1125.1,282.7 L1124.7,281.8 L1123.9,283.0 L1123.5,282.5 L1122.9,282.6 L1122.3,282.4 L1121.7,282.5 L1120.8,284.3 L1120.5,283.2 L1119.9,283.2 L1119.0,284.8 L1118.5,284.1 L1117.8,284.8 L1117.4,284.3 L1116.8,284.3 L1116.3,284.0 L1115.7,283.9 L1115.0,284.7 L1114.2,285.5 L1113.9,284.5 L1113.0,285.9 L1112.4,286.1 L1112.0,285.3 L1111.3,285.8 L1110.6,286.5 L1110.0,286.8 L1109.5,286.2 L1108.8,286.8 L1108.2,287.1 L1107.7,286.8 L1107.3,286.2 L1106.7,286.5 L1105.7,288.2 L1105.2,287.9 L1104.8,287.0 L1104.3,287.1 L1103.5,288.0 L1102.9,288.0 L1102.1,289.0 L1101.8,288.1 L1100.9,289.3 L1100.4,288.9 L1100.0,288.5 L1099.6,288.1 L1098.9,288.5 L1098.0,289.9 L1097.7,288.7 L1096.9,289.7 L1096.3,289.8 L1095.5,290.5 L1095.2,289.5 L1094.4,290.5 L1093.9,290.3 L1093.1,290.9 L1092.6,290.7 L1092.1,290.5 L1091.7,290.1 L1090.8,291.1 L1090.2,291.0 L1089.4,291.9 L1088.8,291.7 L1088.4,291.3 L1087.8,291.3 L1087.2,291.4 L1086.3,292.3 L1085.7,292.3 L1085.3,291.8 L1084.9,291.3 L1084.2,291.7 L1083.5,292.0 L1082.8,292.4 L1082.2,292.3 L1081.6,292.5 L1081.1,292.2 L1080.3,292.8 L1079.9,292.3 L1079.2,292.6 L1078.8,292.1 L1078.0,292.6 L1077.2,293.3 L1076.4,293.7 L1076.3,292.5 L1075.7,292.7 L1074.8,293.3 L1074.5,292.6 L1073.9,292.7 L1073.2,292.9 L1072.7,292.9 L1071.8,293.6 L1070.9,294.2 L1070.8,293.2 L1069.8,294.0 L1069.3,293.8 L1068.8,293.7 L1068.3,293.4 L1067.4,294.2 L1067.0,293.8 L1066.2,294.3 L1065.3,295.0 L1064.7,294.9 L1064.2,294.7 L1064.1,293.7 L1063.5,293.7 L1062.5,294.7 L1061.6,295.3 L1061.2,294.9 L1060.5,295.1 L1060.3,294.4 L1059.4,295.0 L1059.3,294.0 L1058.0,295.4 L1057.9,294.5 L1057.0,295.1 L1056.3,295.2 L1055.8,295.0 L1055.1,295.4 L1054.3,295.8 L1053.9,295.4 L1053.1,295.9 L1053.1,294.8 L1052.1,295.5 L1051.4,295.7 L1050.9,295.6 L1050.1,296.1 L1050.0,295.1 L1049.0,296.0 L1048.0,296.7 L1047.7,296.2 L1046.9,296.7 L1046.3,296.7 L1045.5,297.0 L1045.7,295.6 L1044.5,296.8 L1043.7,297.1 L1043.3,296.8 L1042.9,296.6 L1042.5,296.1 L1041.5,296.9 L1041.3,296.2 L1040.4,296.8 L1040.1,296.2 L1038.8,297.6 L1038.1,297.7 L1037.6,297.6 L1037.7,296.4 L1037.0,296.5 L1036.1,297.2 L1035.3,297.5 L1034.8,297.3 L1034.3,297.2 L1033.8,297.0 L1033.4,296.7 L1032.2,297.7 L1032.0,297.0 L1031.3,297.3 L1030.7,297.2 L1030.0,297.3 L1029.2,297.6 L1028.3,298.2 L1028.3,297.1 L1027.2,298.0 L1026.6,297.9 L1026.0,298.0 L1025.2,298.2 L1025.4,297.1 L1024.3,297.8 L1023.9,297.5 L1023.2,297.6 L1022.5,297.8 L1022.2,297.3 L1021.5,297.5 L1020.2,298.5 L1019.9,298.0 L1019.7,297.4 L1018.7,298.0 L1017.9,298.3 L1018.0,297.3 L1017.0,297.8 L1016.4,297.8 L1015.8,297.8 L1015.0,298.1 L1014.3,298.2 L1013.9,297.9 L1013.0,298.5 L1012.4,298.5 L1011.9,298.3 L1011.1,298.6 L1010.7,298.3 L1009.8,298.8 L1009.9,297.8 L1009.3,297.8 L1008.0,298.8 L1007.2,299.1 L1007.4,298.0 L1006.7,298.1 L1006.0,298.3 L1004.8,299.2 L1004.1,299.2 L1004.1,298.5 L1003.5,298.5 L1002.9,298.5 L1002.4,298.3 L1000.9,299.5 L1000.8,298.9 L1000.5,298.4 L999.4,299.0 L999.3,298.4 L997.8,299.5 L997.5,299.2 L997.5,298.3 L996.1,299.4 L995.6,299.1 L994.9,299.3 L994.7,298.7 L993.9,298.9 L993.3,298.9 L992.9,298.5 L992.3,298.5 L991.8,298.4 L991.2,298.3 L990.4,298.5 L989.7,298.6 L989.4,298.2 L988.6,298.4 L987.6,298.8 L987.3,298.4 L986.7,298.3 L986.4,297.9 L984.9,298.9 L984.2,299.0 L983.7,298.7 L983.0,298.9 L982.5,298.6 L982.3,298.1 L981.2,298.6 L980.9,298.3 L980.4,298.1 L979.4,298.4 L978.8,298.4 L978.3,298.2 L977.7,298.2 L977.1,298.1 L976.8,297.7 L975.9,298.0 L975.3,298.0 L975.3,297.3 L973.8,298.3 L973.6,297.7 L973.2,297.4 L972.4,297.6 L972.1,297.3 L970.9,297.9 L970.7,297.3 L969.5,297.9 L968.8,298.0 L968.5,297.7 L967.8,297.7 L967.2,297.7 L966.3,298.0 L966.1,297.4 L965.9,296.9 L964.5,297.7 L964.0,297.6 L963.6,297.4 L962.7,297.6 L962.0,297.7 L961.3,297.7 L961.5,296.8 L960.9,296.7 L960.1,296.9 L959.3,297.0 L958.7,297.0 L957.8,297.2 L957.2,297.1 L956.4,297.3 L956.5,296.5 L955.3,297.0 L955.3,296.3 L954.0,296.9 L954.1,296.2 L953.6,295.9 L952.0,296.9 L951.8,296.4 L951.3,296.1 L951.0,295.8 L949.7,296.5 L949.0,296.4 L948.9,295.8 L948.3,295.7 L948.0,295.4 L947.2,295.5 L946.8,295.2 L945.4,295.9 L945.3,295.3 L945.0,295.0 L943.5,295.8 L943.1,295.5 L943.1,294.8 L941.8,295.5 L941.2,295.4 L941.3,294.6 L940.4,294.8 L939.6,295.0 L939.3,294.6 L938.7,294.6 L937.9,294.7 L937.6,294.3 L936.4,294.8 L935.6,294.9 L934.9,294.9 L934.6,294.5 L934.0,294.5 L933.2,294.5 L932.4,294.7 L931.9,294.5 L931.3,294.4 L931.0,294.2 L930.1,294.4 L930.2,293.7 L929.2,294.0 L928.1,294.4 L927.9,294.0 L927.6,293.7 L926.8,293.8 L926.2,293.8 L925.4,294.0 L924.6,294.1 L924.3,293.8 L923.6,293.9 L923.0,294.0 L922.7,293.7 L921.8,294.0 L921.3,293.9 L920.1,294.5 L919.4,294.7 L919.4,294.2 L919.0,294.0 L917.6,294.9 L917.7,294.4 L916.4,295.1 L916.3,294.6 L915.2,295.3 L914.4,295.6 L913.9,295.6 L913.6,295.4 L912.8,295.7 L912.2,295.8 L912.0,295.5 L911.5,295.6 L910.4,296.2 L910.4,295.7 L909.2,296.5 L909.1,296.0 L908.7,295.9 L908.0,296.2 L906.7,297.1 L906.8,296.4 L906.0,296.8 L905.7,296.6 L904.2,297.7 L904.4,296.9 L903.5,297.3 L903.2,297.1 L902.1,297.8 L901.4,298.1 L901.0,298.0 L900.4,298.1 L899.8,298.2 L898.9,298.6 L898.8,298.2 L898.3,298.1 L896.9,299.1 L897.0,298.5 L896.5,298.4 L895.0,299.5 L894.6,299.3 L893.8,299.7 L894.0,298.8 L892.7,299.7 L892.9,298.9 L891.8,299.6 L891.6,299.2 L890.4,299.9 L890.0,299.8 L889.3,300.0 L888.6,300.3 L887.9,300.6 L888.0,299.9 L887.4,300.1 L886.8,300.1 L885.4,301.3 L884.9,301.4 L884.5,301.3 L884.0,301.3 L882.9,302.2 L883.2,301.2 L882.6,301.5 L881.3,302.5 L880.8,302.6 L880.4,302.6 L879.8,302.8 L879.1,303.2 L878.7,303.2 L877.9,303.7 L877.1,304.1 L876.5,304.5 L876.4,303.9 L876.2,303.7 L875.6,303.9 L875.0,304.2 L873.7,305.4 L873.6,304.9 L873.0,305.2 L872.7,305.0 L871.6,305.9 L871.6,305.4 L870.3,306.6 L870.3,306.0 L869.6,306.5 L868.7,307.1 L868.0,307.5 L867.8,307.3 L867.4,307.2 L866.7,307.6 L866.2,307.7 L865.6,308.0 L864.4,309.1 L864.6,308.3 L863.8,308.8 L862.7,309.8 L862.9,308.9 L862.2,309.4 L861.5,309.8 L860.7,310.5 L859.9,311.0 L859.8,310.5 L859.2,310.8 L858.7,311.1 L858.1,311.4 L857.1,312.3 L856.6,312.4 L856.2,312.5 L856.1,312.1 L854.8,313.6 L854.8,313.0 L853.9,314.0 L854.0,313.3 L852.9,314.4 L852.3,314.9 L852.2,314.5 L851.2,315.7 L851.3,314.9 L850.2,316.2 L850.1,315.8 L849.0,317.1 L849.1,316.3 L848.3,317.0 L848.0,316.9 L847.3,317.6 L847.0,317.4 L846.3,318.0 L845.5,318.7 L844.9,319.2 L844.2,319.8 L844.0,319.5 L843.7,319.3 L843.1,319.8 L842.3,320.6 L842.1,320.2 L841.4,320.9 L840.9,321.1 L840.3,321.6 L839.5,322.4 L839.4,322.0 L838.5,322.9 L838.5,322.2 L837.5,323.4 L837.5,322.8 L836.3,324.3 L835.9,324.5 L835.4,324.6 L834.8,325.2 L834.2,325.7 L833.9,325.6 L833.8,325.2 L832.8,326.4 L832.0,327.1 L831.6,327.4 L831.6,326.6 L830.6,327.8 L830.5,327.4 L830.0,327.7 L828.8,329.2 L828.5,329.1 L828.3,328.8 L827.6,329.3 L826.9,330.1 L826.3,330.4 L825.5,331.1 L825.8,329.9 L824.8,331.0 L824.6,330.8 L824.0,331.2 L823.3,331.8 L822.9,331.9 L822.5,331.8 L821.6,332.9 L820.7,333.8 L820.1,334.2 L819.7,334.3 L819.6,333.8 L818.6,335.1 L818.2,335.2 L817.6,335.7 L817.2,335.7 L817.3,335.0 L816.5,335.8 L816.1,335.8 L815.4,336.5 L815.2,336.2 L814.2,337.5 L813.8,337.5 L813.5,337.5 L813.0,337.9 L812.5,338.3 L811.9,338.8 L810.9,340.2 L811.1,339.2 L810.0,340.9 L810.1,340.1 L809.7,340.4 L808.6,341.9 L808.4,341.8 L807.6,342.9 L807.7,342.2 L806.8,343.6 L806.8,343.0 L806.3,343.4 L805.2,345.2 L805.1,344.8 L805.0,344.5 L804.3,345.4 L803.5,346.9 L803.5,346.1 L803.2,346.2 L802.6,347.0 L802.0,347.8 L801.7,347.8 L801.0,348.7 L800.6,349.2 L800.0,350.0 L799.4,350.7 L799.6,349.5 L798.6,351.3 L798.2,351.6 L798.1,351.2 L797.4,352.1 L796.8,352.9 L796.4,353.1 L796.0,353.5 L795.6,353.7 L795.1,354.4 L794.9,353.9 L794.1,355.4 L793.8,355.5 L793.4,355.6 L792.6,357.0 L792.4,356.6 L791.9,357.0 L791.6,356.9 L790.6,358.4 L790.3,358.0 L789.6,358.6 L789.0,359.0 L788.8,358.2 L788.4,358.0 L787.6,358.5 L786.8,359.1 L786.2,359.1 L785.6,359.1 L784.9,359.3 L784.5,358.8 L783.4,359.6 L783.0,359.1 L782.7,358.5 L782.0,358.5 L781.3,358.5 L780.6,358.5 L780.0,358.3 L780.0,357.2 L778.7,357.9 L778.1,357.7 L778.5,356.1 L777.6,356.3 L777.0,356.1 L776.8,355.4 L776.5,354.9 L776.6,353.9 L775.9,353.9 L776.3,352.6 L776.0,352.2 L775.5,351.9 L775.2,351.4 L775.5,350.5 L774.9,350.3 L775.1,349.4 L775.4,348.5 L774.9,348.1 L774.6,347.7 L775.1,346.7 L775.1,346.0 L775.0,345.5 L774.7,345.1 L774.5,344.7 L775.4,343.3 L775.0,343.1 L774.7,342.7 L775.4,341.5 L775.3,341.0 L774.5,341.0 L775.1,339.8 L774.8,339.6 L775.3,338.3 L775.0,338.0 L774.9,337.4 L774.5,337.1 L774.8,336.1 L774.3,336.0 L774.0,335.6 L773.9,335.0 L774.3,333.8 L774.6,332.8 L773.8,333.0 L773.9,332.2 L773.9,331.5 L773.9,330.8 L773.7,330.3 L773.3,330.1 L773.8,328.7 L773.9,327.9 L773.4,327.8 L773.1,327.4 L773.2,326.6 L772.9,326.2 L773.0,325.4 L772.6,325.1 L772.8,324.1 L772.4,323.9 L772.2,323.4 L772.8,321.9 L772.7,321.3 L772.4,320.9 L772.1,320.6 L771.7,320.3 L771.8,319.5 L771.8,318.7 L771.7,318.1 L771.3,317.9 L771.8,316.5 L771.4,316.3 L771.2,315.8 L770.9,315.3 L771.3,314.2 L771.1,313.6 L770.7,313.4 L771.0,312.3 L771.0,311.6 L770.7,311.1 L770.6,310.6 L770.2,310.3 L770.0,309.8 L770.3,308.7 L769.8,308.6 L770.2,307.3 L769.4,307.5 L769.7,306.4 L769.3,306.1 L770.0,304.7 L769.6,304.4 L769.8,303.4 L769.7,302.8 L768.9,302.9 L768.9,302.2 L768.7,301.6 L768.5,301.1 L768.7,300.2 L768.6,299.6 L768.7,298.8 L768.8,298.0 L767.8,298.2 L768.5,296.8 L768.0,296.5 L767.7,296.1 L768.0,295.2 L767.4,294.9 L767.5,294.2 L767.9,293.2 L767.6,292.7 L766.7,292.7 L767.4,291.5 L766.6,291.5 L766.8,290.5 L766.6,290.0 L767.0,289.0 L766.6,288.6 L766.5,288.0 L766.2,287.5 L766.2,286.9 L766.5,285.9 L766.2,285.5 L765.8,285.1 L766.0,284.2 L765.7,283.8 L765.2,283.4 L765.4,282.6 L765.5,281.8 L765.0,281.5 L765.0,280.8 L765.2,280.0 L764.5,279.8 L764.4,279.2 L764.5,278.4 L764.7,277.6 L764.4,277.1 L764.1,276.6 L764.4,275.7 L764.4,275.1 L764.1,274.6 L763.9,274.0 L763.4,273.6 L763.3,273.0 L763.3,272.3 L763.8,271.4 L763.6,270.8 L762.8,270.6 L762.9,269.9 L763.1,269.1 L762.5,268.7 L762.6,268.0 L762.5,267.4 L762.2,266.9 L762.2,266.2 L762.3,265.5 L761.9,265.0 L762.2,264.2 L762.2,263.6 L761.7,263.2 L761.6,262.5 L761.4,262.0 L761.4,261.3 L761.7,260.5 L761.5,260.0 L761.1,259.5 L761.2,258.8 L760.8,258.3 L761.0,257.5 L760.6,257.0 L760.6,256.4 L760.9,255.7 L760.9,255.0 L760.7,254.4 L760.3,253.9 L760.3,253.3 L760.3,252.6 L760.1,252.0 L760.1,251.4 L760.1,250.8 L759.6,250.3 L759.8,249.6 L759.6,249.0 L759.8,248.3 L759.8,247.7 L759.7,247.1 L759.6,246.5 L759.0,246.0 L759.5,245.2 L758.9,244.7 L759.3,244.0 L759.1,243.4 L758.9,242.8 L758.8,242.2 L758.8,241.6 L758.6,241.0 L758.7,240.4 L758.7,239.7 L758.6,239.1 L758.6,238.5 L758.2,237.9 L758.0,237.3 L758.4,236.6 L757.9,236.1 L758.2,235.4 L757.9,234.8 L758.1,234.2 L757.4,233.6 L757.7,233.0 L757.5,232.4 L757.1,231.8 L757.5,231.1 L757.4,230.5 L757.2,229.9 L757.0,229.3 L757.4,228.7 L757.3,228.1 L756.9,227.5 L756.8,226.8 L756.7,226.2 L756.9,225.6 L756.9,225.0Z" fill="#f00"/>
<line x1="876" y1="112" x2="876" y2="124.5" stroke="#f00" stroke-width="1.6"/>
<text font-family="Liberation Sans, sans-serif" font-size="23" fill="#333" stroke="#333" stroke-width="0.5" x="784.5" y="212.8">Linear</text>
<text font-family="Liberation Sans, sans-serif" font-size="23" fill="#333" stroke="#333" stroke-width="0.5" x="784.5" y="243.2">elastic</text>
<line x1="770.5" y1="218.5" x2="786.4" y2="299.3" stroke="#5a5a5a" stroke-width="2.5"/><polygon points="788.1,308.1 782,299.1 790.4,297.5" fill="#5a5a5a"/>
<text font-family="Liberation Sans, sans-serif" font-size="24" fill="#333" stroke="#333" stroke-width="0.5" x="895" y="260" textLength="207" lengthAdjust="spacingAndGlyphs">Plastic deformation</text>
<line x1="925.6" y1="269.8" x2="1023" y2="269.8" stroke="#5a5a5a" stroke-width="3.2"/><polygon points="1032,269.8 1022,274.4 1022,265.1" fill="#5a5a5a"/>
<line x1="1120" y1="56.4" x2="1160" y2="56.4" stroke="#2a2a2a" stroke-width="2.5"/>
<line x1="1120" y1="84" x2="1161.4" y2="84" stroke="#e84848" stroke-width="3.2"/>
<text font-family="Liberation Serif, serif" font-style="italic" font-size="25" fill="#333" stroke="#333" stroke-width="0.35" x="1169" y="62.3">k<tspan font-size="22" dx="3.5" dy="5.5">x</tspan></text>
<text font-family="Liberation Serif, serif" font-style="italic" font-size="25" fill="#333" stroke="#333" stroke-width="0.35" x="1169" y="93">k<tspan font-size="22" dx="3.5" dy="4.5">y</tspan></text>
<text font-family="Liberation Serif, serif" font-size="34" fill="#1a1a1a" x="330.5" y="511.5">(a)</text>
<text font-family="Liberation Serif, serif" font-size="34" fill="#1a1a1a" x="989" y="512">(b)</text></svg>
</body></html>
